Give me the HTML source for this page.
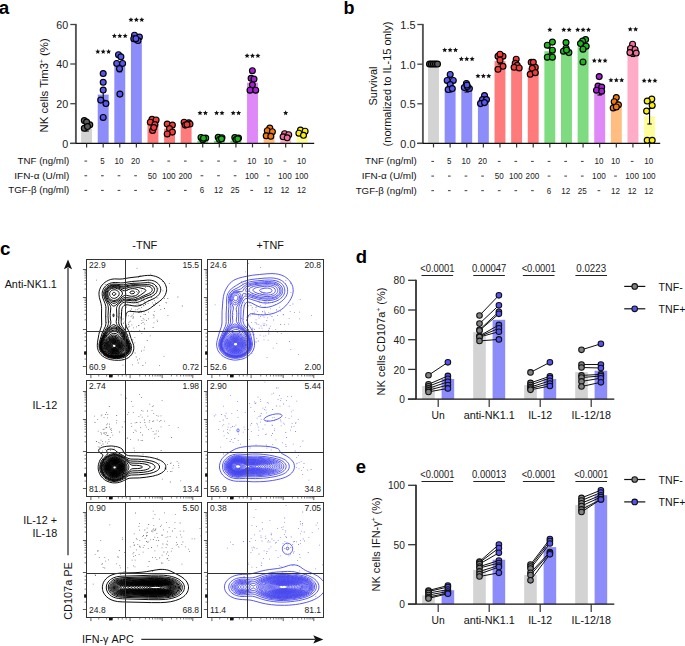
<!DOCTYPE html>
<html><head><meta charset="utf-8"><style>
html,body{margin:0;padding:0;background:#fff;}
svg{display:block;font-family:"Liberation Sans", sans-serif;}
</style></head><body>
<svg width="685" height="646" viewBox="0 0 685 646">
<rect width="685" height="646" fill="#fff"/>
<text x="-1.20" y="13.90" font-size="18.8" text-anchor="start" font-weight="bold">a</text>
<text x="343.40" y="13.90" font-size="19" text-anchor="start" font-weight="bold" textLength="11.0" lengthAdjust="spacingAndGlyphs">b</text>
<text x="0.00" y="255.30" font-size="18.8" text-anchor="start" font-weight="bold">c</text>
<text x="355.80" y="263.10" font-size="18.5" text-anchor="start" font-weight="bold">d</text>
<text x="355.80" y="472.90" font-size="18.5" text-anchor="start" font-weight="bold">e</text>
<rect x="81.15" y="128.30" width="10.90" height="15.10" fill="#d3d3d3"/>
<rect x="97.74" y="94.60" width="10.90" height="48.80" fill="#8c8cfb"/>
<rect x="114.33" y="66.90" width="10.90" height="76.50" fill="#8c8cfb"/>
<rect x="130.92" y="40.60" width="10.90" height="102.80" fill="#8c8cfb"/>
<rect x="147.51" y="123.90" width="10.90" height="19.50" fill="#ff7b7b"/>
<rect x="164.10" y="128.60" width="10.90" height="14.80" fill="#ff7b7b"/>
<rect x="180.69" y="124.50" width="10.90" height="18.90" fill="#ff7b7b"/>
<rect x="197.28" y="140.90" width="10.90" height="2.50" fill="#7fdb7f"/>
<rect x="213.87" y="140.60" width="10.90" height="2.80" fill="#7fdb7f"/>
<rect x="230.46" y="140.60" width="10.90" height="2.80" fill="#7fdb7f"/>
<rect x="247.05" y="82.70" width="10.90" height="60.70" fill="#df88f7"/>
<rect x="263.64" y="133.00" width="10.90" height="10.40" fill="#ffbd80"/>
<rect x="280.23" y="140.40" width="10.90" height="3.00" fill="#ffacc8"/>
<rect x="296.82" y="136.30" width="10.90" height="7.10" fill="#fdfd9a"/>
<line x1="86.60" y1="125.00" x2="86.60" y2="131.00" stroke="#000" stroke-width="1.1"/>
<line x1="84.40" y1="125.00" x2="88.80" y2="125.00" stroke="#000" stroke-width="1.1"/>
<line x1="84.40" y1="131.00" x2="88.80" y2="131.00" stroke="#000" stroke-width="1.1"/>
<line x1="103.19" y1="90.00" x2="103.19" y2="100.20" stroke="#000" stroke-width="1.1"/>
<line x1="100.99" y1="90.00" x2="105.39" y2="90.00" stroke="#000" stroke-width="1.1"/>
<line x1="100.99" y1="100.20" x2="105.39" y2="100.20" stroke="#000" stroke-width="1.1"/>
<line x1="119.78" y1="62.50" x2="119.78" y2="71.80" stroke="#000" stroke-width="1.1"/>
<line x1="117.58" y1="62.50" x2="121.98" y2="62.50" stroke="#000" stroke-width="1.1"/>
<line x1="117.58" y1="71.80" x2="121.98" y2="71.80" stroke="#000" stroke-width="1.1"/>
<line x1="136.37" y1="38.50" x2="136.37" y2="42.00" stroke="#000" stroke-width="1.1"/>
<line x1="134.17" y1="38.50" x2="138.57" y2="38.50" stroke="#000" stroke-width="1.1"/>
<line x1="134.17" y1="42.00" x2="138.57" y2="42.00" stroke="#000" stroke-width="1.1"/>
<line x1="152.96" y1="121.00" x2="152.96" y2="127.00" stroke="#000" stroke-width="1.1"/>
<line x1="150.76" y1="121.00" x2="155.16" y2="121.00" stroke="#000" stroke-width="1.1"/>
<line x1="150.76" y1="127.00" x2="155.16" y2="127.00" stroke="#000" stroke-width="1.1"/>
<line x1="169.55" y1="126.00" x2="169.55" y2="131.00" stroke="#000" stroke-width="1.1"/>
<line x1="167.35" y1="126.00" x2="171.75" y2="126.00" stroke="#000" stroke-width="1.1"/>
<line x1="167.35" y1="131.00" x2="171.75" y2="131.00" stroke="#000" stroke-width="1.1"/>
<line x1="186.14" y1="123.00" x2="186.14" y2="126.00" stroke="#000" stroke-width="1.1"/>
<line x1="183.94" y1="123.00" x2="188.34" y2="123.00" stroke="#000" stroke-width="1.1"/>
<line x1="183.94" y1="126.00" x2="188.34" y2="126.00" stroke="#000" stroke-width="1.1"/>
<line x1="252.50" y1="78.00" x2="252.50" y2="87.00" stroke="#000" stroke-width="1.1"/>
<line x1="250.30" y1="78.00" x2="254.70" y2="78.00" stroke="#000" stroke-width="1.1"/>
<line x1="250.30" y1="87.00" x2="254.70" y2="87.00" stroke="#000" stroke-width="1.1"/>
<line x1="269.09" y1="130.50" x2="269.09" y2="135.50" stroke="#000" stroke-width="1.1"/>
<line x1="266.89" y1="130.50" x2="271.29" y2="130.50" stroke="#000" stroke-width="1.1"/>
<line x1="266.89" y1="135.50" x2="271.29" y2="135.50" stroke="#000" stroke-width="1.1"/>
<line x1="285.68" y1="135.00" x2="285.68" y2="139.00" stroke="#000" stroke-width="1.1"/>
<line x1="283.48" y1="135.00" x2="287.88" y2="135.00" stroke="#000" stroke-width="1.1"/>
<line x1="283.48" y1="139.00" x2="287.88" y2="139.00" stroke="#000" stroke-width="1.1"/>
<line x1="302.27" y1="131.50" x2="302.27" y2="135.00" stroke="#000" stroke-width="1.1"/>
<line x1="300.07" y1="131.50" x2="304.47" y2="131.50" stroke="#000" stroke-width="1.1"/>
<line x1="300.07" y1="135.00" x2="304.47" y2="135.00" stroke="#000" stroke-width="1.1"/>
<circle cx="84.30" cy="120.60" r="2.95" fill="#5a5a5a" stroke="#000" stroke-width="1.15"/>
<circle cx="89.80" cy="124.80" r="2.95" fill="#5a5a5a" stroke="#000" stroke-width="1.15"/>
<circle cx="84.30" cy="128.30" r="2.95" fill="#5a5a5a" stroke="#000" stroke-width="1.15"/>
<circle cx="86.60" cy="122.00" r="2.95" fill="#5a5a5a" stroke="#000" stroke-width="1.15"/>
<circle cx="87.50" cy="126.50" r="2.95" fill="#5a5a5a" stroke="#000" stroke-width="1.15"/>
<circle cx="103.20" cy="73.50" r="2.95" fill="#5757f2" stroke="#000" stroke-width="1.15"/>
<circle cx="103.20" cy="82.30" r="2.95" fill="#5757f2" stroke="#000" stroke-width="1.15"/>
<circle cx="103.20" cy="90.00" r="2.95" fill="#5757f2" stroke="#000" stroke-width="1.15"/>
<circle cx="100.70" cy="100.10" r="2.95" fill="#5757f2" stroke="#000" stroke-width="1.15"/>
<circle cx="105.90" cy="103.50" r="2.95" fill="#5757f2" stroke="#000" stroke-width="1.15"/>
<circle cx="103.20" cy="117.40" r="2.95" fill="#5757f2" stroke="#000" stroke-width="1.15"/>
<circle cx="118.50" cy="54.70" r="2.95" fill="#5757f2" stroke="#000" stroke-width="1.15"/>
<circle cx="120.90" cy="56.80" r="2.95" fill="#5757f2" stroke="#000" stroke-width="1.15"/>
<circle cx="116.70" cy="63.40" r="2.95" fill="#5757f2" stroke="#000" stroke-width="1.15"/>
<circle cx="122.60" cy="63.40" r="2.95" fill="#5757f2" stroke="#000" stroke-width="1.15"/>
<circle cx="119.50" cy="68.70" r="2.95" fill="#5757f2" stroke="#000" stroke-width="1.15"/>
<circle cx="119.90" cy="94.10" r="2.95" fill="#5757f2" stroke="#000" stroke-width="1.15"/>
<circle cx="134.50" cy="35.20" r="2.95" fill="#5757f2" stroke="#000" stroke-width="1.15"/>
<circle cx="139.40" cy="37.00" r="2.95" fill="#5757f2" stroke="#000" stroke-width="1.15"/>
<circle cx="133.80" cy="38.70" r="2.95" fill="#5757f2" stroke="#000" stroke-width="1.15"/>
<circle cx="138.00" cy="40.50" r="2.95" fill="#5757f2" stroke="#000" stroke-width="1.15"/>
<circle cx="135.90" cy="38.70" r="2.95" fill="#5757f2" stroke="#000" stroke-width="1.15"/>
<circle cx="152.00" cy="119.30" r="2.95" fill="#f03c3c" stroke="#000" stroke-width="1.15"/>
<circle cx="156.10" cy="119.90" r="2.95" fill="#f03c3c" stroke="#000" stroke-width="1.15"/>
<circle cx="150.30" cy="122.20" r="2.95" fill="#f03c3c" stroke="#000" stroke-width="1.15"/>
<circle cx="154.90" cy="124.50" r="2.95" fill="#f03c3c" stroke="#000" stroke-width="1.15"/>
<circle cx="152.60" cy="130.40" r="2.95" fill="#f03c3c" stroke="#000" stroke-width="1.15"/>
<circle cx="153.80" cy="127.50" r="2.95" fill="#f03c3c" stroke="#000" stroke-width="1.15"/>
<circle cx="167.20" cy="124.00" r="2.95" fill="#f03c3c" stroke="#000" stroke-width="1.15"/>
<circle cx="172.40" cy="125.10" r="2.95" fill="#f03c3c" stroke="#000" stroke-width="1.15"/>
<circle cx="169.50" cy="128.60" r="2.95" fill="#f03c3c" stroke="#000" stroke-width="1.15"/>
<circle cx="172.40" cy="132.10" r="2.95" fill="#f03c3c" stroke="#000" stroke-width="1.15"/>
<circle cx="167.20" cy="133.90" r="2.95" fill="#f03c3c" stroke="#000" stroke-width="1.15"/>
<circle cx="184.10" cy="122.20" r="2.95" fill="#f03c3c" stroke="#000" stroke-width="1.15"/>
<circle cx="188.80" cy="122.80" r="2.95" fill="#f03c3c" stroke="#000" stroke-width="1.15"/>
<circle cx="185.30" cy="125.10" r="2.95" fill="#f03c3c" stroke="#000" stroke-width="1.15"/>
<circle cx="190.00" cy="124.00" r="2.95" fill="#f03c3c" stroke="#000" stroke-width="1.15"/>
<circle cx="187.00" cy="124.50" r="2.95" fill="#f03c3c" stroke="#000" stroke-width="1.15"/>
<circle cx="201.00" cy="137.40" r="2.95" fill="#1fb51f" stroke="#000" stroke-width="1.15"/>
<circle cx="205.70" cy="138.00" r="2.95" fill="#1fb51f" stroke="#000" stroke-width="1.15"/>
<circle cx="202.80" cy="139.70" r="2.95" fill="#1fb51f" stroke="#000" stroke-width="1.15"/>
<circle cx="203.50" cy="138.20" r="2.95" fill="#1fb51f" stroke="#000" stroke-width="1.15"/>
<circle cx="218.20" cy="137.30" r="2.95" fill="#1fb51f" stroke="#000" stroke-width="1.15"/>
<circle cx="222.00" cy="137.70" r="2.95" fill="#1fb51f" stroke="#000" stroke-width="1.15"/>
<circle cx="219.50" cy="139.50" r="2.95" fill="#1fb51f" stroke="#000" stroke-width="1.15"/>
<circle cx="221.50" cy="138.80" r="2.95" fill="#1fb51f" stroke="#000" stroke-width="1.15"/>
<circle cx="234.80" cy="137.50" r="2.95" fill="#1fb51f" stroke="#000" stroke-width="1.15"/>
<circle cx="238.50" cy="138.00" r="2.95" fill="#1fb51f" stroke="#000" stroke-width="1.15"/>
<circle cx="236.00" cy="139.60" r="2.95" fill="#1fb51f" stroke="#000" stroke-width="1.15"/>
<circle cx="237.80" cy="138.80" r="2.95" fill="#1fb51f" stroke="#000" stroke-width="1.15"/>
<circle cx="252.40" cy="70.70" r="2.95" fill="#a61fd4" stroke="#000" stroke-width="1.15"/>
<circle cx="251.10" cy="78.30" r="2.95" fill="#a61fd4" stroke="#000" stroke-width="1.15"/>
<circle cx="254.00" cy="79.10" r="2.95" fill="#a61fd4" stroke="#000" stroke-width="1.15"/>
<circle cx="252.40" cy="84.80" r="2.95" fill="#a61fd4" stroke="#000" stroke-width="1.15"/>
<circle cx="250.00" cy="90.20" r="2.95" fill="#a61fd4" stroke="#000" stroke-width="1.15"/>
<circle cx="255.70" cy="90.20" r="2.95" fill="#a61fd4" stroke="#000" stroke-width="1.15"/>
<circle cx="269.80" cy="128.10" r="2.95" fill="#f07a10" stroke="#000" stroke-width="1.15"/>
<circle cx="267.30" cy="130.70" r="2.95" fill="#f07a10" stroke="#000" stroke-width="1.15"/>
<circle cx="272.40" cy="131.70" r="2.95" fill="#f07a10" stroke="#000" stroke-width="1.15"/>
<circle cx="266.20" cy="135.80" r="2.95" fill="#f07a10" stroke="#000" stroke-width="1.15"/>
<circle cx="270.80" cy="136.30" r="2.95" fill="#f07a10" stroke="#000" stroke-width="1.15"/>
<circle cx="284.60" cy="133.70" r="2.95" fill="#f06f9c" stroke="#000" stroke-width="1.15"/>
<circle cx="288.70" cy="134.70" r="2.95" fill="#f06f9c" stroke="#000" stroke-width="1.15"/>
<circle cx="283.10" cy="136.80" r="2.95" fill="#f06f9c" stroke="#000" stroke-width="1.15"/>
<circle cx="287.20" cy="137.80" r="2.95" fill="#f06f9c" stroke="#000" stroke-width="1.15"/>
<circle cx="300.50" cy="130.10" r="2.95" fill="#fbee0a" stroke="#000" stroke-width="1.15"/>
<circle cx="305.10" cy="131.20" r="2.95" fill="#fbee0a" stroke="#000" stroke-width="1.15"/>
<circle cx="298.90" cy="133.20" r="2.95" fill="#fbee0a" stroke="#000" stroke-width="1.15"/>
<circle cx="303.50" cy="135.30" r="2.95" fill="#fbee0a" stroke="#000" stroke-width="1.15"/>
<line x1="75.90" y1="23.90" x2="75.90" y2="143.40" stroke="#555" stroke-width="1.9"/>
<line x1="70.30" y1="143.40" x2="314.20" y2="143.40" stroke="#111" stroke-width="1.35"/>
<line x1="70.30" y1="143.40" x2="75.90" y2="143.40" stroke="#444" stroke-width="1.3"/>
<text x="68.20" y="147.80" font-size="10.7" text-anchor="end" fill="#222">0</text>
<line x1="70.30" y1="103.70" x2="75.90" y2="103.70" stroke="#444" stroke-width="1.3"/>
<text x="68.20" y="108.10" font-size="10.7" text-anchor="end" fill="#222">20</text>
<line x1="70.30" y1="64.00" x2="75.90" y2="64.00" stroke="#444" stroke-width="1.3"/>
<text x="68.20" y="68.40" font-size="10.7" text-anchor="end" fill="#222">40</text>
<line x1="70.30" y1="24.50" x2="75.90" y2="24.50" stroke="#444" stroke-width="1.3"/>
<text x="68.20" y="28.90" font-size="10.7" text-anchor="end" fill="#222">60</text>
<line x1="86.60" y1="143.40" x2="86.60" y2="147.40" stroke="#333" stroke-width="1.2"/>
<line x1="103.19" y1="143.40" x2="103.19" y2="147.40" stroke="#333" stroke-width="1.2"/>
<line x1="119.78" y1="143.40" x2="119.78" y2="147.40" stroke="#333" stroke-width="1.2"/>
<line x1="136.37" y1="143.40" x2="136.37" y2="147.40" stroke="#333" stroke-width="1.2"/>
<line x1="152.96" y1="143.40" x2="152.96" y2="147.40" stroke="#333" stroke-width="1.2"/>
<line x1="169.55" y1="143.40" x2="169.55" y2="147.40" stroke="#333" stroke-width="1.2"/>
<line x1="186.14" y1="143.40" x2="186.14" y2="147.40" stroke="#333" stroke-width="1.2"/>
<line x1="202.73" y1="143.40" x2="202.73" y2="147.40" stroke="#333" stroke-width="1.2"/>
<line x1="219.32" y1="143.40" x2="219.32" y2="147.40" stroke="#333" stroke-width="1.2"/>
<line x1="235.91" y1="143.40" x2="235.91" y2="147.40" stroke="#333" stroke-width="1.2"/>
<line x1="252.50" y1="143.40" x2="252.50" y2="147.40" stroke="#333" stroke-width="1.2"/>
<line x1="269.09" y1="143.40" x2="269.09" y2="147.40" stroke="#333" stroke-width="1.2"/>
<line x1="285.68" y1="143.40" x2="285.68" y2="147.40" stroke="#333" stroke-width="1.2"/>
<line x1="302.27" y1="143.40" x2="302.27" y2="147.40" stroke="#333" stroke-width="1.2"/>
<path d="M97.79,49.00 L98.52,50.64 L100.31,50.83 L98.97,52.03 L99.35,53.79 L97.79,52.90 L96.23,53.79 L96.61,52.03 L95.27,50.83 L97.06,50.64ZM103.19,49.00 L103.92,50.64 L105.71,50.83 L104.37,52.03 L104.75,53.79 L103.19,52.90 L101.63,53.79 L102.01,52.03 L100.67,50.83 L102.46,50.64ZM108.59,49.00 L109.32,50.64 L111.11,50.83 L109.77,52.03 L110.15,53.79 L108.59,52.90 L107.03,53.79 L107.41,52.03 L106.07,50.83 L107.86,50.64Z" fill="#111"/>
<path d="M114.38,33.25 L115.11,34.89 L116.90,35.08 L115.56,36.28 L115.94,38.04 L114.38,37.15 L112.82,38.04 L113.20,36.28 L111.86,35.08 L113.65,34.89ZM119.78,33.25 L120.51,34.89 L122.30,35.08 L120.96,36.28 L121.34,38.04 L119.78,37.15 L118.22,38.04 L118.60,36.28 L117.26,35.08 L119.05,34.89ZM125.18,33.25 L125.91,34.89 L127.70,35.08 L126.36,36.28 L126.74,38.04 L125.18,37.15 L123.62,38.04 L124.00,36.28 L122.66,35.08 L124.45,34.89Z" fill="#111"/>
<path d="M130.97,17.20 L131.70,18.84 L133.49,19.03 L132.15,20.23 L132.53,21.99 L130.97,21.10 L129.41,21.99 L129.79,20.23 L128.45,19.03 L130.24,18.84ZM136.37,17.20 L137.10,18.84 L138.89,19.03 L137.55,20.23 L137.93,21.99 L136.37,21.10 L134.81,21.99 L135.19,20.23 L133.85,19.03 L135.64,18.84ZM141.77,17.20 L142.50,18.84 L144.29,19.03 L142.95,20.23 L143.33,21.99 L141.77,21.10 L140.21,21.99 L140.59,20.23 L139.25,19.03 L141.04,18.84Z" fill="#111"/>
<path d="M200.03,110.40 L200.76,112.04 L202.55,112.23 L201.21,113.43 L201.59,115.19 L200.03,114.30 L198.47,115.19 L198.85,113.43 L197.51,112.23 L199.30,112.04ZM205.43,110.40 L206.16,112.04 L207.95,112.23 L206.61,113.43 L206.99,115.19 L205.43,114.30 L203.87,115.19 L204.25,113.43 L202.91,112.23 L204.70,112.04Z" fill="#111"/>
<path d="M216.62,110.40 L217.35,112.04 L219.14,112.23 L217.80,113.43 L218.18,115.19 L216.62,114.30 L215.06,115.19 L215.44,113.43 L214.10,112.23 L215.89,112.04ZM222.02,110.40 L222.75,112.04 L224.54,112.23 L223.20,113.43 L223.58,115.19 L222.02,114.30 L220.46,115.19 L220.84,113.43 L219.50,112.23 L221.29,112.04Z" fill="#111"/>
<path d="M233.21,110.40 L233.94,112.04 L235.73,112.23 L234.39,113.43 L234.77,115.19 L233.21,114.30 L231.65,115.19 L232.03,113.43 L230.69,112.23 L232.48,112.04ZM238.61,110.40 L239.34,112.04 L241.13,112.23 L239.79,113.43 L240.17,115.19 L238.61,114.30 L237.05,115.19 L237.43,113.43 L236.09,112.23 L237.88,112.04Z" fill="#111"/>
<path d="M247.10,53.20 L247.83,54.84 L249.62,55.03 L248.28,56.23 L248.66,57.99 L247.10,57.10 L245.54,57.99 L245.92,56.23 L244.58,55.03 L246.37,54.84ZM252.50,53.20 L253.23,54.84 L255.02,55.03 L253.68,56.23 L254.06,57.99 L252.50,57.10 L250.94,57.99 L251.32,56.23 L249.98,55.03 L251.77,54.84ZM257.90,53.20 L258.63,54.84 L260.42,55.03 L259.08,56.23 L259.46,57.99 L257.90,57.10 L256.34,57.99 L256.72,56.23 L255.38,55.03 L257.17,54.84Z" fill="#111"/>
<path d="M285.68,110.35 L286.41,111.99 L288.20,112.18 L286.86,113.38 L287.24,115.14 L285.68,114.25 L284.12,115.14 L284.50,113.38 L283.16,112.18 L284.95,111.99Z" fill="#111"/>
<text x="17.60" y="163.90" font-size="9.6" text-anchor="start" fill="#111" textLength="51.7" lengthAdjust="spacingAndGlyphs">TNF (ng/ml)</text>
<rect x="84.45" y="160.60" width="2.70" height="0.95" fill="#333"/>
<text x="100.19" y="163.90" font-size="8.9" text-anchor="start" fill="#222" textLength="4.4" lengthAdjust="spacingAndGlyphs">5</text>
<text x="114.48" y="163.90" font-size="8.9" text-anchor="start" fill="#222" textLength="9.0" lengthAdjust="spacingAndGlyphs">10</text>
<text x="131.07" y="163.90" font-size="8.9" text-anchor="start" fill="#222" textLength="9.0" lengthAdjust="spacingAndGlyphs">20</text>
<rect x="150.81" y="160.60" width="2.70" height="0.95" fill="#333"/>
<rect x="167.40" y="160.60" width="2.70" height="0.95" fill="#333"/>
<rect x="183.99" y="160.60" width="2.70" height="0.95" fill="#333"/>
<rect x="200.58" y="160.60" width="2.70" height="0.95" fill="#333"/>
<rect x="217.17" y="160.60" width="2.70" height="0.95" fill="#333"/>
<rect x="233.76" y="160.60" width="2.70" height="0.95" fill="#333"/>
<text x="247.20" y="163.90" font-size="8.9" text-anchor="start" fill="#222" textLength="9.0" lengthAdjust="spacingAndGlyphs">10</text>
<text x="263.79" y="163.90" font-size="8.9" text-anchor="start" fill="#222" textLength="9.0" lengthAdjust="spacingAndGlyphs">10</text>
<rect x="283.53" y="160.60" width="2.70" height="0.95" fill="#333"/>
<text x="296.97" y="163.90" font-size="8.9" text-anchor="start" fill="#222" textLength="9.0" lengthAdjust="spacingAndGlyphs">10</text>
<text x="14.30" y="178.60" font-size="9.6" text-anchor="start" fill="#111" textLength="55.0" lengthAdjust="spacingAndGlyphs">IFN-α (U/ml)</text>
<rect x="84.45" y="175.30" width="2.70" height="0.95" fill="#333"/>
<rect x="101.04" y="175.30" width="2.70" height="0.95" fill="#333"/>
<rect x="117.63" y="175.30" width="2.70" height="0.95" fill="#333"/>
<rect x="134.22" y="175.30" width="2.70" height="0.95" fill="#333"/>
<text x="147.66" y="178.60" font-size="8.9" text-anchor="start" fill="#222" textLength="9.0" lengthAdjust="spacingAndGlyphs">50</text>
<text x="161.95" y="178.60" font-size="8.9" text-anchor="start" fill="#222" textLength="13.6" lengthAdjust="spacingAndGlyphs">100</text>
<text x="178.54" y="178.60" font-size="8.9" text-anchor="start" fill="#222" textLength="13.6" lengthAdjust="spacingAndGlyphs">200</text>
<rect x="200.58" y="175.30" width="2.70" height="0.95" fill="#333"/>
<rect x="217.17" y="175.30" width="2.70" height="0.95" fill="#333"/>
<rect x="233.76" y="175.30" width="2.70" height="0.95" fill="#333"/>
<text x="244.90" y="178.60" font-size="8.9" text-anchor="start" fill="#222" textLength="13.6" lengthAdjust="spacingAndGlyphs">100</text>
<rect x="266.94" y="175.30" width="2.70" height="0.95" fill="#333"/>
<text x="278.08" y="178.60" font-size="8.9" text-anchor="start" fill="#222" textLength="13.6" lengthAdjust="spacingAndGlyphs">100</text>
<text x="294.67" y="178.60" font-size="8.9" text-anchor="start" fill="#222" textLength="13.6" lengthAdjust="spacingAndGlyphs">100</text>
<text x="8.30" y="193.20" font-size="9.6" text-anchor="start" fill="#111" textLength="61.0" lengthAdjust="spacingAndGlyphs">TGF-β (ng/ml)</text>
<rect x="84.45" y="189.90" width="2.70" height="0.95" fill="#333"/>
<rect x="101.04" y="189.90" width="2.70" height="0.95" fill="#333"/>
<rect x="117.63" y="189.90" width="2.70" height="0.95" fill="#333"/>
<rect x="134.22" y="189.90" width="2.70" height="0.95" fill="#333"/>
<rect x="150.81" y="189.90" width="2.70" height="0.95" fill="#333"/>
<rect x="167.40" y="189.90" width="2.70" height="0.95" fill="#333"/>
<rect x="183.99" y="189.90" width="2.70" height="0.95" fill="#333"/>
<text x="199.73" y="193.20" font-size="8.9" text-anchor="start" fill="#222" textLength="4.4" lengthAdjust="spacingAndGlyphs">6</text>
<text x="214.02" y="193.20" font-size="8.9" text-anchor="start" fill="#222" textLength="9.0" lengthAdjust="spacingAndGlyphs">12</text>
<text x="230.61" y="193.20" font-size="8.9" text-anchor="start" fill="#222" textLength="9.0" lengthAdjust="spacingAndGlyphs">25</text>
<rect x="250.35" y="189.90" width="2.70" height="0.95" fill="#333"/>
<text x="263.79" y="193.20" font-size="8.9" text-anchor="start" fill="#222" textLength="9.0" lengthAdjust="spacingAndGlyphs">12</text>
<text x="280.38" y="193.20" font-size="8.9" text-anchor="start" fill="#222" textLength="9.0" lengthAdjust="spacingAndGlyphs">12</text>
<text x="296.97" y="193.20" font-size="8.9" text-anchor="start" fill="#222" textLength="9.0" lengthAdjust="spacingAndGlyphs">12</text>
<text x="48.20" y="85.40" font-size="11.4" text-anchor="middle" fill="#111" transform="rotate(-90 48.20 85.40)">NK cells Tim3<tspan font-size="6.5" dy="-4">+</tspan><tspan dy="4"> (%)</tspan></text>
<rect x="428.05" y="64.00" width="10.90" height="79.40" fill="#d3d3d3"/>
<rect x="444.67" y="89.50" width="10.90" height="53.90" fill="#8c8cfb"/>
<rect x="461.29" y="90.50" width="10.90" height="52.90" fill="#8c8cfb"/>
<rect x="477.91" y="99.60" width="10.90" height="43.80" fill="#8c8cfb"/>
<rect x="494.53" y="61.20" width="10.90" height="82.20" fill="#ff7b7b"/>
<rect x="511.15" y="66.30" width="10.90" height="77.10" fill="#ff7b7b"/>
<rect x="527.77" y="68.30" width="10.90" height="75.10" fill="#ff7b7b"/>
<rect x="544.39" y="51.20" width="10.90" height="92.20" fill="#7fdb7f"/>
<rect x="561.01" y="49.50" width="10.90" height="93.90" fill="#7fdb7f"/>
<rect x="577.63" y="47.20" width="10.90" height="96.20" fill="#7fdb7f"/>
<rect x="594.25" y="93.30" width="10.90" height="50.10" fill="#df88f7"/>
<rect x="610.87" y="103.70" width="10.90" height="39.70" fill="#ffbd80"/>
<rect x="627.49" y="54.70" width="10.90" height="88.70" fill="#ffacc8"/>
<rect x="644.11" y="116.30" width="10.90" height="27.10" fill="#fdfd9a"/>
<line x1="450.12" y1="86.00" x2="450.12" y2="92.00" stroke="#000" stroke-width="1.1"/>
<line x1="447.92" y1="86.00" x2="452.32" y2="86.00" stroke="#000" stroke-width="1.1"/>
<line x1="447.92" y1="92.00" x2="452.32" y2="92.00" stroke="#000" stroke-width="1.1"/>
<line x1="466.74" y1="88.00" x2="466.74" y2="92.00" stroke="#000" stroke-width="1.1"/>
<line x1="464.54" y1="88.00" x2="468.94" y2="88.00" stroke="#000" stroke-width="1.1"/>
<line x1="464.54" y1="92.00" x2="468.94" y2="92.00" stroke="#000" stroke-width="1.1"/>
<line x1="483.36" y1="98.00" x2="483.36" y2="101.50" stroke="#000" stroke-width="1.1"/>
<line x1="481.16" y1="98.00" x2="485.56" y2="98.00" stroke="#000" stroke-width="1.1"/>
<line x1="481.16" y1="101.50" x2="485.56" y2="101.50" stroke="#000" stroke-width="1.1"/>
<line x1="499.98" y1="58.00" x2="499.98" y2="64.00" stroke="#000" stroke-width="1.1"/>
<line x1="497.78" y1="58.00" x2="502.18" y2="58.00" stroke="#000" stroke-width="1.1"/>
<line x1="497.78" y1="64.00" x2="502.18" y2="64.00" stroke="#000" stroke-width="1.1"/>
<line x1="516.60" y1="64.00" x2="516.60" y2="68.00" stroke="#000" stroke-width="1.1"/>
<line x1="514.40" y1="64.00" x2="518.80" y2="64.00" stroke="#000" stroke-width="1.1"/>
<line x1="514.40" y1="68.00" x2="518.80" y2="68.00" stroke="#000" stroke-width="1.1"/>
<line x1="533.22" y1="65.00" x2="533.22" y2="71.00" stroke="#000" stroke-width="1.1"/>
<line x1="531.02" y1="65.00" x2="535.42" y2="65.00" stroke="#000" stroke-width="1.1"/>
<line x1="531.02" y1="71.00" x2="535.42" y2="71.00" stroke="#000" stroke-width="1.1"/>
<line x1="549.84" y1="48.00" x2="549.84" y2="54.00" stroke="#000" stroke-width="1.1"/>
<line x1="547.64" y1="48.00" x2="552.04" y2="48.00" stroke="#000" stroke-width="1.1"/>
<line x1="547.64" y1="54.00" x2="552.04" y2="54.00" stroke="#000" stroke-width="1.1"/>
<line x1="566.46" y1="47.50" x2="566.46" y2="51.50" stroke="#000" stroke-width="1.1"/>
<line x1="564.26" y1="47.50" x2="568.66" y2="47.50" stroke="#000" stroke-width="1.1"/>
<line x1="564.26" y1="51.50" x2="568.66" y2="51.50" stroke="#000" stroke-width="1.1"/>
<line x1="583.08" y1="44.00" x2="583.08" y2="50.00" stroke="#000" stroke-width="1.1"/>
<line x1="580.88" y1="44.00" x2="585.28" y2="44.00" stroke="#000" stroke-width="1.1"/>
<line x1="580.88" y1="50.00" x2="585.28" y2="50.00" stroke="#000" stroke-width="1.1"/>
<line x1="599.70" y1="89.00" x2="599.70" y2="95.00" stroke="#000" stroke-width="1.1"/>
<line x1="597.50" y1="89.00" x2="601.90" y2="89.00" stroke="#000" stroke-width="1.1"/>
<line x1="597.50" y1="95.00" x2="601.90" y2="95.00" stroke="#000" stroke-width="1.1"/>
<line x1="616.32" y1="102.00" x2="616.32" y2="105.50" stroke="#000" stroke-width="1.1"/>
<line x1="614.12" y1="102.00" x2="618.52" y2="102.00" stroke="#000" stroke-width="1.1"/>
<line x1="614.12" y1="105.50" x2="618.52" y2="105.50" stroke="#000" stroke-width="1.1"/>
<line x1="632.94" y1="51.50" x2="632.94" y2="56.50" stroke="#000" stroke-width="1.1"/>
<line x1="630.74" y1="51.50" x2="635.14" y2="51.50" stroke="#000" stroke-width="1.1"/>
<line x1="630.74" y1="56.50" x2="635.14" y2="56.50" stroke="#000" stroke-width="1.1"/>
<line x1="649.56" y1="108.50" x2="649.56" y2="124.00" stroke="#000" stroke-width="1.1"/>
<line x1="647.36" y1="108.50" x2="651.76" y2="108.50" stroke="#000" stroke-width="1.1"/>
<line x1="647.36" y1="124.00" x2="651.76" y2="124.00" stroke="#000" stroke-width="1.1"/>
<circle cx="429.50" cy="64.10" r="2.95" fill="#5a5a5a" stroke="#000" stroke-width="1.15"/>
<circle cx="431.50" cy="64.10" r="2.95" fill="#5a5a5a" stroke="#000" stroke-width="1.15"/>
<circle cx="433.50" cy="64.10" r="2.95" fill="#5a5a5a" stroke="#000" stroke-width="1.15"/>
<circle cx="435.50" cy="64.10" r="2.95" fill="#5a5a5a" stroke="#000" stroke-width="1.15"/>
<circle cx="437.50" cy="64.10" r="2.95" fill="#5a5a5a" stroke="#000" stroke-width="1.15"/>
<circle cx="450.20" cy="74.40" r="2.95" fill="#5757f2" stroke="#000" stroke-width="1.15"/>
<circle cx="447.20" cy="80.40" r="2.95" fill="#5757f2" stroke="#000" stroke-width="1.15"/>
<circle cx="453.30" cy="80.40" r="2.95" fill="#5757f2" stroke="#000" stroke-width="1.15"/>
<circle cx="450.20" cy="84.50" r="2.95" fill="#5757f2" stroke="#000" stroke-width="1.15"/>
<circle cx="448.20" cy="89.50" r="2.95" fill="#5757f2" stroke="#000" stroke-width="1.15"/>
<circle cx="452.30" cy="88.50" r="2.95" fill="#5757f2" stroke="#000" stroke-width="1.15"/>
<circle cx="466.40" cy="83.40" r="2.95" fill="#5757f2" stroke="#000" stroke-width="1.15"/>
<circle cx="464.30" cy="87.50" r="2.95" fill="#5757f2" stroke="#000" stroke-width="1.15"/>
<circle cx="469.40" cy="88.50" r="2.95" fill="#5757f2" stroke="#000" stroke-width="1.15"/>
<circle cx="467.40" cy="86.50" r="2.95" fill="#5757f2" stroke="#000" stroke-width="1.15"/>
<circle cx="467.00" cy="85.00" r="2.95" fill="#5757f2" stroke="#000" stroke-width="1.15"/>
<circle cx="484.50" cy="95.50" r="2.95" fill="#5757f2" stroke="#000" stroke-width="1.15"/>
<circle cx="482.50" cy="99.60" r="2.95" fill="#5757f2" stroke="#000" stroke-width="1.15"/>
<circle cx="486.50" cy="99.60" r="2.95" fill="#5757f2" stroke="#000" stroke-width="1.15"/>
<circle cx="480.50" cy="103.60" r="2.95" fill="#5757f2" stroke="#000" stroke-width="1.15"/>
<circle cx="484.50" cy="102.60" r="2.95" fill="#5757f2" stroke="#000" stroke-width="1.15"/>
<circle cx="498.00" cy="56.20" r="2.95" fill="#f03c3c" stroke="#000" stroke-width="1.15"/>
<circle cx="503.00" cy="56.20" r="2.95" fill="#f03c3c" stroke="#000" stroke-width="1.15"/>
<circle cx="500.00" cy="54.20" r="2.95" fill="#f03c3c" stroke="#000" stroke-width="1.15"/>
<circle cx="500.00" cy="60.20" r="2.95" fill="#f03c3c" stroke="#000" stroke-width="1.15"/>
<circle cx="503.00" cy="66.30" r="2.95" fill="#f03c3c" stroke="#000" stroke-width="1.15"/>
<circle cx="498.00" cy="69.30" r="2.95" fill="#f03c3c" stroke="#000" stroke-width="1.15"/>
<circle cx="516.20" cy="59.20" r="2.95" fill="#f03c3c" stroke="#000" stroke-width="1.15"/>
<circle cx="515.20" cy="63.30" r="2.95" fill="#f03c3c" stroke="#000" stroke-width="1.15"/>
<circle cx="517.20" cy="65.30" r="2.95" fill="#f03c3c" stroke="#000" stroke-width="1.15"/>
<circle cx="514.10" cy="67.30" r="2.95" fill="#f03c3c" stroke="#000" stroke-width="1.15"/>
<circle cx="519.20" cy="67.90" r="2.95" fill="#f03c3c" stroke="#000" stroke-width="1.15"/>
<circle cx="531.20" cy="62.30" r="2.95" fill="#f03c3c" stroke="#000" stroke-width="1.15"/>
<circle cx="533.30" cy="62.30" r="2.95" fill="#f03c3c" stroke="#000" stroke-width="1.15"/>
<circle cx="535.30" cy="67.30" r="2.95" fill="#f03c3c" stroke="#000" stroke-width="1.15"/>
<circle cx="532.30" cy="68.30" r="2.95" fill="#f03c3c" stroke="#000" stroke-width="1.15"/>
<circle cx="530.20" cy="74.30" r="2.95" fill="#f03c3c" stroke="#000" stroke-width="1.15"/>
<circle cx="535.30" cy="72.70" r="2.95" fill="#f03c3c" stroke="#000" stroke-width="1.15"/>
<circle cx="547.30" cy="45.20" r="2.95" fill="#1fb51f" stroke="#000" stroke-width="1.15"/>
<circle cx="552.40" cy="42.10" r="2.95" fill="#1fb51f" stroke="#000" stroke-width="1.15"/>
<circle cx="552.40" cy="50.20" r="2.95" fill="#1fb51f" stroke="#000" stroke-width="1.15"/>
<circle cx="547.30" cy="57.20" r="2.95" fill="#1fb51f" stroke="#000" stroke-width="1.15"/>
<circle cx="552.40" cy="57.20" r="2.95" fill="#1fb51f" stroke="#000" stroke-width="1.15"/>
<circle cx="566.00" cy="42.50" r="2.95" fill="#1fb51f" stroke="#000" stroke-width="1.15"/>
<circle cx="566.00" cy="48.20" r="2.95" fill="#1fb51f" stroke="#000" stroke-width="1.15"/>
<circle cx="563.40" cy="51.20" r="2.95" fill="#1fb51f" stroke="#000" stroke-width="1.15"/>
<circle cx="568.90" cy="52.60" r="2.95" fill="#1fb51f" stroke="#000" stroke-width="1.15"/>
<circle cx="566.50" cy="50.00" r="2.95" fill="#1fb51f" stroke="#000" stroke-width="1.15"/>
<circle cx="585.60" cy="39.50" r="2.95" fill="#1fb51f" stroke="#000" stroke-width="1.15"/>
<circle cx="582.60" cy="41.10" r="2.95" fill="#1fb51f" stroke="#000" stroke-width="1.15"/>
<circle cx="580.50" cy="43.50" r="2.95" fill="#1fb51f" stroke="#000" stroke-width="1.15"/>
<circle cx="586.20" cy="46.20" r="2.95" fill="#1fb51f" stroke="#000" stroke-width="1.15"/>
<circle cx="583.00" cy="49.20" r="2.95" fill="#1fb51f" stroke="#000" stroke-width="1.15"/>
<circle cx="583.00" cy="61.90" r="2.95" fill="#1fb51f" stroke="#000" stroke-width="1.15"/>
<circle cx="599.20" cy="76.60" r="2.95" fill="#a61fd4" stroke="#000" stroke-width="1.15"/>
<circle cx="598.00" cy="86.00" r="2.95" fill="#a61fd4" stroke="#000" stroke-width="1.15"/>
<circle cx="601.70" cy="87.00" r="2.95" fill="#a61fd4" stroke="#000" stroke-width="1.15"/>
<circle cx="596.50" cy="90.20" r="2.95" fill="#a61fd4" stroke="#000" stroke-width="1.15"/>
<circle cx="601.70" cy="91.20" r="2.95" fill="#a61fd4" stroke="#000" stroke-width="1.15"/>
<circle cx="616.30" cy="97.50" r="2.95" fill="#f07a10" stroke="#000" stroke-width="1.15"/>
<circle cx="614.20" cy="101.70" r="2.95" fill="#f07a10" stroke="#000" stroke-width="1.15"/>
<circle cx="618.40" cy="104.80" r="2.95" fill="#f07a10" stroke="#000" stroke-width="1.15"/>
<circle cx="613.20" cy="107.90" r="2.95" fill="#f07a10" stroke="#000" stroke-width="1.15"/>
<circle cx="616.30" cy="106.90" r="2.95" fill="#f07a10" stroke="#000" stroke-width="1.15"/>
<circle cx="632.60" cy="44.20" r="2.95" fill="#f06f9c" stroke="#000" stroke-width="1.15"/>
<circle cx="630.50" cy="48.40" r="2.95" fill="#f06f9c" stroke="#000" stroke-width="1.15"/>
<circle cx="635.10" cy="49.40" r="2.95" fill="#f06f9c" stroke="#000" stroke-width="1.15"/>
<circle cx="629.90" cy="52.60" r="2.95" fill="#f06f9c" stroke="#000" stroke-width="1.15"/>
<circle cx="636.20" cy="53.00" r="2.95" fill="#f06f9c" stroke="#000" stroke-width="1.15"/>
<circle cx="651.80" cy="99.00" r="2.95" fill="#fbee0a" stroke="#000" stroke-width="1.15"/>
<circle cx="647.20" cy="101.00" r="2.95" fill="#fbee0a" stroke="#000" stroke-width="1.15"/>
<circle cx="652.20" cy="105.40" r="2.95" fill="#fbee0a" stroke="#000" stroke-width="1.15"/>
<circle cx="646.60" cy="111.10" r="2.95" fill="#fbee0a" stroke="#000" stroke-width="1.15"/>
<circle cx="647.20" cy="140.30" r="2.95" fill="#fbee0a" stroke="#000" stroke-width="1.15"/>
<circle cx="652.20" cy="140.30" r="2.95" fill="#fbee0a" stroke="#000" stroke-width="1.15"/>
<line x1="422.90" y1="23.90" x2="422.90" y2="143.40" stroke="#555" stroke-width="1.9"/>
<line x1="417.30" y1="143.40" x2="660.20" y2="143.40" stroke="#111" stroke-width="1.35"/>
<line x1="417.30" y1="143.40" x2="422.90" y2="143.40" stroke="#444" stroke-width="1.3"/>
<text x="415.50" y="147.80" font-size="10.9" text-anchor="end" fill="#222">0.0</text>
<line x1="417.30" y1="103.80" x2="422.90" y2="103.80" stroke="#444" stroke-width="1.3"/>
<text x="415.50" y="108.20" font-size="10.9" text-anchor="end" fill="#222">0.5</text>
<line x1="417.30" y1="64.20" x2="422.90" y2="64.20" stroke="#444" stroke-width="1.3"/>
<text x="415.50" y="68.60" font-size="10.9" text-anchor="end" fill="#222">1.0</text>
<line x1="417.30" y1="24.50" x2="422.90" y2="24.50" stroke="#444" stroke-width="1.3"/>
<text x="415.50" y="28.90" font-size="10.9" text-anchor="end" fill="#222">1.5</text>
<line x1="433.50" y1="143.40" x2="433.50" y2="147.40" stroke="#333" stroke-width="1.2"/>
<line x1="450.12" y1="143.40" x2="450.12" y2="147.40" stroke="#333" stroke-width="1.2"/>
<line x1="466.74" y1="143.40" x2="466.74" y2="147.40" stroke="#333" stroke-width="1.2"/>
<line x1="483.36" y1="143.40" x2="483.36" y2="147.40" stroke="#333" stroke-width="1.2"/>
<line x1="499.98" y1="143.40" x2="499.98" y2="147.40" stroke="#333" stroke-width="1.2"/>
<line x1="516.60" y1="143.40" x2="516.60" y2="147.40" stroke="#333" stroke-width="1.2"/>
<line x1="533.22" y1="143.40" x2="533.22" y2="147.40" stroke="#333" stroke-width="1.2"/>
<line x1="549.84" y1="143.40" x2="549.84" y2="147.40" stroke="#333" stroke-width="1.2"/>
<line x1="566.46" y1="143.40" x2="566.46" y2="147.40" stroke="#333" stroke-width="1.2"/>
<line x1="583.08" y1="143.40" x2="583.08" y2="147.40" stroke="#333" stroke-width="1.2"/>
<line x1="599.70" y1="143.40" x2="599.70" y2="147.40" stroke="#333" stroke-width="1.2"/>
<line x1="616.32" y1="143.40" x2="616.32" y2="147.40" stroke="#333" stroke-width="1.2"/>
<line x1="632.94" y1="143.40" x2="632.94" y2="147.40" stroke="#333" stroke-width="1.2"/>
<line x1="649.56" y1="143.40" x2="649.56" y2="147.40" stroke="#333" stroke-width="1.2"/>
<path d="M444.72,47.45 L445.45,49.09 L447.24,49.28 L445.90,50.48 L446.28,52.24 L444.72,51.35 L443.16,52.24 L443.54,50.48 L442.20,49.28 L443.99,49.09ZM450.12,47.45 L450.85,49.09 L452.64,49.28 L451.30,50.48 L451.68,52.24 L450.12,51.35 L448.56,52.24 L448.94,50.48 L447.60,49.28 L449.39,49.09ZM455.52,47.45 L456.25,49.09 L458.04,49.28 L456.70,50.48 L457.08,52.24 L455.52,51.35 L453.96,52.24 L454.34,50.48 L453.00,49.28 L454.79,49.09Z" fill="#111"/>
<path d="M461.34,56.35 L462.07,57.99 L463.86,58.18 L462.52,59.38 L462.90,61.14 L461.34,60.25 L459.78,61.14 L460.16,59.38 L458.82,58.18 L460.61,57.99ZM466.74,56.35 L467.47,57.99 L469.26,58.18 L467.92,59.38 L468.30,61.14 L466.74,60.25 L465.18,61.14 L465.56,59.38 L464.22,58.18 L466.01,57.99ZM472.14,56.35 L472.87,57.99 L474.66,58.18 L473.32,59.38 L473.70,61.14 L472.14,60.25 L470.58,61.14 L470.96,59.38 L469.62,58.18 L471.41,57.99Z" fill="#111"/>
<path d="M477.96,73.45 L478.69,75.09 L480.48,75.28 L479.14,76.48 L479.52,78.24 L477.96,77.35 L476.40,78.24 L476.78,76.48 L475.44,75.28 L477.23,75.09ZM483.36,73.45 L484.09,75.09 L485.88,75.28 L484.54,76.48 L484.92,78.24 L483.36,77.35 L481.80,78.24 L482.18,76.48 L480.84,75.28 L482.63,75.09ZM488.76,73.45 L489.49,75.09 L491.28,75.28 L489.94,76.48 L490.32,78.24 L488.76,77.35 L487.20,78.24 L487.58,76.48 L486.24,75.28 L488.03,75.09Z" fill="#111"/>
<path d="M549.84,27.15 L550.57,28.79 L552.36,28.98 L551.02,30.18 L551.40,31.94 L549.84,31.05 L548.28,31.94 L548.66,30.18 L547.32,28.98 L549.11,28.79Z" fill="#111"/>
<path d="M563.76,27.15 L564.49,28.79 L566.28,28.98 L564.94,30.18 L565.32,31.94 L563.76,31.05 L562.20,31.94 L562.58,30.18 L561.24,28.98 L563.03,28.79ZM569.16,27.15 L569.89,28.79 L571.68,28.98 L570.34,30.18 L570.72,31.94 L569.16,31.05 L567.60,31.94 L567.98,30.18 L566.64,28.98 L568.43,28.79Z" fill="#111"/>
<path d="M577.68,27.15 L578.41,28.79 L580.20,28.98 L578.86,30.18 L579.24,31.94 L577.68,31.05 L576.12,31.94 L576.50,30.18 L575.16,28.98 L576.95,28.79ZM583.08,27.15 L583.81,28.79 L585.60,28.98 L584.26,30.18 L584.64,31.94 L583.08,31.05 L581.52,31.94 L581.90,30.18 L580.56,28.98 L582.35,28.79ZM588.48,27.15 L589.21,28.79 L591.00,28.98 L589.66,30.18 L590.04,31.94 L588.48,31.05 L586.92,31.94 L587.30,30.18 L585.96,28.98 L587.75,28.79Z" fill="#111"/>
<path d="M594.30,58.00 L595.03,59.64 L596.82,59.83 L595.48,61.03 L595.86,62.79 L594.30,61.90 L592.74,62.79 L593.12,61.03 L591.78,59.83 L593.57,59.64ZM599.70,58.00 L600.43,59.64 L602.22,59.83 L600.88,61.03 L601.26,62.79 L599.70,61.90 L598.14,62.79 L598.52,61.03 L597.18,59.83 L598.97,59.64ZM605.10,58.00 L605.83,59.64 L607.62,59.83 L606.28,61.03 L606.66,62.79 L605.10,61.90 L603.54,62.79 L603.92,61.03 L602.58,59.83 L604.37,59.64Z" fill="#111"/>
<path d="M610.92,77.50 L611.65,79.14 L613.44,79.33 L612.10,80.53 L612.48,82.29 L610.92,81.40 L609.36,82.29 L609.74,80.53 L608.40,79.33 L610.19,79.14ZM616.32,77.50 L617.05,79.14 L618.84,79.33 L617.50,80.53 L617.88,82.29 L616.32,81.40 L614.76,82.29 L615.14,80.53 L613.80,79.33 L615.59,79.14ZM621.72,77.50 L622.45,79.14 L624.24,79.33 L622.90,80.53 L623.28,82.29 L621.72,81.40 L620.16,82.29 L620.54,80.53 L619.20,79.33 L620.99,79.14Z" fill="#111"/>
<path d="M630.24,26.65 L630.97,28.29 L632.76,28.48 L631.42,29.68 L631.80,31.44 L630.24,30.55 L628.68,31.44 L629.06,29.68 L627.72,28.48 L629.51,28.29ZM635.64,26.65 L636.37,28.29 L638.16,28.48 L636.82,29.68 L637.20,31.44 L635.64,30.55 L634.08,31.44 L634.46,29.68 L633.12,28.48 L634.91,28.29Z" fill="#111"/>
<path d="M644.16,78.05 L644.89,79.69 L646.68,79.88 L645.34,81.08 L645.72,82.84 L644.16,81.95 L642.60,82.84 L642.98,81.08 L641.64,79.88 L643.43,79.69ZM649.56,78.05 L650.29,79.69 L652.08,79.88 L650.74,81.08 L651.12,82.84 L649.56,81.95 L648.00,82.84 L648.38,81.08 L647.04,79.88 L648.83,79.69ZM654.96,78.05 L655.69,79.69 L657.48,79.88 L656.14,81.08 L656.52,82.84 L654.96,81.95 L653.40,82.84 L653.78,81.08 L652.44,79.88 L654.23,79.69Z" fill="#111"/>
<text x="365.00" y="164.20" font-size="9.6" text-anchor="start" fill="#111" textLength="51.7" lengthAdjust="spacingAndGlyphs">TNF (ng/ml)</text>
<rect x="431.35" y="160.90" width="2.70" height="0.95" fill="#333"/>
<text x="447.12" y="164.20" font-size="8.9" text-anchor="start" fill="#222" textLength="4.4" lengthAdjust="spacingAndGlyphs">5</text>
<text x="461.44" y="164.20" font-size="8.9" text-anchor="start" fill="#222" textLength="9.0" lengthAdjust="spacingAndGlyphs">10</text>
<text x="478.06" y="164.20" font-size="8.9" text-anchor="start" fill="#222" textLength="9.0" lengthAdjust="spacingAndGlyphs">20</text>
<rect x="497.83" y="160.90" width="2.70" height="0.95" fill="#333"/>
<rect x="514.45" y="160.90" width="2.70" height="0.95" fill="#333"/>
<rect x="531.07" y="160.90" width="2.70" height="0.95" fill="#333"/>
<rect x="547.69" y="160.90" width="2.70" height="0.95" fill="#333"/>
<rect x="564.31" y="160.90" width="2.70" height="0.95" fill="#333"/>
<rect x="580.93" y="160.90" width="2.70" height="0.95" fill="#333"/>
<text x="594.40" y="164.20" font-size="8.9" text-anchor="start" fill="#222" textLength="9.0" lengthAdjust="spacingAndGlyphs">10</text>
<text x="611.02" y="164.20" font-size="8.9" text-anchor="start" fill="#222" textLength="9.0" lengthAdjust="spacingAndGlyphs">10</text>
<rect x="630.79" y="160.90" width="2.70" height="0.95" fill="#333"/>
<text x="644.26" y="164.20" font-size="8.9" text-anchor="start" fill="#222" textLength="9.0" lengthAdjust="spacingAndGlyphs">10</text>
<text x="361.70" y="178.90" font-size="9.6" text-anchor="start" fill="#111" textLength="55.0" lengthAdjust="spacingAndGlyphs">IFN-α (U/ml)</text>
<rect x="431.35" y="175.60" width="2.70" height="0.95" fill="#333"/>
<rect x="447.97" y="175.60" width="2.70" height="0.95" fill="#333"/>
<rect x="464.59" y="175.60" width="2.70" height="0.95" fill="#333"/>
<rect x="481.21" y="175.60" width="2.70" height="0.95" fill="#333"/>
<text x="494.68" y="178.90" font-size="8.9" text-anchor="start" fill="#222" textLength="9.0" lengthAdjust="spacingAndGlyphs">50</text>
<text x="509.00" y="178.90" font-size="8.9" text-anchor="start" fill="#222" textLength="13.6" lengthAdjust="spacingAndGlyphs">100</text>
<text x="525.62" y="178.90" font-size="8.9" text-anchor="start" fill="#222" textLength="13.6" lengthAdjust="spacingAndGlyphs">200</text>
<rect x="547.69" y="175.60" width="2.70" height="0.95" fill="#333"/>
<rect x="564.31" y="175.60" width="2.70" height="0.95" fill="#333"/>
<rect x="580.93" y="175.60" width="2.70" height="0.95" fill="#333"/>
<text x="592.10" y="178.90" font-size="8.9" text-anchor="start" fill="#222" textLength="13.6" lengthAdjust="spacingAndGlyphs">100</text>
<rect x="614.17" y="175.60" width="2.70" height="0.95" fill="#333"/>
<text x="625.34" y="178.90" font-size="8.9" text-anchor="start" fill="#222" textLength="13.6" lengthAdjust="spacingAndGlyphs">100</text>
<text x="641.96" y="178.90" font-size="8.9" text-anchor="start" fill="#222" textLength="13.6" lengthAdjust="spacingAndGlyphs">100</text>
<text x="355.70" y="193.50" font-size="9.6" text-anchor="start" fill="#111" textLength="61.0" lengthAdjust="spacingAndGlyphs">TGF-β (ng/ml)</text>
<rect x="431.35" y="190.20" width="2.70" height="0.95" fill="#333"/>
<rect x="447.97" y="190.20" width="2.70" height="0.95" fill="#333"/>
<rect x="464.59" y="190.20" width="2.70" height="0.95" fill="#333"/>
<rect x="481.21" y="190.20" width="2.70" height="0.95" fill="#333"/>
<rect x="497.83" y="190.20" width="2.70" height="0.95" fill="#333"/>
<rect x="514.45" y="190.20" width="2.70" height="0.95" fill="#333"/>
<rect x="531.07" y="190.20" width="2.70" height="0.95" fill="#333"/>
<text x="546.84" y="193.50" font-size="8.9" text-anchor="start" fill="#222" textLength="4.4" lengthAdjust="spacingAndGlyphs">6</text>
<text x="561.16" y="193.50" font-size="8.9" text-anchor="start" fill="#222" textLength="9.0" lengthAdjust="spacingAndGlyphs">12</text>
<text x="577.78" y="193.50" font-size="8.9" text-anchor="start" fill="#222" textLength="9.0" lengthAdjust="spacingAndGlyphs">25</text>
<rect x="597.55" y="190.20" width="2.70" height="0.95" fill="#333"/>
<text x="611.02" y="193.50" font-size="8.9" text-anchor="start" fill="#222" textLength="9.0" lengthAdjust="spacingAndGlyphs">12</text>
<text x="627.64" y="193.50" font-size="8.9" text-anchor="start" fill="#222" textLength="9.0" lengthAdjust="spacingAndGlyphs">12</text>
<text x="644.26" y="193.50" font-size="8.9" text-anchor="start" fill="#222" textLength="9.0" lengthAdjust="spacingAndGlyphs">12</text>
<text x="376.60" y="86.00" font-size="11" text-anchor="middle" fill="#111" transform="rotate(-90 376.60 86.00)">Survival</text>
<text x="391.00" y="84.00" font-size="11" text-anchor="middle" fill="#111" transform="rotate(-90 391.00 84.00)">(normalized to IL-15 only)</text>
<path d="M141.5,319.9h0.8v0.8h-0.8zM146.9,296.9h0.8v0.8h-0.8zM136.6,303.8h0.8v0.8h-0.8zM125.5,293.4h0.8v0.8h-0.8zM133.3,295.7h0.8v0.8h-0.8zM123.7,286.6h0.8v0.8h-0.8zM142.6,322.1h0.8v0.8h-0.8zM165.6,302.3h0.8v0.8h-0.8zM132.6,318.0h0.8v0.8h-0.8zM130.3,304.7h0.8v0.8h-0.8zM150.3,294.8h0.8v0.8h-0.8zM147.9,299.9h0.8v0.8h-0.8zM143.4,296.7h0.8v0.8h-0.8zM124.8,304.6h0.8v0.8h-0.8zM141.0,299.2h0.8v0.8h-0.8zM154.0,300.3h0.8v0.8h-0.8zM117.3,285.2h0.8v0.8h-0.8zM133.3,293.2h0.8v0.8h-0.8zM107.3,327.7h0.8v0.8h-0.8zM118.3,295.1h0.8v0.8h-0.8zM108.3,289.7h0.8v0.8h-0.8zM137.3,309.2h0.8v0.8h-0.8zM118.7,324.2h0.8v0.8h-0.8zM146.4,284.1h0.8v0.8h-0.8zM144.3,301.6h0.8v0.8h-0.8zM138.1,295.7h0.8v0.8h-0.8zM96.2,279.8h0.8v0.8h-0.8zM131.8,314.8h0.8v0.8h-0.8zM140.6,304.2h0.8v0.8h-0.8zM143.5,305.5h0.8v0.8h-0.8zM114.0,294.0h0.8v0.8h-0.8zM132.9,310.9h0.8v0.8h-0.8zM123.9,296.9h0.8v0.8h-0.8zM126.9,302.5h0.8v0.8h-0.8zM160.6,289.0h0.8v0.8h-0.8zM127.0,287.5h0.8v0.8h-0.8zM140.9,323.2h0.8v0.8h-0.8zM157.4,297.4h0.8v0.8h-0.8zM131.0,308.6h0.8v0.8h-0.8zM139.5,304.0h0.8v0.8h-0.8zM143.5,298.3h0.8v0.8h-0.8zM142.6,297.4h0.8v0.8h-0.8zM119.4,313.3h0.8v0.8h-0.8zM142.9,300.3h0.8v0.8h-0.8zM166.0,302.4h0.8v0.8h-0.8zM113.7,304.8h0.8v0.8h-0.8zM157.0,321.0h0.8v0.8h-0.8zM143.6,314.0h0.8v0.8h-0.8zM130.0,309.9h0.8v0.8h-0.8zM177.5,296.6h0.8v0.8h-0.8zM155.2,285.2h0.8v0.8h-0.8zM119.9,317.8h0.8v0.8h-0.8zM142.8,318.0h0.8v0.8h-0.8zM151.9,302.5h0.8v0.8h-0.8zM138.1,312.1h0.8v0.8h-0.8zM153.8,315.4h0.8v0.8h-0.8zM140.3,316.1h0.8v0.8h-0.8zM153.5,317.4h0.8v0.8h-0.8zM167.4,298.1h0.8v0.8h-0.8zM129.3,325.7h0.8v0.8h-0.8zM145.2,287.0h0.8v0.8h-0.8zM133.2,316.6h0.8v0.8h-0.8zM143.8,311.4h0.8v0.8h-0.8zM120.1,316.7h0.8v0.8h-0.8zM131.1,330.8h0.8v0.8h-0.8zM138.0,325.3h0.8v0.8h-0.8zM157.7,288.5h0.8v0.8h-0.8zM162.1,280.9h0.8v0.8h-0.8zM117.7,315.9h0.8v0.8h-0.8zM127.2,290.3h0.8v0.8h-0.8zM153.1,304.3h0.8v0.8h-0.8zM105.6,316.3h0.8v0.8h-0.8zM133.2,281.5h0.8v0.8h-0.8zM139.7,275.0h0.8v0.8h-0.8zM164.1,308.1h0.8v0.8h-0.8zM153.9,305.1h0.8v0.8h-0.8zM135.6,301.1h0.8v0.8h-0.8zM134.9,305.0h0.8v0.8h-0.8zM137.0,292.5h0.8v0.8h-0.8zM168.9,283.3h0.8v0.8h-0.8zM133.8,302.2h0.8v0.8h-0.8zM136.0,290.9h0.8v0.8h-0.8zM147.8,281.5h0.8v0.8h-0.8zM139.3,311.6h0.8v0.8h-0.8zM137.9,303.6h0.8v0.8h-0.8zM121.4,310.2h0.8v0.8h-0.8zM141.3,290.6h0.8v0.8h-0.8zM133.5,295.3h0.8v0.8h-0.8zM162.5,290.5h0.8v0.8h-0.8zM153.3,292.1h0.8v0.8h-0.8zM141.1,307.2h0.8v0.8h-0.8zM153.5,293.5h0.8v0.8h-0.8zM135.4,309.5h0.8v0.8h-0.8zM160.4,309.3h0.8v0.8h-0.8zM141.4,332.9h0.8v0.8h-0.8zM152.0,285.0h0.8v0.8h-0.8zM118.3,316.9h0.8v0.8h-0.8zM147.7,303.2h0.8v0.8h-0.8zM111.1,304.3h0.8v0.8h-0.8zM104.9,284.2h0.8v0.8h-0.8zM136.0,298.1h0.8v0.8h-0.8zM125.3,314.9h0.8v0.8h-0.8zM144.5,303.3h0.8v0.8h-0.8zM181.9,305.6h0.8v0.8h-0.8zM126.5,300.4h0.8v0.8h-0.8zM130.3,320.7h0.8v0.8h-0.8zM145.2,304.2h0.8v0.8h-0.8zM150.4,273.7h0.8v0.8h-0.8zM138.3,294.8h0.8v0.8h-0.8zM137.8,276.9h0.8v0.8h-0.8zM150.9,297.1h0.8v0.8h-0.8zM122.9,323.2h0.8v0.8h-0.8zM140.1,305.2h0.8v0.8h-0.8zM142.1,288.1h0.8v0.8h-0.8zM122.5,291.3h0.8v0.8h-0.8zM146.2,320.3h0.8v0.8h-0.8zM126.1,306.7h0.8v0.8h-0.8zM159.0,305.2h0.8v0.8h-0.8zM145.0,303.8h0.8v0.8h-0.8zM143.1,305.0h0.8v0.8h-0.8zM130.9,315.8h0.8v0.8h-0.8zM139.4,312.2h0.8v0.8h-0.8zM105.5,307.5h0.8v0.8h-0.8zM121.1,289.9h0.8v0.8h-0.8zM148.0,311.7h0.8v0.8h-0.8zM103.2,294.9h0.8v0.8h-0.8zM156.7,319.8h0.8v0.8h-0.8zM110.1,286.7h0.8v0.8h-0.8zM155.1,302.6h0.8v0.8h-0.8zM126.3,304.4h0.8v0.8h-0.8zM155.5,286.0h0.8v0.8h-0.8zM143.9,328.6h0.8v0.8h-0.8zM113.8,324.9h0.8v0.8h-0.8zM164.0,298.0h0.8v0.8h-0.8zM167.5,315.3h0.8v0.8h-0.8zM140.3,309.8h0.8v0.8h-0.8zM136.6,267.9h0.8v0.8h-0.8zM138.6,308.0h0.8v0.8h-0.8zM123.9,303.6h0.8v0.8h-0.8zM132.7,316.8h0.8v0.8h-0.8zM116.4,330.3h0.8v0.8h-0.8zM127.7,339.7h0.8v0.8h-0.8zM129.0,321.4h0.8v0.8h-0.8zM148.1,318.5h0.8v0.8h-0.8zM136.2,326.4h0.8v0.8h-0.8zM131.4,324.5h0.8v0.8h-0.8zM152.9,314.6h0.8v0.8h-0.8zM123.7,329.1h0.8v0.8h-0.8zM126.0,344.7h0.8v0.8h-0.8zM106.1,321.9h0.8v0.8h-0.8zM153.5,322.5h0.8v0.8h-0.8zM145.0,314.1h0.8v0.8h-0.8zM144.3,327.7h0.8v0.8h-0.8zM140.9,312.0h0.8v0.8h-0.8zM133.0,313.4h0.8v0.8h-0.8zM134.5,337.3h0.8v0.8h-0.8zM128.0,315.4h0.8v0.8h-0.8zM128.6,335.3h0.8v0.8h-0.8zM132.3,339.7h0.8v0.8h-0.8zM152.7,327.1h0.8v0.8h-0.8zM139.3,330.0h0.8v0.8h-0.8zM130.7,344.0h0.8v0.8h-0.8zM123.4,322.5h0.8v0.8h-0.8zM122.6,318.6h0.8v0.8h-0.8zM153.9,311.0h0.8v0.8h-0.8zM138.6,324.9h0.8v0.8h-0.8zM132.4,339.3h0.8v0.8h-0.8zM126.7,334.1h0.8v0.8h-0.8zM116.0,315.1h0.8v0.8h-0.8zM130.6,315.9h0.8v0.8h-0.8zM143.7,319.5h0.8v0.8h-0.8zM126.0,327.4h0.8v0.8h-0.8zM128.3,322.4h0.8v0.8h-0.8zM128.4,326.6h0.8v0.8h-0.8zM133.0,327.5h0.8v0.8h-0.8zM109.2,321.5h0.8v0.8h-0.8zM128.2,324.1h0.8v0.8h-0.8zM119.5,326.6h0.8v0.8h-0.8zM143.9,323.7h0.8v0.8h-0.8zM142.5,365.1h0.8v0.8h-0.8zM159.0,365.3h0.8v0.8h-0.8zM143.6,349.8h0.8v0.8h-0.8zM137.2,359.6h0.8v0.8h-0.8zM116.3,353.2h0.8v0.8h-0.8zM141.2,350.6h0.8v0.8h-0.8zM113.1,351.1h0.8v0.8h-0.8zM119.6,341.5h0.8v0.8h-0.8zM146.8,340.1h0.8v0.8h-0.8zM145.0,362.4h0.8v0.8h-0.8zM134.7,352.6h0.8v0.8h-0.8zM116.0,356.7h0.8v0.8h-0.8zM132.0,364.5h0.8v0.8h-0.8zM128.4,337.2h0.8v0.8h-0.8zM144.1,346.7h0.8v0.8h-0.8zM163.6,356.3h0.8v0.8h-0.8zM139.1,358.4h0.8v0.8h-0.8zM127.1,350.7h0.8v0.8h-0.8zM122.5,364.8h0.8v0.8h-0.8zM135.8,356.6h0.8v0.8h-0.8zM134.4,342.4h0.8v0.8h-0.8zM122.7,345.2h0.8v0.8h-0.8zM137.9,362.6h0.8v0.8h-0.8zM122.7,359.1h0.8v0.8h-0.8zM149.8,335.5h0.8v0.8h-0.8z" fill="#606060"/>
<path d="M114.7 347.4l-0.7 0l-0.7 -0.2l-0.3 -0.3l-0.5 -0.6l-0.1 -1l0.3 -0.6l0.5 -0.4l0.8 -0.1l0.7 0.1l0.6 0.4l0.6 0.6l0.1 0.7l-0.1 0.7l-0.6 0.5l-0.6 0.2zM115.0 347.7l-0.7 0.1l-1 -0.1l-0.6 -0.4l-0.6 -0.6l-0.3 -0.7l0 -0.7l0.2 -0.6l0.7 -0.7l1 -0.3l1 0.2l0.8 0.4l0.6 0.7l0.3 0.7l0 1l-0.6 0.6l-0.8 0.4zM115.3 348.1l-1 0.2l-1 -0.1l-1 -0.5l-0.6 -0.6l-0.5 -0.8l-0.1 -1l0.2 -0.6l0.7 -0.8l1 -0.5l1.3 -0.1l1 0.4l1 0.8l0.4 0.5l0.2 0.7l0 1l-0.6 0.8l-1 0.6zM114.3 348.7l-1.3 -0.2l-1 -0.4l-0.8 -0.8l-0.5 -1l-0.1 -1l0.4 -1l0.7 -0.8l1 -0.5l1.3 -0.1l1.3 0.3l1.1 0.8l0.5 0.7l0.4 0.6l0.1 0.7l-0.1 0.7l-0.5 1l-0.5 0.4l-0.6 0.3l-1.4 0.3zM115.0 349.0l-1.7 0l-1.2 -0.3l-1 -0.7l-0.8 -1l-0.3 -1l0 -0.7l0.2 -0.6l0.6 -1l0.5 -0.6l0.7 -0.4l0.7 -0.2l1 -0.1l1.5 0.3l0.8 0.4l0.7 0.5l0.6 0.7l0.4 0.7l0.2 0.7l0 0.6l-0.1 0.7l-0.4 0.7l-0.4 0.4l-0.7 0.5l-1.3 0.4zM115.3 349.4l-1.6 0.1l-1.7 -0.4l-1.2 -0.8l-0.8 -1l-0.3 -0.6l-0.2 -0.7l0.2 -1.3l0.3 -0.7l0.5 -0.7l1.2 -0.9l0.6 -0.2l1 -0.2l0.9 0l0.8 0.2l1 0.4l0.7 0.5l0.6 0.7l0.7 0.9l0.3 1l0 0.6l-0.1 0.7l-0.2 0.7l-1 1l-0.7 0.3l-1 0.4zM115.7 349.7l-1.7 0.2l-1.7 -0.3l-0.7 -0.3l-0.9 -0.5l-1.1 -1.1l-0.5 -1.4l-0.1 -0.6l0.2 -1l0.7 -1.4l1.1 -1l0.7 -0.4l1 -0.3l1 -0.1l1 0.2l1 0.3l1 0.6l0.8 0.7l0.5 0.7l0.4 0.7l0.3 1l0.1 1l-0.2 0.6l-0.3 0.7l-0.6 0.7l-1 0.6l-1 0.4zM116.0 350.0l-2 0.3l-1.8 -0.3l-1.5 -0.7l-0.9 -0.6l-0.5 -0.7l-0.4 -0.7l-0.3 -1l0 -0.6l0.1 -0.9l0.2 -0.8l0.4 -0.7l0.7 -0.8l0.7 -0.5l1 -0.5l1 -0.3l1 -0.1l1.3 0.2l1 0.4l1 0.6l0.8 0.7l0.8 1l0.4 1l0.3 1l-0.1 1l-0.2 0.7l-0.4 0.6l-0.6 0.7l-1 0.6l-1 0.4zM116.0 350.4l-1 0.2l-1.3 0l-2 -0.3l-1 -0.5l-0.8 -0.5l-0.7 -0.6l-0.5 -0.7l-0.4 -0.8l-0.2 -0.9l0 -1l0.2 -1l0.4 -0.8l0.5 -0.8l0.7 -0.7l0.8 -0.6l1 -0.4l1.3 -0.4l1.3 0.1l1 0.2l1 0.4l1 0.7l1 1l0.8 1l0.4 1l0.3 1l-0.1 1l-0.3 1l-0.7 1l-0.7 0.5l-1 0.6l-1 0.3zM114.7 351.0l-1.4 0l-1 -0.2l-1 -0.2l-1.1 -0.6l-0.9 -0.6l-0.7 -0.7l-0.6 -1l-0.3 -1l-0.1 -1l0.1 -1l0.4 -1l0.6 -1l0.6 -0.8l1 -0.8l1 -0.5l1 -0.3l1 -0.1l1.4 0.1l1.3 0.4l1.1 0.6l1.2 1l0.9 1l0.5 1l0.5 1.4l0 1l-0.1 1l-0.4 0.8l-0.7 0.8l-0.9 0.7l-1.1 0.5l-1 0.3l-1.3 0.2zM115.3 351.3l-1.3 0.1l-1.3 -0.1l-1.3 -0.3l-1.1 -0.4l-0.9 -0.6l-0.8 -0.7l-0.7 -1l-0.5 -1l-0.2 -1l0 -1.3l0.2 -1l0.5 -1l0.7 -1l0.7 -0.7l1 -0.7l1.4 -0.6l1.3 -0.3l1.3 0l1.4 0.4l1 0.4l1.2 0.8l1.1 1.1l0.9 1.3l0.6 1.3l0.2 1l0 1l-0.2 1l-0.6 1l-0.9 0.9l-1 0.6l-1.3 0.6l-1.4 0.2zM115.7 351.7l-1.4 0.1l-1.3 0l-1.3 -0.3l-1.4 -0.4l-1 -0.6l-1 -0.8l-0.8 -1l-0.5 -1l-0.3 -1l-0.1 -1.4l0.3 -1.3l0.4 -1l0.7 -1l1 -1.1l1 -0.7l1.3 -0.6l1.4 -0.4l1.3 0l1.3 0.2l1.4 0.5l1.3 0.9l1.3 1.2l1 1.3l0.6 1.4l0.4 1.3l0 1l-0.4 1.3l-0.6 1l-1 1l-1 0.6l-1.3 0.5l-1.3 0.3zM116.3 352.0l-1.3 0.2l-1.7 0l-1.6 -0.2l-1.4 -0.5l-1.3 -0.7l-1 -0.8l-0.9 -1l-0.5 -1l-0.3 -1l-0.2 -1.3l0.2 -1.4l0.5 -1.3l0.8 -1.3l1 -1l1.1 -0.9l1.3 -0.7l1.3 -0.4l1.7 -0.1l1.3 0.2l1.4 0.5l1.3 0.9l1.3 1.1l1.1 1.4l1 1.6l0.4 1.4l0.1 1l-0.2 1.3l-0.5 1l-0.8 1l-1.1 0.9l-1.3 0.6l-1.7 0.5zM114.7 352.7l-1.7 -0.1l-1.7 -0.3l-1.6 -0.6l-1.3 -0.7l-1.1 -1l-0.8 -1l-0.6 -1.3l-0.3 -1.4l0.1 -1.3l0.3 -1.3l0.6 -1.4l0.9 -1.3l1.2 -1.1l1.3 -0.9l1.7 -0.7l1.3 -0.3l1.7 0l1.3 0.4l1.3 0.6l1.4 1l1.3 1.3l1.3 1.7l0.8 1.7l0.3 1.3l0 1.3l-0.2 1l-0.5 1.1l-1 1.1l-1.2 0.8l-1.5 0.7l-1.7 0.5l-1.6 0.2zM116.3 353.0l-2 0.2l-1.6 -0.1l-1.7 -0.3l-1.7 -0.7l-1.3 -0.8l-1.1 -1l-1 -1.3l-0.6 -1.3l-0.2 -1.4l0 -1.6l0.5 -1.7l0.7 -1.3l1 -1.4l1.4 -1.2l1.3 -0.9l1.7 -0.7l1.6 -0.3l1.4 0l1.3 0.4l1.7 0.8l1.6 1.3l1.5 1.6l1.4 2l0.7 1.7l0.2 1.3l0 1.4l-0.4 1.3l-0.7 1.1l-1 1l-1.3 0.8l-1.7 0.7l-1.7 0.4zM115.0 353.7l-2 -0.1l-2 -0.3l-1.7 -0.6l-1.6 -0.9l-1.3 -1.1l-1 -1.4l-0.6 -1.3l-0.3 -1.7l0 -1.6l0.5 -1.7l0.8 -1.7l1 -1.3l1.5 -1.5l1.7 -1.1l1.7 -0.8l1.6 -0.3l1.7 0.1l1.7 0.5l1.6 1l1.4 1.2l1.4 1.6l1.4 2l1 2l0.4 1.6l-0.1 1.4l-0.3 1.3l-0.8 1.3l-1 1l-1.4 1l-1.6 0.7l-1.7 0.4l-2 0.3zM117.0 354.0l-2.3 0.3l-2.4 -0.2l-2 -0.4l-2 -0.8l-1.6 -1.2l-1.1 -1l-1.1 -1.7l-0.5 -1.7l-0.2 -1.6l0.3 -2l0.6 -1.7l1 -1.7l1.6 -1.9l1.7 -1.4l2 -1.2l1.7 -0.6l1.6 -0.2l1.7 0.4l1.7 0.8l1.3 1l2 2.1l1.7 2.4l1.2 2l0.7 2l0.1 1.6l-0.2 1.4l-0.6 1.3l-0.7 1l-1.1 1l-1.4 0.9l-1.7 0.6l-2 0.5zM117.0 354.7l-2.7 0.2l-2.3 -0.2l-2.3 -0.6l-2 -0.9l-1.7 -1.2l-1.3 -1.4l-1 -1.6l-0.5 -2l-0.1 -2l0.4 -2l0.7 -1.7l1.3 -2l1.8 -2.1l2.4 -2.1l2 -1.2l1.6 -0.5l1.7 0l1.3 0.4l1.4 0.7l1.6 1.4l2 2.3l2.4 3.5l1.3 2.3l0.6 2l0.1 1.7l-0.3 1.3l-0.5 1.3l-1.1 1.4l-1.2 1l-1.6 0.9l-2 0.7l-2 0.4zM114.7 295.4l-0.7 0.1l-0.7 -0.2l-0.4 -0.3l-0.3 -0.3l-0.2 -0.7l0.1 -0.7l0.2 -0.3l0.6 -0.5l0.7 -0.1l0.7 0.1l0.6 0.4l0.4 0.4l0.1 0.7l-0.1 0.4l-0.5 0.6l-0.5 0.4zM117.3 355.4l-2.6 0.2l-2.7 -0.2l-2.3 -0.5l-2.4 -1.1l-1.7 -1.1l-1.5 -1.7l-1 -1.7l-0.7 -2l-0.1 -2l0.4 -2.3l0.8 -2l1.4 -2.3l2.4 -3.1l2 -2.1l1 -0.8l1 -0.5l1 -0.5l1 -0.2l1.7 0l1.7 0.4l1.6 1l1.4 1.1l1.6 2.2l3.5 5.5l1.2 2.3l0.6 2l0.1 1.7l-0.2 1.6l-0.6 1.4l-1.2 1.5l-1.4 1.1l-1.6 0.9l-2 0.7l-2.4 0.5zM114.3 298.4l-1 -0.1l-0.6 -0.1l-1 -0.5l-0.7 -0.5l-0.7 -0.8l-0.4 -0.7l-0.2 -0.9l-0.1 -0.8l0.1 -0.8l0.2 -0.9l0.4 -0.6l0.6 -0.7l0.8 -0.6l0.6 -0.3l1.7 -0.3l1 0l1 0.2l1 0.5l0.7 0.4l0.7 0.8l0.5 0.6l0.2 0.7l0.1 0.7l-0.1 0.6l-0.3 1l-1.1 1.5l-0.7 0.5l-1 0.6l-1.7 0.5zM118.0 355.7l-3 0.3l-2.7 -0.2l-2.3 -0.4l-2.3 -0.9l-2 -1.3l-1.7 -1.5l-0.7 -1l-0.6 -1l-0.7 -2l-0.2 -2l0.3 -2.4l0.9 -2.3l1.2 -2.3l2.8 -3.9l2 -2.3l1 -0.8l1 -0.6l1 -0.5l1 -0.3l1.7 -0.1l1 0.2l1 0.3l1.6 0.9l1.7 1.4l1.7 2.2l4.1 7.1l1 2l0.4 1.7l0.2 1.7l-0.3 1.6l-0.7 1.7l-1 1.3l-1.4 1.2l-1.7 1l-2 0.7l-2.3 0.5zM115.0 300.4l-1.3 0.1l-1 -0.2l-1 -0.4l-1 -0.6l-1 -0.9l-0.9 -1.1l-0.5 -1l-0.4 -1.3l0 -1.3l0.1 -1l0.3 -1l0.6 -1l0.8 -0.9l1 -0.7l1 -0.5l1.3 -0.4l1.3 -0.1l1.4 0.1l1.6 0.5l1.4 0.5l1.2 0.8l1.3 1l0.8 1l0.4 1l0 1l-0.5 1l-0.7 1l-1.2 1.3l-1.3 1.2l-1.4 0.9l-1.3 0.7l-1 0.3zM133.0 293.7l-1.3 0.1l-0.7 -0.1l-0.6 -0.4l-0.3 -0.3l-0.2 -0.3l0.2 -0.7l0.9 -0.7l1 -0.3l1 0l0.9 0.3l0.5 0.4l0.2 0.3l-0.1 0.7l-0.5 0.6l-1 0.4zM116.3 356.4l-2.6 0l-2.7 -0.3l-2.7 -0.8l-2 -1.1l-2 -1.5l-1.3 -1.7l-1.1 -2l-0.4 -1.3l-0.1 -1l0 -1.4l0.1 -1.3l0.3 -1.3l0.5 -1.4l1.3 -2.6l2.7 -4.5l1.7 -2.1l1.7 -1.6l1.6 -1l1 -0.4l1 -0.2l1 0l1 0.1l2 0.7l2 1.2l1.8 1.8l1.3 2l1.9 3.7l2.6 4.6l0.7 1.7l0.4 2l0 2l-0.5 1.6l-0.9 1.7l-1.3 1.3l-1.6 1.1l-2.4 1l-2.6 0.7l-2.4 0.3zM114.0 301.7l-1.3 -0.2l-1 -0.4l-1 -0.5l-1 -0.9l-1 -1l-0.6 -1l-0.5 -1l-0.4 -1.4l-0.2 -1.3l0.1 -1l0.2 -1l0.4 -1l0.6 -0.9l0.7 -0.8l1 -0.8l1 -0.5l1.3 -0.5l1.4 -0.2l1.3 0l1.3 0.2l2.6 0.8l4.1 1.9l1 0.4l0.7 0.1l1.3 -0.2l3 -1.2l1.7 -0.5l1.6 -0.2l2 0.1l1.7 0.3l1.3 0.5l1.2 0.8l0.5 0.7l0.2 1l-0.2 0.7l-0.4 0.6l-1.4 1.4l-1.7 1l-1.8 0.5l-2 0.1l-1.7 -0.2l-3.7 -0.8l-1 0l-0.6 0.1l-1.7 0.9l-3.7 3l-1.6 1.1l-2 1l-1.7 0.3zM118.7 356.4l-3.4 0.3l-3 -0.2l-2.6 -0.5l-2.4 -0.9l-2.2 -1.4l-1.7 -1.7l-1.3 -2l-0.6 -1.3l-0.2 -1l-0.2 -1.4l0 -1.3l0.2 -1.3l0.3 -1.4l1.3 -3l2.6 -4.6l1.8 -2.7l1.7 -1.8l2 -1.4l1 -0.4l1 -0.3l1 -0.1l1 0.1l2 0.6l1.3 0.8l1 0.7l2 1.8l0.7 1l0.9 1.3l2 4.4l2.2 4l0.7 1.6l0.5 1.7l0.2 2l-0.3 1.7l-0.7 1.6l-1.2 1.6l-1.6 1.3l-1.7 0.9l-2 0.8l-2.3 0.5zM115.3 303.1l-1.3 0.2l-1 -0.1l-1 -0.3l-1.3 -0.8l-1.4 -1.2l-1.3 -1.6l-0.8 -1.3l-0.7 -1.7l-0.3 -1.3l-0.1 -1.3l0.2 -1.4l0.5 -1.3l0.7 -1.3l0.8 -0.9l1 -0.9l1.4 -0.7l1 -0.4l1.3 -0.3l1.3 -0.1l1.4 0.1l2.3 0.5l4.3 1.3l2 0.3l1.7 -0.3l3.3 -0.9l1.7 -0.3l2 -0.2l2 0.1l3.3 0.5l5 1.2l1.8 0.6l0.4 0.4l0.3 0.3l0.1 0.3l-0.2 0.7l-0.6 0.7l-0.8 0.6l-4.1 3l-1.6 1l-1.6 0.8l-2 0.7l-2.3 0.4l-2 -0.1l-4.4 -0.6l-1 0l-1 0.2l-1 0.4l-1 0.5l-4.6 3.2l-1.4 0.8l-1 0.5zM118.7 356.7l-3.4 0.3l-3 -0.2l-3 -0.6l-2.3 -1l-1.3 -0.7l-1 -0.8l-1.7 -1.7l-1.3 -2l-0.5 -1.3l-0.3 -1l-0.1 -1.4l0 -1.3l0.1 -1.3l0.4 -1.7l1.1 -2.7l3 -5.6l1.6 -2.4l2 -2.1l1.3 -1.1l1 -0.6l1.7 -0.6l1 -0.1l1 0.1l2 0.8l1.3 0.8l1.4 1l1.2 1.2l0.9 1l1.6 2.3l1.9 4.4l2.5 4.6l0.6 1.7l0.4 1.3l0.1 2l-0.2 1.7l-0.7 1.6l-1.2 1.7l-1.5 1.3l-2 1.1l-2 0.7l-2.6 0.6zM114.3 306.0l-0.6 0.2l-0.4 -0.1l-1 -0.6l-1.3 -1.2l-2 -2.2l-1.3 -1.7l-1 -1.5l-0.8 -1.6l-0.4 -1.6l-0.2 -1.4l0 -1.3l0.3 -1.3l0.5 -1.4l0.9 -1.3l0.9 -1l1.1 -0.8l1.3 -0.8l1 -0.3l1.4 -0.3l2.3 -0.2l2.3 0.3l4.7 1.1l1.7 0.2l2 -0.3l4.6 -1l2.7 -0.3l2.7 0l6 0.4l5 0.1l1.9 0.2l1.4 0.5l1.3 0.9l0.7 1l0.2 1l-0.1 1l-0.6 1l-1.1 1l-1.9 1l-5.2 2.2l-4.6 2.4l-2.7 1l-2.3 0.4l-2.4 0l-5 -0.6l-1.3 0l-1 0.3l-1.3 0.5l-1.7 1l-5.3 4.3l-1.4 0.8zM113.7 316.7l-0.4 0l-0.2 -0.7l-0.1 -0.7l0.1 -0.6l0.2 -0.7l0.4 -0.1l0.3 0.8l0 0.6l0 0.7l-0.3 0.7zM118.7 357.0l-3.4 0.3l-3 -0.2l-3 -0.6l-2.6 -1.1l-1.4 -0.8l-1 -0.8l-1.7 -1.8l-0.7 -1l-0.7 -1.3l-0.7 -2.4l-0.1 -1.3l0 -1.3l0.3 -1.7l0.4 -1.3l1.1 -2.7l2.9 -6l1.6 -2.4l2 -2.3l3 -2.8l1 -0.6l0.6 -0.3l0.7 0l0.7 0.3l2.3 1.5l3.3 2.7l1.4 1.3l1 1.3l1.4 2.3l1.9 4.6l2.4 4.7l0.5 1.4l0.4 1.6l0.1 2l-0.3 1.7l-0.4 1l-0.5 1l-1.2 1.5l-1.7 1.3l-2 1.1l-2 0.6l-2.6 0.5zM118.3 357.3l-3.3 0.2l-3.3 -0.2l-3 -0.8l-2.4 -1l-2.3 -1.6l-1.8 -1.9l-1.1 -2l-0.8 -2.3l-0.2 -2l0.2 -2l0.5 -2l1 -2.7l3.1 -6.7l1.4 -2.2l3.5 -4.4l0.7 -1.4l0.3 -1.3l0 -1.3l-0.5 -3.7l-0.1 -2.3l0.1 -2.4l0.4 -4.3l0 -1.7l-0.3 -1l-0.6 -1.3l-3.3 -5l-0.7 -1.3l-0.7 -1.7l-0.3 -1.7l-0.1 -1.6l0.2 -1.7l0.6 -1.7l0.5 -1l0.8 -1l0.9 -0.9l1 -0.7l1 -0.6l1.3 -0.6l2.3 -0.4l1.4 -0.1l1.6 0.1l5 1l2 0.1l2 -0.2l5.4 -1.1l3 -0.3l7.3 0.2l6.3 -0.2l2.4 0.2l1.6 0.6l1.4 0.7l0.9 0.9l0.6 1l0.4 1.3l-0.2 1.4l-0.6 1.3l-0.9 1l-1.3 1l-2 1l-5.6 2.1l-5.3 2.5l-2.7 0.9l-1.7 0.3l-2 0l-6.3 -0.6l-1.3 0.1l-1 0.3l-2 1l-1.9 1.4l-1.6 1.7l-1.1 1.6l-0.4 1l-0.2 1.4l0.3 6.6l-0.1 2.4l-0.5 4l0.2 1.6l0.4 1l0.7 1l4.5 4.7l1.1 1.3l1 1.7l0.8 1.7l1.4 3.7l2.8 5.6l0.5 1.7l0.2 2l-0.2 2l-0.6 1.6l-1.1 1.7l-1.2 1.3l-1.7 1.1l-1.7 0.8l-2.3 0.7l-2.7 0.4zM119.3 357.7l-3.6 0.2l-3.4 -0.2l-3 -0.6l-2.6 -1l-1.4 -0.7l-1.3 -1l-1.8 -1.7l-0.7 -1l-0.8 -1.4l-0.8 -2.3l-0.2 -1.7l0 -1.6l0.3 -1.7l0.5 -2l3.3 -8.3l1 -2l2.2 -3.4l0.7 -1.3l0.5 -1.3l0.2 -1.4l0 -1.3l-0.4 -6.3l0.4 -6.7l-0.1 -2l-0.3 -1.3l-0.4 -1.4l-2.8 -5.3l-0.9 -2.7l-0.2 -1.6l0 -1.7l0.3 -1.7l0.5 -1.3l0.8 -1.3l0.7 -1l1 -1l1 -0.8l1.3 -0.7l1 -0.5l1.4 -0.4l1.3 -0.2l3 0l5 0.7l2.3 0l1.7 -0.2l4.3 -0.9l2.7 -0.3l8.3 -0.3l7 -0.5l3 0.2l1.4 0.3l1.3 0.5l1.8 1.1l1.3 1.3l0.9 1.7l0.3 1.6l-0.2 1.7l-0.7 1.7l-1.1 1.3l-1.6 1.3l-2.5 1.4l-5.9 2.2l-5.6 2.7l-2.7 0.9l-1.7 0.2l-1.6 0.1l-2 -0.1l-5 -0.7l-1.4 0l-1.3 0.3l-1.3 0.6l-1.4 1l-0.9 1.1l-0.7 1.2l-0.5 1.5l-0.2 2l0 6.3l-0.3 5.7l0 1.3l0.2 1l0.4 1l0.6 1l3.5 4.3l1.6 2.7l2.3 5.9l2.4 5.1l0.5 1.7l0.3 2l-0.2 2l-0.6 1.6l-1 1.7l-1.4 1.5l-1.6 1.2l-1.7 0.8l-2 0.7l-2.7 0.5zM120.3 358.3l-3.6 0.3l-4 -0.2l-3.4 -0.6l-2.6 -1l-1.4 -0.7l-1.3 -0.9l-1.1 -0.9l-1 -1l-0.8 -1l-0.8 -1.3l-0.6 -1.3l-0.4 -1.4l-0.2 -1.3l-0.1 -1.7l0.1 -1.6l0.4 -2l2.7 -8.7l3.2 -6.7l0.3 -1.3l0.2 -1.3l-0.2 -7.7l0.2 -7.3l-0.1 -2.4l-0.3 -1.3l-0.4 -1.3l-2.3 -5.7l-0.3 -1.3l-0.3 -1.7l0 -1.7l0.1 -1.3l0.4 -1.3l0.5 -1.4l0.7 -1.3l0.8 -1l1 -1.1l1.3 -1.1l1.3 -0.8l1.4 -0.6l1.6 -0.5l1.4 -0.3l2.6 -0.1l5.4 0.4l2.3 0l8.3 -1.4l8 -0.6l8 -0.8l2 0l2 0.2l1.7 0.4l1.7 0.6l1.3 0.7l1 0.7l1.7 1.6l0.7 1l0.6 1l0.6 2l0 1l0 1.4l-0.6 2l-0.5 1l-0.7 1l-1.8 1.8l-1.3 1l-1.7 1l-6.2 2.8l-5.5 3.2l-2.3 1l-2.3 0.5l-2.4 0.1l-2.3 -0.3l-5 -0.9l-2 -0.1l-1 0.2l-1.2 0.7l-0.8 0.8l-0.7 1.1l-0.5 1.7l-0.2 2.4l-0.4 9.6l0 1.4l0.2 1.3l0.3 1l0.6 1.3l2.9 4.4l1.4 2.6l1.7 5.2l1.9 4.2l0.7 1.6l0.5 2l0.1 2l-0.4 2l-0.6 1.7l-1 1.7l-1.3 1.3l-1.5 1.2l-2 1l-2 0.7l-2.4 0.4zM118.7 360.3l-4.4 -0.1l-4 -0.6l-2.6 -0.8l-3 -1.3l-2.4 -1.6l-1.3 -1.2l-0.8 -1l-1.4 -2l-0.6 -1.4l-0.4 -1.3l-0.4 -1.7l-0.1 -1.6l0.2 -3.4l1.4 -8l0.6 -2.3l1.7 -5l0.3 -1.3l0.2 -1.7l-0.2 -8l0.1 -7.3l-0.1 -2.4l-0.5 -3l-1.6 -5.6l-0.4 -3l0 -1.7l0.2 -1.7l0.4 -1.6l0.7 -1.7l0.9 -1.7l1 -1.3l1.2 -1.3l1.6 -1.4l1.7 -1.1l2 -1l1.6 -0.6l1.7 -0.4l2.7 -0.3l5.3 0.2l2.7 -0.2l7.3 -1.2l7.7 -0.9l7 -1.2l3 -0.2l3 0l2.6 0.4l2.4 0.6l2.3 0.9l2.3 1.4l2.1 1.6l1.8 2l1.3 2.4l0.8 2.3l0.2 1.3l0.1 1.4l-0.1 1.3l-0.3 1.3l-0.8 2.4l-1 1.6l-0.9 1.4l-1.2 1.2l-1.3 1.2l-1.7 1.4l-4.4 3.2l-4.4 3.3l-1.5 1l-1.7 0.9l-3 1.2l-3.3 0.6l-2 0.2l-2.3 0l-5.7 -0.5l-1.3 -0.1l-1 0.2l-0.7 0.2l-0.7 0.5l-0.4 0.5l-0.3 0.6l-0.4 1l-0.5 2.7l-0.3 4.7l0.3 2.6l0.7 2.4l2.1 4l0.9 2l1.6 5.6l2.2 5.7l0.4 1.3l0.2 1.7l0 1.7l-0.2 1.3l-0.7 2.3l-1.1 2l-1.4 1.7l-1.7 1.5l-2.4 1.3l-2 0.7l-2.6 0.6l-3 0.2z" fill="none" stroke="#000" stroke-width="0.95"/>
<line x1="125.50" y1="259.50" x2="125.50" y2="374.50" stroke="#333" stroke-width="1.0"/>
<line x1="86.50" y1="331.50" x2="201.50" y2="331.50" stroke="#333" stroke-width="1.0"/>
<rect x="86.50" y="259.50" width="115.00" height="115.00" fill="none" stroke="#333" stroke-width="1.0"/>
<line x1="90.90" y1="374.50" x2="90.90" y2="378.10" stroke="#333" stroke-width="0.8"/><line x1="130.10" y1="374.50" x2="130.10" y2="378.10" stroke="#333" stroke-width="0.8"/><line x1="162.20" y1="374.50" x2="162.20" y2="378.10" stroke="#333" stroke-width="0.8"/><line x1="192.80" y1="374.50" x2="192.80" y2="378.10" stroke="#333" stroke-width="0.8"/><line x1="139.76" y1="374.50" x2="139.76" y2="376.50" stroke="#444" stroke-width="0.7"/><line x1="145.42" y1="374.50" x2="145.42" y2="376.50" stroke="#444" stroke-width="0.7"/><line x1="149.43" y1="374.50" x2="149.43" y2="376.50" stroke="#444" stroke-width="0.7"/><line x1="152.54" y1="374.50" x2="152.54" y2="376.50" stroke="#444" stroke-width="0.7"/><line x1="155.08" y1="374.50" x2="155.08" y2="376.50" stroke="#444" stroke-width="0.7"/><line x1="157.23" y1="374.50" x2="157.23" y2="376.50" stroke="#444" stroke-width="0.7"/><line x1="159.09" y1="374.50" x2="159.09" y2="376.50" stroke="#444" stroke-width="0.7"/><line x1="160.73" y1="374.50" x2="160.73" y2="376.50" stroke="#444" stroke-width="0.7"/><line x1="171.41" y1="374.50" x2="171.41" y2="376.50" stroke="#444" stroke-width="0.7"/><line x1="176.80" y1="374.50" x2="176.80" y2="376.50" stroke="#444" stroke-width="0.7"/><line x1="180.62" y1="374.50" x2="180.62" y2="376.50" stroke="#444" stroke-width="0.7"/><line x1="183.59" y1="374.50" x2="183.59" y2="376.50" stroke="#444" stroke-width="0.7"/><line x1="186.01" y1="374.50" x2="186.01" y2="376.50" stroke="#444" stroke-width="0.7"/><line x1="188.06" y1="374.50" x2="188.06" y2="376.50" stroke="#444" stroke-width="0.7"/><line x1="189.83" y1="374.50" x2="189.83" y2="376.50" stroke="#444" stroke-width="0.7"/><line x1="191.40" y1="374.50" x2="191.40" y2="376.50" stroke="#444" stroke-width="0.7"/><line x1="98.74" y1="374.50" x2="98.74" y2="376.50" stroke="#444" stroke-width="0.7"/><line x1="106.58" y1="374.50" x2="106.58" y2="376.50" stroke="#444" stroke-width="0.7"/><line x1="112.46" y1="374.50" x2="112.46" y2="376.50" stroke="#444" stroke-width="0.7"/><line x1="118.34" y1="374.50" x2="118.34" y2="376.50" stroke="#444" stroke-width="0.7"/><line x1="122.26" y1="374.50" x2="122.26" y2="376.50" stroke="#444" stroke-width="0.7"/><line x1="126.18" y1="374.50" x2="126.18" y2="376.50" stroke="#444" stroke-width="0.7"/><line x1="82.90" y1="366.50" x2="86.50" y2="366.50" stroke="#333" stroke-width="0.8"/><line x1="82.90" y1="329.50" x2="86.50" y2="329.50" stroke="#333" stroke-width="0.8"/><line x1="82.90" y1="297.50" x2="86.50" y2="297.50" stroke="#333" stroke-width="0.8"/><line x1="82.90" y1="269.50" x2="86.50" y2="269.50" stroke="#333" stroke-width="0.8"/><line x1="84.50" y1="319.87" x2="86.50" y2="319.87" stroke="#444" stroke-width="0.7"/><line x1="84.50" y1="314.23" x2="86.50" y2="314.23" stroke="#444" stroke-width="0.7"/><line x1="84.50" y1="310.23" x2="86.50" y2="310.23" stroke="#444" stroke-width="0.7"/><line x1="84.50" y1="307.13" x2="86.50" y2="307.13" stroke="#444" stroke-width="0.7"/><line x1="84.50" y1="304.60" x2="86.50" y2="304.60" stroke="#444" stroke-width="0.7"/><line x1="84.50" y1="302.46" x2="86.50" y2="302.46" stroke="#444" stroke-width="0.7"/><line x1="84.50" y1="300.60" x2="86.50" y2="300.60" stroke="#444" stroke-width="0.7"/><line x1="84.50" y1="298.96" x2="86.50" y2="298.96" stroke="#444" stroke-width="0.7"/><line x1="84.50" y1="289.07" x2="86.50" y2="289.07" stroke="#444" stroke-width="0.7"/><line x1="84.50" y1="284.14" x2="86.50" y2="284.14" stroke="#444" stroke-width="0.7"/><line x1="84.50" y1="280.64" x2="86.50" y2="280.64" stroke="#444" stroke-width="0.7"/><line x1="84.50" y1="277.93" x2="86.50" y2="277.93" stroke="#444" stroke-width="0.7"/><line x1="84.50" y1="275.71" x2="86.50" y2="275.71" stroke="#444" stroke-width="0.7"/><line x1="84.50" y1="273.84" x2="86.50" y2="273.84" stroke="#444" stroke-width="0.7"/><line x1="84.50" y1="272.21" x2="86.50" y2="272.21" stroke="#444" stroke-width="0.7"/><line x1="84.50" y1="270.78" x2="86.50" y2="270.78" stroke="#444" stroke-width="0.7"/><line x1="84.50" y1="359.10" x2="86.50" y2="359.10" stroke="#444" stroke-width="0.7"/><line x1="84.50" y1="351.70" x2="86.50" y2="351.70" stroke="#444" stroke-width="0.7"/><line x1="84.50" y1="346.15" x2="86.50" y2="346.15" stroke="#444" stroke-width="0.7"/><line x1="84.50" y1="340.60" x2="86.50" y2="340.60" stroke="#444" stroke-width="0.7"/><line x1="84.50" y1="336.90" x2="86.50" y2="336.90" stroke="#444" stroke-width="0.7"/><line x1="84.50" y1="333.20" x2="86.50" y2="333.20" stroke="#444" stroke-width="0.7"/><rect x="109.00" y="374.80" width="3.50" height="2.60" fill="#111"/><rect x="84.10" y="351.50" width="2.40" height="3.20" fill="#111"/>
<text x="89.10" y="267.80" font-size="8.5" text-anchor="start" fill="#222">22.9</text>
<text x="199.10" y="267.80" font-size="8.5" text-anchor="end" fill="#222">15.5</text>
<text x="89.10" y="369.60" font-size="8.5" text-anchor="start" fill="#222">60.9</text>
<text x="199.10" y="369.60" font-size="8.5" text-anchor="end" fill="#222">0.72</text>
<path d="M289.8,311.3h0.8v0.8h-0.8zM276.3,309.8h0.8v0.8h-0.8zM289.7,305.2h0.8v0.8h-0.8zM258.6,300.5h0.8v0.8h-0.8zM260.2,316.3h0.8v0.8h-0.8zM245.2,280.9h0.8v0.8h-0.8zM311.2,314.9h0.8v0.8h-0.8zM262.3,311.4h0.8v0.8h-0.8zM294.1,312.0h0.8v0.8h-0.8zM253.8,313.6h0.8v0.8h-0.8zM268.4,297.0h0.8v0.8h-0.8zM235.4,303.3h0.8v0.8h-0.8zM258.6,317.7h0.8v0.8h-0.8zM283.2,314.4h0.8v0.8h-0.8zM243.0,310.8h0.8v0.8h-0.8zM284.8,283.3h0.8v0.8h-0.8zM271.6,316.1h0.8v0.8h-0.8zM246.7,326.2h0.8v0.8h-0.8zM256.5,323.7h0.8v0.8h-0.8zM257.2,311.2h0.8v0.8h-0.8zM264.6,282.6h0.8v0.8h-0.8zM255.8,322.6h0.8v0.8h-0.8zM250.6,305.1h0.8v0.8h-0.8zM260.0,267.0h0.8v0.8h-0.8zM247.0,313.5h0.8v0.8h-0.8zM242.3,283.6h0.8v0.8h-0.8zM264.6,286.8h0.8v0.8h-0.8zM281.4,297.3h0.8v0.8h-0.8zM238.0,327.9h0.8v0.8h-0.8zM265.6,301.6h0.8v0.8h-0.8zM253.8,311.8h0.8v0.8h-0.8zM247.9,335.5h0.8v0.8h-0.8zM280.9,333.0h0.8v0.8h-0.8zM256.2,305.8h0.8v0.8h-0.8zM292.5,303.6h0.8v0.8h-0.8zM251.5,287.3h0.8v0.8h-0.8zM272.5,296.4h0.8v0.8h-0.8zM261.4,314.3h0.8v0.8h-0.8zM251.9,313.8h0.8v0.8h-0.8zM276.1,309.3h0.8v0.8h-0.8zM262.7,323.4h0.8v0.8h-0.8zM276.4,295.1h0.8v0.8h-0.8zM264.6,306.6h0.8v0.8h-0.8zM246.0,319.2h0.8v0.8h-0.8zM263.7,316.8h0.8v0.8h-0.8zM266.4,324.6h0.8v0.8h-0.8zM282.8,313.9h0.8v0.8h-0.8zM249.2,302.5h0.8v0.8h-0.8zM264.8,313.3h0.8v0.8h-0.8zM234.5,291.5h0.8v0.8h-0.8zM277.2,281.3h0.8v0.8h-0.8zM246.0,316.8h0.8v0.8h-0.8zM233.0,306.6h0.8v0.8h-0.8zM264.4,312.4h0.8v0.8h-0.8zM285.4,280.3h0.8v0.8h-0.8zM238.1,301.7h0.8v0.8h-0.8zM245.9,297.9h0.8v0.8h-0.8zM252.1,293.7h0.8v0.8h-0.8zM245.2,271.4h0.8v0.8h-0.8zM272.3,302.1h0.8v0.8h-0.8zM251.0,321.9h0.8v0.8h-0.8zM252.5,313.6h0.8v0.8h-0.8zM276.0,297.9h0.8v0.8h-0.8zM251.9,307.3h0.8v0.8h-0.8zM273.3,319.6h0.8v0.8h-0.8zM248.0,263.3h0.8v0.8h-0.8zM243.7,305.5h0.8v0.8h-0.8zM232.5,316.2h0.8v0.8h-0.8zM299.0,318.4h0.8v0.8h-0.8zM259.7,334.7h0.8v0.8h-0.8zM269.9,325.7h0.8v0.8h-0.8zM264.9,312.5h0.8v0.8h-0.8zM268.4,312.3h0.8v0.8h-0.8zM266.4,320.1h0.8v0.8h-0.8zM299.8,298.9h0.8v0.8h-0.8zM246.8,306.9h0.8v0.8h-0.8zM237.5,322.0h0.8v0.8h-0.8zM247.3,338.8h0.8v0.8h-0.8zM241.5,305.0h0.8v0.8h-0.8zM278.9,306.7h0.8v0.8h-0.8zM280.3,310.7h0.8v0.8h-0.8zM248.2,329.0h0.8v0.8h-0.8zM240.5,307.0h0.8v0.8h-0.8zM259.1,331.0h0.8v0.8h-0.8zM290.5,292.0h0.8v0.8h-0.8zM214.7,304.5h0.8v0.8h-0.8zM275.0,304.3h0.8v0.8h-0.8zM246.1,320.1h0.8v0.8h-0.8zM284.2,324.2h0.8v0.8h-0.8zM246.1,283.3h0.8v0.8h-0.8zM260.4,292.9h0.8v0.8h-0.8zM238.4,312.9h0.8v0.8h-0.8zM247.9,297.0h0.8v0.8h-0.8zM290.4,283.1h0.8v0.8h-0.8zM280.3,324.1h0.8v0.8h-0.8zM258.3,315.4h0.8v0.8h-0.8zM249.8,315.4h0.8v0.8h-0.8zM231.4,299.9h0.8v0.8h-0.8zM258.4,324.0h0.8v0.8h-0.8zM264.9,303.7h0.8v0.8h-0.8zM264.0,325.0h0.8v0.8h-0.8zM263.8,292.9h0.8v0.8h-0.8zM245.3,293.8h0.8v0.8h-0.8zM264.3,310.8h0.8v0.8h-0.8zM264.8,296.3h0.8v0.8h-0.8zM288.7,318.3h0.8v0.8h-0.8zM299.1,311.7h0.8v0.8h-0.8zM263.0,292.7h0.8v0.8h-0.8zM251.7,308.7h0.8v0.8h-0.8zM264.3,301.9h0.8v0.8h-0.8zM254.6,322.2h0.8v0.8h-0.8zM252.1,297.4h0.8v0.8h-0.8zM264.4,300.5h0.8v0.8h-0.8zM246.7,326.9h0.8v0.8h-0.8zM276.4,343.3h0.8v0.8h-0.8zM263.6,339.5h0.8v0.8h-0.8zM270.0,308.5h0.8v0.8h-0.8zM262.2,311.0h0.8v0.8h-0.8zM252.4,332.0h0.8v0.8h-0.8zM248.4,305.5h0.8v0.8h-0.8zM261.2,291.9h0.8v0.8h-0.8zM255.6,309.4h0.8v0.8h-0.8zM269.7,314.7h0.8v0.8h-0.8zM265.4,294.2h0.8v0.8h-0.8zM241.0,281.2h0.8v0.8h-0.8zM266.7,284.5h0.8v0.8h-0.8zM241.3,318.1h0.8v0.8h-0.8zM254.4,295.4h0.8v0.8h-0.8zM260.2,305.2h0.8v0.8h-0.8zM228.1,310.9h0.8v0.8h-0.8zM267.1,317.4h0.8v0.8h-0.8zM268.2,302.1h0.8v0.8h-0.8zM262.7,315.5h0.8v0.8h-0.8zM257.9,293.3h0.8v0.8h-0.8zM258.8,301.7h0.8v0.8h-0.8zM247.9,291.1h0.8v0.8h-0.8zM260.6,325.6h0.8v0.8h-0.8zM255.6,307.1h0.8v0.8h-0.8zM267.2,295.7h0.8v0.8h-0.8zM243.8,301.9h0.8v0.8h-0.8zM254.0,329.1h0.8v0.8h-0.8zM268.7,328.4h0.8v0.8h-0.8zM232.0,317.7h0.8v0.8h-0.8zM240.9,334.2h0.8v0.8h-0.8zM251.5,353.0h0.8v0.8h-0.8zM298.0,354.3h0.8v0.8h-0.8zM272.8,347.7h0.8v0.8h-0.8zM255.7,341.6h0.8v0.8h-0.8zM268.9,327.7h0.8v0.8h-0.8zM290.4,348.9h0.8v0.8h-0.8zM253.8,333.9h0.8v0.8h-0.8zM251.6,333.8h0.8v0.8h-0.8zM276.9,331.6h0.8v0.8h-0.8zM265.4,335.4h0.8v0.8h-0.8zM268.2,330.1h0.8v0.8h-0.8zM249.4,333.7h0.8v0.8h-0.8zM288.3,323.7h0.8v0.8h-0.8zM284.9,330.8h0.8v0.8h-0.8zM266.6,357.3h0.8v0.8h-0.8zM268.4,333.8h0.8v0.8h-0.8zM225.1,332.1h0.8v0.8h-0.8zM267.7,339.8h0.8v0.8h-0.8zM254.4,341.6h0.8v0.8h-0.8zM264.4,323.4h0.8v0.8h-0.8zM268.4,332.4h0.8v0.8h-0.8zM252.0,343.7h0.8v0.8h-0.8zM230.5,337.2h0.8v0.8h-0.8zM263.4,335.7h0.8v0.8h-0.8zM245.6,350.0h0.8v0.8h-0.8zM252.2,327.7h0.8v0.8h-0.8zM247.8,335.3h0.8v0.8h-0.8zM252.0,329.3h0.8v0.8h-0.8zM220.5,349.4h0.8v0.8h-0.8zM277.0,315.0h0.8v0.8h-0.8zM261.6,327.8h0.8v0.8h-0.8zM275.3,329.2h0.8v0.8h-0.8zM289.2,341.1h0.8v0.8h-0.8zM257.9,340.6h0.8v0.8h-0.8zM228.7,348.5h0.8v0.8h-0.8zM243.2,318.8h0.8v0.8h-0.8zM238.2,342.0h0.8v0.8h-0.8zM249.5,331.6h0.8v0.8h-0.8zM258.8,327.8h0.8v0.8h-0.8zM225.5,339.9h0.8v0.8h-0.8zM263.0,325.3h0.8v0.8h-0.8zM233.3,313.7h0.8v0.8h-0.8zM262.3,330.8h0.8v0.8h-0.8zM255.7,319.5h0.8v0.8h-0.8zM252.5,328.0h0.8v0.8h-0.8zM256.3,338.2h0.8v0.8h-0.8z" fill="#7070f0"/>
<path d="M235.7 346.0l-0.7 -0.1l-0.7 -0.2l-0.6 -0.7l-0.2 -0.7l0.1 -0.6l0.4 -0.7l0.7 -0.5l1 -0.2l1 0.3l0.4 0.4l0.4 0.7l0.1 0.6l-0.2 0.7l-0.4 0.5l-0.7 0.4l-0.6 0.1zM236.0 346.4l-1 0l-0.9 -0.4l-0.7 -0.7l-0.3 -0.6l0.1 -1l0.4 -0.7l0.7 -0.7l0.7 -0.2l1 0l0.8 0.2l0.8 0.7l0.3 0.7l0.1 1l-0.3 0.7l-0.7 0.6l-1 0.4zM236.7 346.7l-1.4 0.2l-1 -0.2l-1 -0.6l-0.5 -0.8l-0.2 -0.6l0.1 -1l0.6 -1l0.8 -0.7l1.2 -0.4l1 0.1l1 0.5l0.8 0.8l0.4 1l-0.2 1.1l-0.6 1l-1 0.6zM236.0 347.4l-1.3 -0.1l-1.4 -0.6l-0.7 -0.7l-0.5 -1l0 -0.7l0.1 -0.6l0.5 -1l1 -1l1.3 -0.5l1.3 0.1l0.7 0.2l0.7 0.3l0.8 0.9l0.3 0.6l0.2 0.7l-0.1 1l-0.2 0.7l-0.4 0.5l-1 0.7l-1.3 0.5zM236.7 347.7l-1.7 0.1l-0.8 -0.1l-0.8 -0.4l-1.1 -0.8l-0.3 -0.5l-0.3 -0.7l-0.1 -1.3l0.2 -0.7l0.3 -0.6l0.9 -1l1.3 -0.7l1 -0.2l0.7 0l1.3 0.3l1.2 0.9l0.5 0.7l0.4 0.6l0.1 1.4l-0.1 0.6l-0.3 0.7l-0.9 1l-0.6 0.3l-0.9 0.4zM237.0 348.1l-1.7 0.2l-1.6 -0.3l-1.4 -0.8l-0.5 -0.5l-0.4 -0.7l-0.4 -1.3l0 -0.7l0.3 -1l0.4 -0.7l0.6 -0.6l1.4 -1l1 -0.3l0.6 -0.1l1 0l0.7 0.2l0.7 0.3l0.8 0.5l0.7 0.7l0.5 0.8l0.3 0.9l0.1 0.6l-0.1 0.8l-0.3 0.9l-0.5 0.7l-0.7 0.6l-0.5 0.4l-1 0.4zM236.3 348.7l-1 0l-1 -0.1l-1.6 -0.6l-0.7 -0.5l-0.7 -0.6l-0.5 -0.9l-0.2 -0.7l-0.1 -0.6l0.1 -1l0.4 -1l0.4 -0.7l0.6 -0.7l0.9 -0.6l0.8 -0.4l1 -0.4l1 -0.1l1 0.1l1 0.4l0.6 0.3l0.9 0.7l0.5 0.7l0.4 0.7l0.4 1l0 1l-0.1 0.6l-0.4 1l-0.4 0.7l-1.3 1l-1 0.4l-1 0.3zM236.7 349.1l-1 0.1l-1 -0.1l-1 -0.2l-1 -0.4l-0.9 -0.5l-0.7 -0.7l-0.5 -0.6l-0.4 -1l-0.2 -1l0.1 -1l0.2 -0.8l0.5 -0.9l0.6 -0.7l0.9 -0.8l1 -0.6l1 -0.4l1 -0.1l1 0l1 0.2l1 0.5l0.9 0.6l0.8 0.8l0.5 0.8l0.4 1l0.2 1l-0.1 1l-0.3 0.9l-0.5 0.8l-0.6 0.7l-0.9 0.6l-1 0.5l-1 0.3zM237.3 349.4l-1 0.1l-1.3 0.1l-1.3 -0.2l-1 -0.4l-1 -0.5l-1 -0.8l-0.5 -0.7l-0.5 -1l-0.2 -1l0 -1l0.3 -1l0.5 -1l0.7 -1l0.8 -0.7l0.9 -0.6l1 -0.4l1 -0.3l1.3 -0.1l1 0.1l1 0.4l1 0.5l0.9 0.8l0.8 1l0.5 1l0.3 1l0.1 1l-0.2 1l-0.4 1l-0.7 0.9l-0.8 0.7l-1.1 0.7l-1.1 0.4zM236.0 350.0l-1.3 0l-1.4 -0.3l-1 -0.4l-1.1 -0.6l-0.9 -0.8l-0.7 -0.9l-0.4 -1l-0.2 -1l0 -1l0.4 -1.3l0.5 -1l0.8 -1l1 -0.9l1.3 -0.8l1 -0.4l1.3 -0.2l1.4 0.1l1 0.2l1.3 0.6l0.9 0.7l0.9 1l0.6 1l0.4 1l0.3 1.3l-0.1 1l-0.3 1.1l-0.5 0.9l-0.9 1l-1 0.7l-1 0.5l-1 0.3l-1.3 0.2zM236.7 350.4l-1.4 0.1l-1.3 -0.2l-1.3 -0.3l-1.4 -0.7l-1 -0.7l-0.8 -0.9l-0.6 -1l-0.4 -1.4l0 -1l0.2 -1.3l0.6 -1.3l0.7 -1l1 -1l1 -0.7l1.3 -0.7l1.4 -0.4l1.3 0l1.3 0.2l1.4 0.5l1 0.6l1 0.8l1 1.3l0.5 1l0.3 1.4l0.1 1.3l-0.2 1l-0.4 1l-0.7 1l-1 0.9l-1 0.6l-1.3 0.6l-1.3 0.3zM237.3 350.7l-1.3 0.2l-1.7 -0.1l-1.3 -0.2l-1.4 -0.6l-1.3 -0.8l-0.9 -0.9l-0.8 -1l-0.5 -1.3l-0.2 -1.3l0.2 -1.4l0.5 -1.3l0.7 -1.2l1 -1.2l1.4 -1l1.3 -0.7l1.3 -0.4l1.4 -0.2l1.3 0.1l1.3 0.4l1.4 0.7l1.3 1.2l0.8 1l0.8 1.3l0.4 1.3l0.1 1.4l-0.1 1l-0.4 1.3l-0.7 1l-0.9 1l-1 0.7l-1.3 0.6l-1.4 0.4zM236.0 351.4l-1.7 -0.1l-1.6 -0.3l-1.4 -0.6l-1.3 -0.8l-1.1 -0.9l-0.9 -1.4l-0.5 -1.3l-0.1 -1.3l0.1 -1.4l0.5 -1.4l1 -1.6l1 -1.1l1.3 -1.1l1.4 -0.7l1.6 -0.6l1.4 -0.1l1.3 0.1l1.3 0.3l1.4 0.7l1.3 1.1l1 1.1l0.9 1.3l0.5 1.4l0.3 1.6l-0.1 1.4l-0.4 1.3l-0.6 1l-0.9 1.1l-1.2 0.9l-1.5 0.7l-1.3 0.4l-1.7 0.3zM237.3 351.7l-2 0.1l-1.6 -0.1l-1.7 -0.4l-1.7 -0.8l-1.3 -1l-1.1 -1.2l-0.7 -1.3l-0.4 -1.3l0 -1.4l0.3 -1.6l0.6 -1.4l1 -1.5l1.3 -1.4l1.3 -1l1.7 -0.9l1.7 -0.4l1.6 -0.1l1.4 0.2l1.3 0.5l1.5 1l1.5 1.3l1 1.3l0.7 1.4l0.5 1.6l0.1 1.4l-0.2 1.3l-0.4 1.3l-0.9 1.4l-1.1 1.1l-1.4 0.9l-1.3 0.6l-1.7 0.4zM236.0 352.3l-2 0l-1.7 -0.4l-1.6 -0.6l-1.7 -1.1l-1.3 -1.2l-0.9 -1.3l-0.5 -1.4l-0.2 -1.6l0.2 -1.7l0.7 -1.7l1 -1.6l1.3 -1.5l1.7 -1.4l1.7 -0.9l1.6 -0.6l1.7 -0.1l1.7 0.2l1.3 0.5l1.7 1l1.3 1.2l1.3 1.6l0.9 1.6l0.6 1.7l0.1 1.7l-0.2 1.6l-0.5 1.4l-0.9 1.2l-1 1.1l-1.3 0.9l-1.7 0.8l-1.6 0.5l-1.7 0.1zM237.7 352.7l-2 0.2l-2 -0.1l-2 -0.5l-2 -0.9l-1.6 -1.1l-1.2 -1.3l-1 -1.7l-0.4 -1.6l0 -1.7l0.3 -1.7l0.9 -1.8l1.3 -1.8l1.7 -1.8l1.6 -1.2l1.7 -0.9l2 -0.5l1.7 -0.1l1.6 0.4l1.7 0.8l1.3 1l1.6 1.6l1.2 1.7l1 2l0.4 1.6l0.1 1.7l-0.3 1.7l-0.5 1.3l-1 1.3l-1.1 1.2l-1.7 1.1l-1.7 0.7l-1.6 0.4zM237.7 353.4l-2.4 0.1l-2.3 -0.2l-2 -0.5l-2 -1l-1.7 -1.3l-1.3 -1.5l-0.9 -1.7l-0.4 -1.6l0 -1.7l0.4 -2l1 -2l1.2 -1.8l2 -2.1l2 -1.5l2 -1.1l1.7 -0.4l1.7 -0.1l1.6 0.4l1.7 0.8l1.7 1.2l1.6 1.8l1.5 2.1l1 2l0.5 2l0.1 1.7l-0.3 1.7l-0.7 1.6l-0.9 1.4l-1.4 1.3l-1.5 1l-1.9 0.9l-2 0.5zM238.0 354.0l-2.3 0.2l-2.4 -0.1l-2.3 -0.6l-2.3 -1l-2 -1.5l-1.4 -1.5l-0.9 -1.8l-0.5 -2l0 -2l0.5 -2l1.1 -2.4l1.4 -2l2.1 -2.2l2.3 -2l1.7 -0.9l2 -0.6l1.7 0l2 0.4l2 1.1l1.6 1.4l1.9 2.2l1.5 2.3l0.9 2l0.6 2.3l0 2l-0.3 1.7l-0.7 1.7l-0.9 1.3l-1.6 1.5l-1.7 1.1l-2 0.9l-2 0.5zM236.7 355.0l-2.7 0l-2.7 -0.5l-2.3 -0.9l-2 -1.2l-1.7 -1.4l-0.8 -1l-0.6 -1l-0.8 -2l-0.3 -2l0 -1.3l0.2 -1l0.8 -2.4l1.5 -2.6l2.4 -3.1l2 -2.2l2 -1.6l2 -0.9l1 -0.3l1 -0.1l2 0.2l2 0.8l2 1.3l1.6 1.6l1.9 2.6l1.7 3l1 2.7l0.4 2.3l-0.1 2l-0.6 2l-0.9 1.7l-1.4 1.6l-2 1.6l-2 1l-2 0.7l-2.6 0.4zM268.0 293.0l-1.3 0.1l-1.7 -0.2l-1.3 -0.2l-1.7 -0.5l-1.2 -0.5l-0.9 -0.7l-0.2 -0.3l-0.1 -0.4l0.1 -0.3l0.9 -0.7l1.4 -0.5l2 -0.5l2 -0.2l1.7 0l1.5 0.2l1.1 0.4l1.1 0.6l0.3 0.4l0.3 0.6l0 0.7l-0.4 0.7l-0.6 0.5l-1 0.4l-2 0.4zM236.7 355.7l-3 -0.1l-2.7 -0.5l-2.3 -0.9l-2.4 -1.3l-1.7 -1.6l-1.4 -2l-0.7 -1.3l-0.3 -1l-0.3 -2l0.1 -1.3l0.2 -1.4l1 -2.6l1.7 -3l2.8 -3.9l2 -2.3l1.6 -1.4l1 -0.6l1 -0.4l1 -0.3l1 -0.1l2 0.2l2.4 0.9l2.3 1.5l2 2l1.9 2.7l1.7 3.3l1.1 3l0.4 2.7l-0.2 2.3l-0.6 2l-1.1 2l-1.5 1.7l-2 1.5l-2 1l-2.4 0.8l-2.6 0.4zM268.3 295.0l-2.6 0l-2.7 -0.4l-3 -0.6l-3 -0.9l-1.9 -0.8l-1.5 -1l-0.6 -0.9l0 -0.7l0.3 -0.5l0.6 -0.5l1.1 -0.6l1.3 -0.4l3.7 -0.8l4.7 -0.6l3 -0.1l2.6 0.3l2 0.6l1.7 0.9l1 1l0.3 0.7l0.1 0.6l-0.1 1l-0.6 1.3l-1.3 1.1l-1.4 0.6l-1.7 0.5l-2 0.2zM235.7 300.7l-1 -0.2l-0.7 -0.5l-0.5 -1l-0.2 -0.7l0.1 -0.6l0.3 -1l0.6 -0.8l1 -0.5l1 -0.1l0.7 0.2l0.7 0.7l0.3 0.8l0 1l-0.3 1l-0.4 0.7l-0.7 0.6l-0.9 0.4zM238.7 355.7l-3 0.3l-3 -0.3l-2.7 -0.6l-2.7 -1.3l-2.1 -1.5l-1 -1l-0.8 -1l-1.1 -2l-0.4 -1.3l-0.2 -1l-0.1 -1.3l0.1 -1.4l0.3 -1.3l0.4 -1.3l1.3 -2.7l2.3 -3.6l2.3 -3.2l2 -2.1l1.4 -1l1 -0.6l1 -0.4l1 -0.2l1 0l1 0.1l1 0.3l1.3 0.5l1.3 0.7l1.4 0.9l2.1 1.9l1.8 2.4l1.6 3l1.4 3.3l0.5 1.7l0.2 1.3l0.1 2.3l-0.4 2l-0.8 2l-1.2 1.7l-1.7 1.7l-2 1.3l-2.3 1.1l-2.3 0.6zM270.7 296.4l-3.4 0.2l-3.6 -0.3l-4.4 -0.7l-4.5 -1.3l-2.8 -1.1l-1 -0.5l-0.9 -0.7l-0.7 -0.7l-0.3 -0.6l-0.1 -0.7l0.1 -0.7l0.3 -0.6l0.7 -0.7l1.6 -0.9l2.1 -0.8l3.2 -0.6l5.7 -0.6l4.3 -0.3l3.6 0.2l2.7 0.6l1 0.4l1.2 0.7l0.8 0.6l0.6 0.7l0.4 0.7l0.4 1l0.1 1l-0.2 1l-0.3 0.8l-0.5 0.8l-0.6 0.7l-0.9 0.7l-2 1l-2.6 0.7zM236.3 302.3l-1 0.3l-0.6 -0.1l-0.7 -0.3l-0.6 -0.5l-0.6 -0.7l-0.4 -1l-0.3 -1.7l0.2 -1.6l0.4 -0.7l0.6 -0.9l0.7 -0.6l0.7 -0.4l0.6 -0.2l1 -0.1l1.4 0.2l0.9 0.7l0.7 1l0.2 1.3l-0.2 1.7l-0.6 1.4l-1 1.3l-0.7 0.6l-0.7 0.3zM238.3 356.0l-2.6 0.3l-3 -0.3l-3 -0.8l-2.4 -1l-2.3 -1.7l-1.7 -1.8l-1.2 -2l-0.4 -1.4l-0.3 -1.3l-0.1 -1.3l0.1 -1.4l0.3 -1.6l0.5 -1.4l1.3 -2.6l2.8 -4.6l2.3 -3.1l2.1 -2.1l2 -1.4l1 -0.4l1 -0.3l1 0l1 0.2l1.3 0.5l1.3 0.7l2.7 1.7l1.3 1.2l1 1l1.6 2.2l1.6 3l1.5 3.7l0.4 1.7l0.3 1.3l0 2.3l-0.3 2l-0.8 2l-1.4 2l-1.8 1.7l-2.1 1.3l-2.6 1.2l-2.4 0.5zM269.7 298.0l-3.7 0.1l-4.3 -0.5l-5.4 -1.2l-4.5 -1.4l-3.1 -1.3l-1.1 -0.7l-0.8 -0.7l-0.6 -0.6l-0.3 -0.7l-0.1 -0.7l0.1 -1l0.6 -1l0.5 -0.6l0.8 -0.7l1.1 -0.7l2.4 -0.9l3.4 -0.8l7.3 -0.8l5.7 -0.3l2 0.1l2 0.2l1.6 0.3l1.7 0.5l1.3 0.7l1.1 0.7l1.1 1l0.7 1l0.4 1l0.2 1.3l-0.1 1.4l-0.3 1l-0.5 1l-0.9 1l-1 0.9l-1.2 0.7l-1.4 0.7l-1.4 0.5l-1.7 0.3l-1.6 0.2zM235.7 304.8l-1 0l-0.7 -0.3l-1 -0.8l-0.7 -0.9l-0.6 -1.3l-0.5 -1.5l-0.2 -1.3l0.1 -1.4l0.4 -1.3l0.5 -1l0.7 -0.8l1 -0.8l1 -0.6l1 -0.3l1.3 -0.1l1 0.1l1.4 0.5l0.6 0.4l0.5 0.6l0.3 0.7l0.1 1l-0.1 2l-0.8 2.3l-1.2 2l-1.5 1.7l-1 0.8l-0.6 0.3zM238.0 356.4l-3 0.2l-3 -0.4l-2.7 -0.7l-2.6 -1.3l-1.4 -1l-1 -0.8l-0.9 -1.1l-0.8 -1l-0.7 -1.3l-0.4 -1l-0.5 -2.3l-0.1 -1.4l0.2 -1.3l0.7 -2.7l1.4 -3l3 -5l2.1 -3l2.4 -2.6l2.3 -2l1 -0.5l0.7 -0.2l0.6 0.1l1 0.3l3 1.8l3.4 2.4l1.3 1.3l1 1.1l1.6 2.3l1.6 3.4l1.3 3.6l0.6 3l0 2.4l-0.6 2.3l-0.9 2l-1.6 2l-1.7 1.5l-2.3 1.4l-2.3 0.9l-2.7 0.6zM237.3 356.7l-3 0.1l-1.6 -0.2l-1.7 -0.4l-2.3 -0.7l-1.4 -0.7l-1.3 -0.8l-2.1 -1.7l-1.6 -2l-0.7 -1.3l-0.4 -1l-0.5 -2.3l-0.1 -1.7l0.4 -2l0.5 -1.7l1 -2.3l2.6 -4.7l1.6 -2.6l1.3 -1.9l3.8 -4.8l0.7 -1.3l0.3 -1l0 -1.4l-0.4 -3.3l-0.1 -2.3l0.3 -2.4l0.7 -3.3l0 -1l-0.4 -1.7l-1.9 -4.1l-0.6 -2.2l-0.1 -1.3l0.1 -1.4l0.3 -1.3l0.5 -1l0.8 -1.1l1 -1l1 -0.6l1.3 -0.5l1 -0.3l1.4 -0.1l3.6 0.3l1 -0.2l0.5 -0.5l1.6 -2.7l0.9 -1l0.7 -0.6l1 -0.7l1.3 -0.7l1.7 -0.6l1.7 -0.5l3 -0.5l4.6 -0.5l5.4 -0.5l3.6 -0.1l2.7 0.2l2.3 0.3l2 0.6l1.7 0.7l1 0.6l1 0.8l0.8 0.9l0.6 1l0.4 1l0.3 1l0 1.3l-0.1 1l-0.4 1l-0.5 1l-0.7 1l-1 1l-1.1 0.8l-1.3 0.7l-2.7 1l-2.3 0.5l-2.7 0.2l-2.6 -0.1l-3 -0.3l-4 -0.7l-4.7 -1.3l-3.3 -1l-6 -2.3l-1 -0.1l-0.4 0.1l-0.4 0.5l-1.4 4.3l-0.9 2.4l-1.3 2.2l-2.3 3.4l-0.5 1l-0.2 0.7l-0.1 1.3l0.5 3.2l0.1 2.2l-0.1 2l-0.4 3.3l0.1 1.3l0.5 1.4l1.1 1.3l6 5.2l1.6 1.8l1.1 1.7l1.4 3l1.7 4.6l0.6 2.7l0 2.3l-0.4 2.4l-0.9 2l-1.1 1.6l-1.6 1.7l-2.1 1.5l-2 1l-2.3 0.7l-2.7 0.5zM237.3 357.0l-3 0.1l-1.6 -0.2l-1.7 -0.3l-3 -1.1l-2.3 -1.3l-1.2 -0.9l-1.1 -1l-1.6 -2l-0.7 -1.3l-0.4 -1l-0.4 -2.3l-0.1 -1.7l0.3 -1.7l0.4 -1.6l0.7 -1.7l4 -7.7l4 -6.3l0.6 -1.3l0.3 -1l0.1 -1.7l-0.3 -4.3l0 -2.4l0.6 -5.6l0 -1.7l-0.2 -1.7l-1 -4.3l-0.2 -2.3l0.2 -2l0.7 -2l1.3 -1.8l1 -0.9l1 -0.6l2 -0.9l3.4 -0.8l1.2 -0.5l1 -0.6l2.7 -2.3l1.7 -1.2l2.3 -1l2.7 -0.8l3 -0.6l4.6 -0.5l6 -0.5l4.4 -0.2l3 0.2l2.3 0.3l2 0.6l2 0.9l1 0.6l1.2 0.9l0.9 1l0.7 1l0.4 1l0.4 1.3l0.1 1l-0.1 1.4l-0.3 1.3l-0.4 1l-0.6 1l-0.9 1l-1 1l-1.1 0.8l-1.3 0.8l-1.3 0.6l-2.7 0.8l-2.7 0.5l-3 0.2l-3.3 -0.2l-2.3 -0.4l-3 -0.6l-3.7 -1l-6.7 -2l-2.3 -0.5l-1 0.1l-0.7 0.3l-0.6 0.6l-0.7 1l-3.5 7l-0.5 1.3l-0.2 1l-0.1 1.7l0.1 5l-0.2 6l0.1 1.7l0.4 1.3l0.8 1.3l1.2 1.4l4.2 4l1.3 1.6l0.9 1.7l1.3 3l1.4 4.3l0.6 2.7l0 2.7l-0.4 2l-0.9 2l-1.3 2l-1.5 1.5l-2 1.4l-2.4 1.2l-2.3 0.8l-2.7 0.4zM238.7 357.3l-1.7 0.2l-1.7 0.1l-1.6 -0.1l-1.7 -0.2l-3 -0.8l-2.7 -1.2l-2.3 -1.7l-1 -0.9l-1.2 -1.4l-0.6 -1l-0.7 -1.3l-0.5 -1.3l-0.3 -1.4l-0.1 -1.3l0.1 -1.7l0.2 -1.3l0.6 -2l1 -2.3l2.7 -5.7l3.3 -6l0.5 -1.3l0.4 -1.4l0.1 -2l-0.2 -7.3l0.6 -7.7l-0.1 -2l-0.5 -3.6l0 -2l0.3 -2.4l0.3 -1l0.5 -1.3l0.6 -1l1 -1.2l1 -0.9l1.3 -1l5.3 -2.6l4.1 -2.6l1.6 -1l2.4 -0.9l2.6 -0.8l3.4 -0.7l4.6 -0.5l7.4 -0.6l4.6 -0.2l3 0.2l2.7 0.4l2.3 0.6l2 0.9l1.4 0.8l1 0.8l1 1.1l0.9 1.2l0.6 1.3l0.4 1.4l0.2 1.3l0 1.3l-0.2 1.4l-0.4 1.3l-0.7 1.3l-0.7 1l-0.8 1l-1.3 1.2l-1.4 1l-1.3 0.8l-3 1.3l-3.3 0.9l-3.4 0.5l-3.3 0l-2.3 -0.2l-2.7 -0.6l-9.9 -3.2l-1.8 -0.4l-1.3 -0.2l-1.3 0.3l-1 0.6l-0.7 0.7l-1 1.6l-1.3 3.1l-0.4 1.3l-0.3 1.7l-0.1 6.6l-0.2 5.4l0.1 2.3l0.4 1.3l0.8 1.4l4.5 5l1.1 1.6l0.9 1.7l1 2.7l1.4 4.6l0.5 2.7l0 2.3l-0.3 2l-0.9 2.4l-1 1.6l-1.5 1.7l-1.7 1.4l-2.3 1.4l-2.7 1l-2.3 0.5zM236.0 358.3l-3.3 -0.1l-3 -0.7l-2.7 -1l-2.7 -1.6l-2.2 -1.9l-1.5 -2l-1.2 -2.3l-0.4 -1.4l-0.2 -1.3l-0.1 -1.3l0.1 -1.7l0.7 -3l3.4 -8.3l2.4 -5.4l0.7 -2.3l0.2 -2.3l-0.1 -7.7l0.5 -8.3l0 -7.4l0.3 -1.6l0.3 -1.4l0.6 -1.6l0.7 -1.4l1.2 -1.7l1.6 -1.7l2.4 -1.8l3 -1.9l3.3 -2l2.7 -1.3l2.6 -1l3 -0.8l3.7 -0.7l5.3 -0.6l7.7 -0.7l5.3 -0.2l3.4 0.2l2.6 0.4l2.7 0.8l2.3 1.1l1.4 0.9l1.3 1.1l1.2 1.3l0.9 1.3l0.7 1.3l0.6 1.7l0.2 1.7l0 1.6l-0.1 1.4l-0.5 1.6l-0.7 1.7l-0.9 1.3l-1.1 1.5l-1.3 1.3l-1.3 1.2l-1.7 1.2l-3.7 2l-4 1.6l-3.6 1l-2 0.3l-1.7 0.1l-3 -0.1l-1.7 -0.3l-1.3 -0.4l-2.3 -1l-5.1 -2.7l-1.6 -0.6l-1 -0.3l-1.3 -0.1l-1 0.3l-1 0.7l-0.7 1l-0.8 2l-0.4 2.7l-0.8 10l0 2l0.2 1.3l0.4 1.3l0.6 1.4l4.2 5.3l1 1.7l0.7 1.6l1.1 3.7l0.9 4.3l0.3 2.7l-0.2 2.3l-0.6 2.4l-1.2 2.3l-1.5 2l-2.2 1.9l-2.7 1.6l-2.3 0.9l-3 0.7l-2.7 0.2zM237.0 360.0l-1.7 0.1l-2 -0.1l-3.3 -0.6l-2 -0.6l-1.7 -0.7l-3 -1.6l-1.3 -1l-1.2 -1.2l-0.9 -1l-1 -1.3l-0.8 -1.3l-0.6 -1.4l-0.7 -2.6l-0.2 -2.7l0.2 -1.7l0.3 -1.6l2.4 -8.7l1.9 -5.3l0.5 -2.7l0.1 -2l0 -6.7l0.1 -4.6l0.8 -10.4l0.5 -3.6l0.4 -2l0.7 -2.4l1 -2.3l1.1 -2l1.7 -2.7l1.7 -2.1l1.7 -1.5l2 -1.4l2.3 -1.1l2.7 -1l4 -1.1l4.3 -0.9l5.7 -1l6.6 -0.7l7.7 -0.7l5 -0.2l3.7 0.2l3 0.5l3 0.9l2.6 1.2l1.4 0.9l1.4 1l1.2 1.1l1.2 1.3l1 1.3l0.8 1.3l0.7 1.4l0.6 1.6l0.3 1.4l0.2 1.6l0.1 1.7l-0.2 1.7l-0.3 1.6l-0.5 1.7l-1.4 3l-1.5 2.3l-1.6 2.2l-2 2.3l-2 1.9l-2 1.6l-2 1.3l-2.4 1.2l-2 0.9l-2.3 0.8l-2.3 0.5l-2.4 0.5l-2.3 0.2l-2.7 0.2l-3 -0.1l-2.6 -0.3l-4.7 -0.7l-1.3 -0.1l-0.7 0l-0.9 0.3l-0.5 0.3l-0.6 0.6l-0.7 1.1l-0.7 2l-0.2 2l0.1 2l0.3 1.3l0.6 1.4l2.7 4l1 1.6l0.7 1.7l0.4 1.3l0.6 3l0.7 6.4l0 2.6l-0.4 2.4l-0.8 2.3l-1.4 2.3l-1.7 2l-2.2 1.9l-2.7 1.6l-2.3 1l-2.7 0.7l-3.3 0.5z" fill="none" stroke="#4646ee" stroke-width="0.9"/>
<line x1="247.50" y1="259.50" x2="247.50" y2="374.50" stroke="#333" stroke-width="1.0"/>
<line x1="207.50" y1="331.50" x2="323.50" y2="331.50" stroke="#333" stroke-width="1.0"/>
<rect x="207.50" y="259.50" width="116.00" height="115.00" fill="none" stroke="#333" stroke-width="1.0"/>
<line x1="211.90" y1="374.50" x2="211.90" y2="378.10" stroke="#333" stroke-width="0.8"/><line x1="251.10" y1="374.50" x2="251.10" y2="378.10" stroke="#333" stroke-width="0.8"/><line x1="283.20" y1="374.50" x2="283.20" y2="378.10" stroke="#333" stroke-width="0.8"/><line x1="313.80" y1="374.50" x2="313.80" y2="378.10" stroke="#333" stroke-width="0.8"/><line x1="260.76" y1="374.50" x2="260.76" y2="376.50" stroke="#444" stroke-width="0.7"/><line x1="266.42" y1="374.50" x2="266.42" y2="376.50" stroke="#444" stroke-width="0.7"/><line x1="270.43" y1="374.50" x2="270.43" y2="376.50" stroke="#444" stroke-width="0.7"/><line x1="273.54" y1="374.50" x2="273.54" y2="376.50" stroke="#444" stroke-width="0.7"/><line x1="276.08" y1="374.50" x2="276.08" y2="376.50" stroke="#444" stroke-width="0.7"/><line x1="278.23" y1="374.50" x2="278.23" y2="376.50" stroke="#444" stroke-width="0.7"/><line x1="280.09" y1="374.50" x2="280.09" y2="376.50" stroke="#444" stroke-width="0.7"/><line x1="281.73" y1="374.50" x2="281.73" y2="376.50" stroke="#444" stroke-width="0.7"/><line x1="292.41" y1="374.50" x2="292.41" y2="376.50" stroke="#444" stroke-width="0.7"/><line x1="297.80" y1="374.50" x2="297.80" y2="376.50" stroke="#444" stroke-width="0.7"/><line x1="301.62" y1="374.50" x2="301.62" y2="376.50" stroke="#444" stroke-width="0.7"/><line x1="304.59" y1="374.50" x2="304.59" y2="376.50" stroke="#444" stroke-width="0.7"/><line x1="307.01" y1="374.50" x2="307.01" y2="376.50" stroke="#444" stroke-width="0.7"/><line x1="309.06" y1="374.50" x2="309.06" y2="376.50" stroke="#444" stroke-width="0.7"/><line x1="310.83" y1="374.50" x2="310.83" y2="376.50" stroke="#444" stroke-width="0.7"/><line x1="312.40" y1="374.50" x2="312.40" y2="376.50" stroke="#444" stroke-width="0.7"/><line x1="219.74" y1="374.50" x2="219.74" y2="376.50" stroke="#444" stroke-width="0.7"/><line x1="227.58" y1="374.50" x2="227.58" y2="376.50" stroke="#444" stroke-width="0.7"/><line x1="233.46" y1="374.50" x2="233.46" y2="376.50" stroke="#444" stroke-width="0.7"/><line x1="239.34" y1="374.50" x2="239.34" y2="376.50" stroke="#444" stroke-width="0.7"/><line x1="243.26" y1="374.50" x2="243.26" y2="376.50" stroke="#444" stroke-width="0.7"/><line x1="247.18" y1="374.50" x2="247.18" y2="376.50" stroke="#444" stroke-width="0.7"/><line x1="203.90" y1="366.50" x2="207.50" y2="366.50" stroke="#333" stroke-width="0.8"/><line x1="203.90" y1="329.50" x2="207.50" y2="329.50" stroke="#333" stroke-width="0.8"/><line x1="203.90" y1="297.50" x2="207.50" y2="297.50" stroke="#333" stroke-width="0.8"/><line x1="203.90" y1="269.50" x2="207.50" y2="269.50" stroke="#333" stroke-width="0.8"/><line x1="205.50" y1="319.87" x2="207.50" y2="319.87" stroke="#444" stroke-width="0.7"/><line x1="205.50" y1="314.23" x2="207.50" y2="314.23" stroke="#444" stroke-width="0.7"/><line x1="205.50" y1="310.23" x2="207.50" y2="310.23" stroke="#444" stroke-width="0.7"/><line x1="205.50" y1="307.13" x2="207.50" y2="307.13" stroke="#444" stroke-width="0.7"/><line x1="205.50" y1="304.60" x2="207.50" y2="304.60" stroke="#444" stroke-width="0.7"/><line x1="205.50" y1="302.46" x2="207.50" y2="302.46" stroke="#444" stroke-width="0.7"/><line x1="205.50" y1="300.60" x2="207.50" y2="300.60" stroke="#444" stroke-width="0.7"/><line x1="205.50" y1="298.96" x2="207.50" y2="298.96" stroke="#444" stroke-width="0.7"/><line x1="205.50" y1="289.07" x2="207.50" y2="289.07" stroke="#444" stroke-width="0.7"/><line x1="205.50" y1="284.14" x2="207.50" y2="284.14" stroke="#444" stroke-width="0.7"/><line x1="205.50" y1="280.64" x2="207.50" y2="280.64" stroke="#444" stroke-width="0.7"/><line x1="205.50" y1="277.93" x2="207.50" y2="277.93" stroke="#444" stroke-width="0.7"/><line x1="205.50" y1="275.71" x2="207.50" y2="275.71" stroke="#444" stroke-width="0.7"/><line x1="205.50" y1="273.84" x2="207.50" y2="273.84" stroke="#444" stroke-width="0.7"/><line x1="205.50" y1="272.21" x2="207.50" y2="272.21" stroke="#444" stroke-width="0.7"/><line x1="205.50" y1="270.78" x2="207.50" y2="270.78" stroke="#444" stroke-width="0.7"/><line x1="205.50" y1="359.10" x2="207.50" y2="359.10" stroke="#444" stroke-width="0.7"/><line x1="205.50" y1="351.70" x2="207.50" y2="351.70" stroke="#444" stroke-width="0.7"/><line x1="205.50" y1="346.15" x2="207.50" y2="346.15" stroke="#444" stroke-width="0.7"/><line x1="205.50" y1="340.60" x2="207.50" y2="340.60" stroke="#444" stroke-width="0.7"/><line x1="205.50" y1="336.90" x2="207.50" y2="336.90" stroke="#444" stroke-width="0.7"/><line x1="205.50" y1="333.20" x2="207.50" y2="333.20" stroke="#444" stroke-width="0.7"/><rect x="230.00" y="374.80" width="3.50" height="2.60" fill="#111"/><rect x="205.10" y="351.50" width="2.40" height="3.20" fill="#111"/>
<text x="210.10" y="267.80" font-size="8.5" text-anchor="start" fill="#222">24.6</text>
<text x="321.10" y="267.80" font-size="8.5" text-anchor="end" fill="#222">20.8</text>
<text x="210.10" y="369.60" font-size="8.5" text-anchor="start" fill="#222">52.6</text>
<text x="321.10" y="369.60" font-size="8.5" text-anchor="end" fill="#222">2.00</text>
<path d="M108.4,439.3h0.8v0.8h-0.8zM116.0,422.4h0.8v0.8h-0.8zM105.3,414.1h0.8v0.8h-0.8zM97.3,419.3h0.8v0.8h-0.8zM102.0,450.8h0.8v0.8h-0.8zM101.0,433.6h0.8v0.8h-0.8zM99.2,446.7h0.8v0.8h-0.8zM109.1,423.8h0.8v0.8h-0.8zM102.6,443.6h0.8v0.8h-0.8zM94.6,422.1h0.8v0.8h-0.8zM110.7,428.3h0.8v0.8h-0.8zM105.8,465.3h0.8v0.8h-0.8zM108.6,441.2h0.8v0.8h-0.8zM107.1,423.5h0.8v0.8h-0.8zM110.3,429.3h0.8v0.8h-0.8zM106.7,435.1h0.8v0.8h-0.8zM113.9,447.4h0.8v0.8h-0.8zM109.0,423.7h0.8v0.8h-0.8zM108.9,406.1h0.8v0.8h-0.8zM109.0,426.6h0.8v0.8h-0.8zM97.8,430.7h0.8v0.8h-0.8zM105.5,432.0h0.8v0.8h-0.8zM104.9,448.9h0.8v0.8h-0.8zM107.7,434.9h0.8v0.8h-0.8zM98.3,441.9h0.8v0.8h-0.8zM116.3,415.1h0.8v0.8h-0.8zM107.1,442.7h0.8v0.8h-0.8zM99.2,459.8h0.8v0.8h-0.8zM96.2,441.3h0.8v0.8h-0.8zM104.8,434.0h0.8v0.8h-0.8zM106.0,432.7h0.8v0.8h-0.8zM102.2,455.5h0.8v0.8h-0.8zM107.1,417.5h0.8v0.8h-0.8zM102.7,428.9h0.8v0.8h-0.8zM109.8,436.9h0.8v0.8h-0.8zM102.2,440.9h0.8v0.8h-0.8zM106.3,424.4h0.8v0.8h-0.8zM112.4,434.8h0.8v0.8h-0.8zM121.9,426.6h0.8v0.8h-0.8zM100.5,432.2h0.8v0.8h-0.8zM103.7,428.7h0.8v0.8h-0.8zM101.5,414.5h0.8v0.8h-0.8zM111.2,430.2h0.8v0.8h-0.8zM99.6,442.8h0.8v0.8h-0.8zM103.6,417.0h0.8v0.8h-0.8zM106.3,427.1h0.8v0.8h-0.8zM100.6,439.8h0.8v0.8h-0.8zM100.8,415.5h0.8v0.8h-0.8zM103.6,433.1h0.8v0.8h-0.8zM93.9,415.7h0.8v0.8h-0.8zM97.8,446.4h0.8v0.8h-0.8zM104.0,462.9h0.8v0.8h-0.8zM107.4,458.8h0.8v0.8h-0.8zM105.4,427.4h0.8v0.8h-0.8zM95.9,440.9h0.8v0.8h-0.8zM103.7,432.2h0.8v0.8h-0.8zM111.3,431.9h0.8v0.8h-0.8zM109.8,452.2h0.8v0.8h-0.8zM106.0,412.0h0.8v0.8h-0.8zM101.2,445.3h0.8v0.8h-0.8zM140.7,440.3h0.8v0.8h-0.8zM164.0,420.7h0.8v0.8h-0.8zM144.5,422.1h0.8v0.8h-0.8zM130.7,423.2h0.8v0.8h-0.8zM145.9,426.7h0.8v0.8h-0.8zM153.3,412.9h0.8v0.8h-0.8zM142.1,439.9h0.8v0.8h-0.8zM149.3,419.9h0.8v0.8h-0.8zM133.2,432.0h0.8v0.8h-0.8zM107.4,413.9h0.8v0.8h-0.8zM155.9,430.5h0.8v0.8h-0.8zM152.7,431.0h0.8v0.8h-0.8zM143.9,419.6h0.8v0.8h-0.8zM142.6,453.8h0.8v0.8h-0.8zM158.1,430.7h0.8v0.8h-0.8zM134.2,450.4h0.8v0.8h-0.8zM130.2,438.9h0.8v0.8h-0.8zM138.5,416.2h0.8v0.8h-0.8zM160.5,420.1h0.8v0.8h-0.8zM119.3,431.6h0.8v0.8h-0.8zM160.6,426.4h0.8v0.8h-0.8zM131.3,426.2h0.8v0.8h-0.8zM123.9,421.5h0.8v0.8h-0.8zM161.7,400.2h0.8v0.8h-0.8zM139.9,422.3h0.8v0.8h-0.8zM120.7,394.4h0.8v0.8h-0.8zM135.8,430.7h0.8v0.8h-0.8zM156.4,415.3h0.8v0.8h-0.8zM160.6,415.5h0.8v0.8h-0.8zM134.7,422.4h0.8v0.8h-0.8zM148.0,429.3h0.8v0.8h-0.8zM152.9,405.5h0.8v0.8h-0.8zM131.2,401.0h0.8v0.8h-0.8zM147.2,410.6h0.8v0.8h-0.8zM141.0,396.9h0.8v0.8h-0.8zM132.9,412.0h0.8v0.8h-0.8zM133.6,447.8h0.8v0.8h-0.8zM142.6,410.7h0.8v0.8h-0.8zM142.0,434.6h0.8v0.8h-0.8zM132.5,406.3h0.8v0.8h-0.8zM134.7,429.7h0.8v0.8h-0.8zM159.3,421.0h0.8v0.8h-0.8zM144.9,424.7h0.8v0.8h-0.8zM155.7,433.5h0.8v0.8h-0.8zM160.7,450.1h0.8v0.8h-0.8zM150.9,428.2h0.8v0.8h-0.8zM177.8,427.2h0.8v0.8h-0.8zM128.3,411.9h0.8v0.8h-0.8zM154.4,433.7h0.8v0.8h-0.8zM136.4,422.1h0.8v0.8h-0.8zM171.2,437.1h0.8v0.8h-0.8zM168.7,424.9h0.8v0.8h-0.8zM110.2,449.9h0.8v0.8h-0.8zM126.0,397.7h0.8v0.8h-0.8zM152.1,421.3h0.8v0.8h-0.8zM154.1,437.8h0.8v0.8h-0.8zM153.3,420.6h0.8v0.8h-0.8zM140.4,414.4h0.8v0.8h-0.8zM148.8,421.8h0.8v0.8h-0.8zM151.9,406.2h0.8v0.8h-0.8zM140.3,427.2h0.8v0.8h-0.8zM157.9,459.7h0.8v0.8h-0.8zM105.3,441.5h0.8v0.8h-0.8zM151.6,410.0h0.8v0.8h-0.8zM125.0,413.3h0.8v0.8h-0.8zM156.8,419.8h0.8v0.8h-0.8zM137.8,439.6h0.8v0.8h-0.8zM127.3,414.0h0.8v0.8h-0.8zM147.5,415.8h0.8v0.8h-0.8zM126.9,437.9h0.8v0.8h-0.8zM126.9,437.6h0.8v0.8h-0.8zM116.4,420.3h0.8v0.8h-0.8zM141.1,409.9h0.8v0.8h-0.8zM149.4,403.8h0.8v0.8h-0.8zM157.9,415.7h0.8v0.8h-0.8zM139.2,394.3h0.8v0.8h-0.8zM158.3,436.0h0.8v0.8h-0.8zM141.8,416.7h0.8v0.8h-0.8zM140.0,432.2h0.8v0.8h-0.8zM150.7,451.7h0.8v0.8h-0.8zM178.5,467.3h0.8v0.8h-0.8zM164.6,467.8h0.8v0.8h-0.8zM176.7,461.0h0.8v0.8h-0.8zM178.4,462.7h0.8v0.8h-0.8zM167.0,471.3h0.8v0.8h-0.8zM165.8,468.6h0.8v0.8h-0.8zM170.8,462.4h0.8v0.8h-0.8zM161.9,478.7h0.8v0.8h-0.8zM180.3,480.4h0.8v0.8h-0.8zM157.1,457.7h0.8v0.8h-0.8zM164.9,468.3h0.8v0.8h-0.8zM169.9,481.6h0.8v0.8h-0.8zM170.1,471.2h0.8v0.8h-0.8zM172.5,467.8h0.8v0.8h-0.8zM173.1,465.3h0.8v0.8h-0.8zM170.2,463.3h0.8v0.8h-0.8zM178.3,465.2h0.8v0.8h-0.8zM158.7,463.2h0.8v0.8h-0.8zM171.5,471.0h0.8v0.8h-0.8zM167.2,464.1h0.8v0.8h-0.8z" fill="#606060"/>
<path d="M115.3 468.8l-1 0.1l-0.6 -0.2l-0.4 -0.4l-0.2 -0.6l0 -0.4l0.2 -0.6l0.4 -0.4l0.6 -0.3l0.7 0l0.6 0.3l0.4 0.4l0.2 0.6l-0.1 0.7l-0.2 0.3l-0.6 0.5zM115.3 469.4l-0.6 0.1l-1 -0.2l-0.7 -0.4l-0.4 -0.6l-0.2 -1l0.2 -0.6l0.4 -0.6l0.7 -0.5l1 -0.2l0.6 0.1l0.8 0.5l0.6 0.7l0.1 1l-0.2 0.6l-0.5 0.7l-0.8 0.4zM115.0 470.0l-1 0l-1 -0.5l-0.7 -0.6l-0.3 -0.9l0 -1l0.3 -0.9l0.7 -0.6l1 -0.5l1 0l1.1 0.3l0.7 0.7l0.5 1l0 1l-0.5 1l-0.8 0.7l-1 0.3zM115.3 470.4l-1.3 0l-1 -0.4l-0.8 -0.7l-0.6 -1l-0.1 -0.6l0 -0.7l0.4 -1l0.8 -0.8l1 -0.5l1.3 -0.1l1 0.2l1 0.8l0.6 1.1l0.2 0.6l-0.1 0.7l-0.4 1l-1 1l-1 0.4zM115.7 470.7l-1.4 0.1l-1.3 -0.3l-1.1 -0.8l-0.6 -1l-0.3 -1.4l0.3 -1.1l0.4 -0.6l0.5 -0.6l1.1 -0.6l1.4 -0.3l1.3 0.3l0.7 0.4l0.6 0.5l0.7 1l0.2 1.4l-0.1 0.6l-0.3 0.7l-0.8 1l-1.3 0.7zM115.7 471.0l-1 0.2l-0.7 -0.1l-1.3 -0.4l-1 -0.7l-0.5 -0.7l-0.3 -0.6l-0.2 -1.4l0.3 -1.3l0.4 -0.7l0.6 -0.6l1.3 -0.7l0.7 -0.2l1 0l1.3 0.4l1.2 0.8l0.5 0.7l0.4 0.6l0.1 0.7l0 1l-0.1 0.7l-0.4 0.6l-1 1.1l-1.3 0.6zM115.7 471.4l-1.7 0.1l-1.5 -0.5l-0.5 -0.3l-0.7 -0.7l-0.5 -0.7l-0.3 -0.6l-0.1 -0.7l0 -1l0.4 -1.3l0.4 -0.7l0.8 -0.7l1.3 -0.6l0.7 -0.2l1 0l0.9 0.2l0.8 0.3l0.6 0.4l0.7 0.6l0.4 0.7l0.3 0.6l0.2 0.7l0 1l-0.2 0.7l-0.4 0.8l-0.4 0.5l-0.7 0.7l-0.5 0.3l-1 0.4zM115.7 471.7l-1.7 0.1l-0.7 -0.1l-1 -0.4l-0.6 -0.5l-0.7 -0.6l-0.6 -0.9l-0.2 -0.6l-0.2 -0.7l0 -1l0.3 -1l0.3 -0.7l1.1 -1.1l0.7 -0.5l0.9 -0.4l1.7 -0.1l1 0.2l0.8 0.3l0.5 0.3l0.8 0.7l0.6 0.7l0.4 0.9l0.1 0.7l0 1l-0.2 0.8l-0.4 0.9l-0.5 0.6l-0.8 0.7l-0.6 0.4l-1 0.3zM115.7 472.0l-1 0.1l-1 0l-1 -0.3l-0.7 -0.4l-0.7 -0.4l-0.6 -0.7l-0.5 -0.6l-0.4 -1l-0.1 -0.7l0 -1l0.2 -1l0.4 -0.8l0.7 -0.9l0.7 -0.6l0.7 -0.4l0.9 -0.3l1 -0.1l1 0l1.7 0.5l0.9 0.6l0.6 0.7l0.5 0.6l0.4 1l0.2 1l-0.1 1l-0.4 1l-0.3 0.7l-0.6 0.7l-0.8 0.6l-0.7 0.4l-1 0.3zM115.3 472.4l-1 0l-1 -0.1l-0.9 -0.3l-0.7 -0.4l-0.8 -0.6l-0.6 -0.7l-0.6 -1l-0.3 -1l-0.1 -1l0.2 -1l0.4 -1l0.4 -0.6l0.7 -0.8l0.7 -0.6l1 -0.4l1 -0.3l1 -0.1l1 0.2l1 0.2l1 0.6l0.6 0.5l0.9 1l0.3 0.7l0.3 1l0.1 1l-0.2 1l-0.4 1l-0.4 0.6l-0.6 0.7l-1 0.7l-1 0.4l-1 0.3zM115.3 472.7l-1 0l-1 -0.1l-1 -0.3l-1 -0.6l-0.8 -0.7l-0.6 -0.7l-0.5 -1l-0.3 -1l-0.1 -1l0.2 -1l0.3 -1l0.7 -1l0.6 -0.6l0.9 -0.7l1 -0.4l1 -0.3l1.3 0l1 0.1l1 0.4l1 0.5l0.7 0.7l0.6 0.7l0.5 1l0.3 1l0.1 1l-0.2 1l-0.3 1l-0.7 1l-0.7 0.7l-1 0.6l-1 0.4l-1 0.3zM115.0 473.0l-1.3 0l-1 -0.3l-1 -0.4l-1 -0.6l-0.7 -0.7l-0.6 -1l-0.5 -1l-0.2 -1l0 -1l0.2 -1l0.4 -1l0.7 -1l0.7 -0.7l1 -0.6l1 -0.4l1.3 -0.3l1.3 0l1 0.2l1 0.4l1 0.6l0.9 0.8l0.7 1l0.4 1l0.2 1l0 1l-0.2 1l-0.4 1l-0.8 1l-0.8 0.8l-1 0.6l-1 0.4l-1.3 0.2zM116.3 473.1l-1 0.2l-1.3 0l-1.3 -0.3l-1 -0.4l-1 -0.6l-0.8 -0.7l-0.7 -1l-0.5 -1l-0.2 -1l-0.1 -1.3l0.2 -1l0.4 -1l0.6 -1l0.7 -0.7l1 -0.8l1 -0.4l1.4 -0.4l1.3 0l1.3 0.2l1 0.4l1 0.5l1 0.9l0.8 1l0.4 1l0.3 1l0 1.3l-0.2 1l-0.4 1l-0.7 1l-0.8 0.9l-1 0.6l-1.4 0.6zM116.3 473.4l-1 0.1l-1.3 0.1l-1.3 -0.3l-1 -0.4l-1.1 -0.6l-0.9 -0.8l-0.8 -1.2l-0.5 -1l-0.2 -1l-0.1 -1.3l0.3 -1.3l0.5 -1l0.6 -1l0.8 -0.8l1 -0.7l1 -0.4l1.4 -0.3l1.3 -0.1l1.3 0.2l1.1 0.4l1.3 0.7l1 1l0.7 1l0.4 1l0.3 1l0 1.3l-0.3 1.3l-0.4 1l-0.8 1l-0.9 0.9l-1 0.7l-1.4 0.5zM116.0 473.7l-1.3 0.2l-1.4 -0.1l-1.3 -0.4l-1 -0.5l-1 -0.7l-0.8 -0.9l-0.7 -1l-0.5 -1.3l-0.2 -1l0.1 -1.3l0.3 -1.4l0.5 -1l0.7 -1l0.9 -0.8l1 -0.6l1.4 -0.5l1.3 -0.3l1.3 0l1.4 0.3l1.3 0.6l1.1 0.7l1 1l0.6 1l0.6 1.3l0.2 1.3l-0.2 1.4l-0.4 1.3l-0.6 1l-0.9 1l-1.1 0.8l-1 0.5l-1.3 0.4zM116.0 474.1l-1.3 0.1l-1.4 -0.1l-1.3 -0.4l-1.3 -0.6l-1 -0.8l-0.9 -1l-0.6 -1l-0.5 -1.3l-0.2 -1.3l0.1 -1.4l0.4 -1.3l0.5 -1l0.8 -1l1 -0.9l1 -0.6l1.4 -0.5l1.3 -0.2l1.7 0.1l1.3 0.3l1.3 0.6l1.3 0.9l0.9 1l0.6 1l0.5 1.3l0.2 1.3l-0.1 1.4l-0.5 1.3l-0.5 1l-0.8 1l-1.2 1l-1.4 0.7l-1.3 0.4zM116.0 474.4l-1.7 0.1l-1.3 -0.2l-1.3 -0.4l-1.2 -0.6l-1.2 -0.9l-0.9 -1.1l-0.6 -1l-0.5 -1.3l-0.1 -1.3l0.1 -1.4l0.4 -1.3l0.5 -1l0.8 -1.1l1 -0.9l1.3 -0.8l1.4 -0.5l1.3 -0.2l1.7 0.1l1.3 0.3l1.3 0.5l1.3 0.9l1 1l0.9 1.4l0.5 1.3l0.1 1.3l-0.1 1.4l-0.4 1.3l-0.8 1.3l-0.8 1l-1.3 1l-1.4 0.7l-1.3 0.4zM116.0 474.7l-1.7 0.1l-1.3 -0.1l-1.3 -0.4l-1.4 -0.7l-1.2 -0.9l-0.9 -1l-0.8 -1.4l-0.4 -1.3l-0.2 -1.3l0.1 -1.4l0.4 -1.3l0.7 -1.3l1 -1.3l1 -0.8l1.3 -0.8l1.4 -0.4l1.3 -0.2l1.7 0l1.6 0.4l1.4 0.7l1.3 0.9l1.1 1.1l0.8 1.4l0.4 1.3l0.2 1.3l-0.2 1.7l-0.5 1.3l-0.8 1.4l-1 1.1l-1.3 0.9l-1.4 0.6l-1.3 0.4zM116.0 475.0l-1.7 0.1l-1.3 -0.1l-1.7 -0.5l-1.3 -0.7l-1.3 -1.1l-0.9 -1l-0.7 -1.4l-0.5 -1.3l-0.1 -1.3l0.1 -1.7l0.4 -1.3l0.8 -1.4l0.9 -1l1.3 -1.1l1.3 -0.7l1.4 -0.4l1.6 -0.3l1.7 0.2l1.7 0.4l1.3 0.6l1.3 1l1.2 1.3l0.8 1.4l0.4 1.3l0.2 1.3l-0.2 1.7l-0.5 1.3l-0.7 1.4l-1.2 1.2l-1.3 1l-1.3 0.7l-1.7 0.4zM116.0 475.4l-1.7 0.1l-1.6 -0.2l-1.7 -0.5l-1.3 -0.8l-1.3 -1l-1 -1.3l-0.7 -1.4l-0.4 -1.3l-0.2 -1.3l0.2 -1.7l0.5 -1.7l0.8 -1.3l0.8 -1l1.3 -1l1.3 -0.8l1.7 -0.5l1.6 -0.2l1.7 0.1l1.7 0.4l1.6 0.8l1.4 1l1 1.2l0.8 1.3l0.6 1.7l0.2 1.3l-0.2 1.7l-0.6 1.7l-0.8 1.3l-1 1.1l-1.4 1l-1.6 0.8l-1.7 0.5zM116.3 475.7l-1.6 0.2l-1.7 -0.2l-1.7 -0.4l-1.6 -0.8l-1.4 -1.1l-1 -1.1l-0.8 -1.3l-0.6 -1.7l-0.2 -1.6l0.2 -1.7l0.3 -1.3l0.8 -1.5l1 -1.3l1.3 -1.2l1.4 -0.7l1.6 -0.6l1.7 -0.3l2 0.1l1.7 0.4l1.6 0.8l1.4 0.9l1.3 1.4l0.8 1.3l0.7 1.7l0.2 1.6l-0.2 1.7l-0.5 1.7l-0.8 1.3l-1.2 1.3l-1.3 1.1l-1.7 0.8l-1.7 0.5zM116.7 476.0l-1.7 0.3l-2 -0.1l-1.7 -0.5l-1.6 -0.7l-1.4 -1l-1.2 -1.3l-0.9 -1.4l-0.6 -1.6l-0.3 -1.7l0.1 -1.7l0.4 -1.6l0.8 -1.7l1.1 -1.4l1.3 -1.1l1.3 -0.8l1.7 -0.7l1.7 -0.3l2 0.1l2 0.4l1.6 0.7l1.6 1.1l1.4 1.3l0.9 1.4l0.7 1.6l0.3 1.7l-0.1 1.7l-0.5 1.6l-0.9 1.7l-1.1 1.3l-1.6 1.3l-1.7 0.9l-1.6 0.5zM115.3 476.7l-2 -0.1l-1.6 -0.3l-1.7 -0.7l-1.7 -1l-1.3 -1.3l-1.1 -1.6l-0.7 -1.7l-0.3 -1.7l0 -1.6l0.3 -1.7l0.7 -1.7l1.1 -1.6l1.3 -1.3l1.7 -1l1.7 -0.7l2 -0.4l2 0l2 0.4l1.6 0.7l1.7 1.1l1.3 1.2l1.3 1.6l0.7 1.7l0.4 1.7l0 1.6l-0.4 1.7l-0.8 1.7l-1.3 1.6l-1.5 1.4l-1.7 1l-2 0.7l-1.7 0.3zM116.3 477.0l-2 0.2l-2 -0.2l-2 -0.7l-1.6 -0.9l-1.7 -1.4l-1.1 -1.3l-0.9 -1.7l-0.5 -1.7l-0.2 -2l0.2 -1.6l0.7 -2l0.8 -1.5l1.3 -1.5l1.4 -1.1l1.6 -0.9l2 -0.7l2 -0.2l2 0.1l2 0.6l2 0.9l1.7 1.3l1.6 1.6l0.9 1.7l0.7 2l0.1 2l-0.3 1.7l-0.7 1.6l-1.1 1.7l-1.5 1.6l-1.7 1.1l-1.7 0.8l-2 0.5zM115.3 477.7l-2 0l-2 -0.4l-2 -0.9l-1.7 -1.1l-1.4 -1.3l-1.1 -1.7l-0.9 -2l-0.4 -2l0 -2l0.5 -2l0.9 -2l1.1 -1.4l1.7 -1.5l1.7 -1l2 -0.8l2 -0.3l2 0l2.3 0.5l2 0.8l1.7 1.1l1.8 1.6l1.3 1.7l0.8 1.7l0.4 2l0 2l-0.5 1.6l-1.1 2l-1.3 1.7l-1.8 1.5l-1.6 1l-2 0.8l-2.4 0.4zM115.3 478.3l-2.3 0l-2 -0.5l-2.3 -1l-1.7 -1.1l-1.6 -1.7l-1.1 -1.7l-0.8 -2l-0.4 -2l0.1 -2.3l0.5 -2l0.9 -2l1.3 -1.7l1.8 -1.5l1.6 -1l2.4 -0.9l2 -0.3l2.3 0.1l2.3 0.5l2.4 1l1.6 1.1l1.9 1.7l1.3 1.7l1.1 2l0.5 2l0 1l-0.1 1l-0.7 2l-1.1 2l-1.7 2l-1.8 1.4l-2 1.2l-2 0.7l-2.4 0.3zM116.3 479.1l-2.3 0.1l-2.3 -0.4l-2.4 -0.7l-2 -1.1l-1.9 -1.7l-1.3 -1.6l-1.1 -2l-0.6 -2.4l-0.2 -2l0.3 -2.3l0.7 -2l0.7 -1.3l0.7 -1l1.5 -1.7l1.9 -1.4l2.3 -1.2l2.4 -0.6l2.6 -0.1l2.4 0.4l2.3 0.8l2.3 1.3l2.3 1.8l2.1 2.3l1.5 2.4l0.4 1l0.2 1l0 1l-0.1 0.6l-0.8 2l-1.5 2.4l-1.7 2l-1.7 1.5l-2 1.3l-2.3 1l-2.4 0.6zM116.3 479.7l-2.3 0.1l-2.3 -0.3l-2 -0.6l-2 -1l-1.8 -1.2l-1.6 -1.7l-1.3 -2l-0.9 -2l-0.5 -2.3l0 -2l0.3 -2l0.9 -2.4l1 -1.6l1.5 -1.9l1.7 -1.4l2 -1.1l2 -0.8l2.3 -0.5l2.7 0.1l2.3 0.5l2.4 0.9l2.6 1.6l2.4 1.9l4 3.8l1.6 1.1l0.7 0.3l1 0.1l3.7 0l2.6 0.3l1.8 0.4l0.8 0.3l0.4 0.4l0.1 0.3l-0.1 0.3l-0.4 0.4l-1.9 0.6l-2.7 0.3l-4.3 0.1l-1 0.2l-0.7 0.3l-1.6 1.3l-3.9 4.2l-1.5 1.3l-1.3 1l-1.7 1.1l-1.6 0.7l-1.7 0.6l-1.7 0.3zM116.7 480.0l-2.4 0.2l-2.6 -0.3l-2.4 -0.7l-2 -1l-2 -1.5l-1.5 -1.7l-1.3 -2l-0.9 -2.3l-0.4 -2.4l0 -2l0.4 -2l0.9 -2.3l1.3 -2l1.5 -1.7l2 -1.6l2.4 -1.3l2 -0.6l2 -0.3l2 0l2 0.4l2.6 1l2.4 1.2l2 1.4l4 3.2l1.6 1l1.7 0.4l7.3 0.2l3 0.3l2.5 0.4l2.2 0.6l1.3 0.5l1.2 0.9l0.4 0.7l0 0.6l-0.1 0.4l-0.6 0.6l-1.5 0.9l-2 0.6l-2.4 0.5l-2.6 0.3l-3.4 0.2l-4.6 0.1l-1 0.2l-1 0.3l-1.7 1l-4 3.6l-2.3 1.7l-1.4 0.8l-1.6 0.7l-1.7 0.6l-1.3 0.2zM115.7 480.7l-2.7 -0.1l-2.3 -0.4l-2.7 -1l-2 -1.3l-1.8 -1.6l-1.6 -2l-1.2 -2.3l-0.6 -2.3l-0.2 -2.4l0.2 -2.3l0.7 -2.3l1.1 -2l1.5 -2l1.9 -1.8l2.3 -1.6l2.4 -1.2l2 -0.5l1.6 -0.1l2 0.3l2.4 0.7l1.6 0.7l2 1l5.7 3.7l1.3 0.7l1 0.3l1.7 0.2l5.3 0.1l4.4 0.3l4.3 0.5l3.3 0.8l2 0.6l1.9 0.9l1.1 1l0.6 1l0.1 0.7l-0.1 0.7l-0.6 1l-1.3 1.1l-2 0.9l-3.3 0.9l-4.4 0.7l-5 0.4l-6 0.2l-1.6 0.2l-1 0.4l-1 0.5l-4.7 3.6l-2.7 1.5l-2.6 1.1l-1.7 0.3l-1.3 0.2zM116.7 481.3l-2.7 0.2l-2.7 -0.3l-2.3 -0.7l-1.3 -0.6l-1.4 -0.8l-2 -1.5l-1.7 -1.9l-1.5 -2.4l-0.9 -2.3l-0.4 -2l0 -2l0.2 -2l0.5 -2l0.9 -2l1.4 -2l1.2 -1.4l2.7 -2.6l0.8 -1l0.3 -0.7l0 -0.3l-0.3 -0.7l-0.8 -1l-0.1 -0.6l0.1 -0.4l0.3 -0.3l1 -0.5l1.7 -0.4l1.6 0l1.7 0.2l1.3 0.4l1.1 0.6l1.7 1.7l1.5 1l8.1 4.7l2.3 1l2 0.4l7.3 0.1l6 0.5l5 0.8l3.7 0.9l2.3 0.9l1.9 1l1.5 1.4l0.7 1.3l0.2 1l-0.2 1l-0.5 1l-0.5 0.7l-1.1 0.9l-1 0.6l-2.6 1.2l-4 1.1l-4.7 0.7l-6.3 0.6l-7 0.2l-1.7 0.2l-2 0.8l-4.3 2.8l-2 1.1l-2.7 1l-2.3 0.4zM117.7 482.7l-2.7 0.2l-2.7 -0.1l-2.6 -0.6l-2.7 -1l-2.3 -1.4l-2.1 -1.8l-1.7 -2l-1.3 -2.3l-0.8 -2l-0.6 -2.7l0 -2.3l0.2 -2l0.5 -1.7l0.6 -1.7l0.9 -1.6l2 -3l0.3 -0.7l0.2 -0.7l-0.2 -0.6l-0.3 -0.4l-2.4 -1.6l-0.8 -0.7l-0.4 -0.7l-0.2 -1l0.2 -0.6l0.5 -0.7l0.8 -0.7l1.2 -0.6l1.4 -0.6l2 -0.5l2 -0.3l2.3 -0.2l2.3 -0.1l2.4 0.2l2 0.3l2 0.4l2.6 1l1.7 1.1l0.8 1l0.8 2.3l0.6 1l1.2 1l1.9 1l1.4 0.3l1.3 0.2l8 0.2l6.3 0.5l5.4 0.7l5 1.1l4 1.3l2 0.9l1.3 0.8l1.4 1l1 1l0.7 1l0.5 1l0.2 1.4l-0.1 1.3l-0.4 1.3l-0.9 1.4l-1.1 1l-1.6 1.2l-1.7 0.9l-2.3 1l-2.4 0.7l-2.6 0.7l-6.4 1l-6.6 0.7l-8.7 0.2l-1.8 0.2l-2.2 0.7l-3.7 1.8l-2.3 1l-1.3 0.4l-2 0.5z" fill="none" stroke="#000" stroke-width="0.95"/>
<line x1="125.50" y1="380.50" x2="125.50" y2="496.50" stroke="#333" stroke-width="1.0"/>
<line x1="86.50" y1="452.50" x2="201.50" y2="452.50" stroke="#333" stroke-width="1.0"/>
<rect x="86.50" y="380.50" width="115.00" height="116.00" fill="none" stroke="#333" stroke-width="1.0"/>
<line x1="90.90" y1="496.50" x2="90.90" y2="500.10" stroke="#333" stroke-width="0.8"/><line x1="130.10" y1="496.50" x2="130.10" y2="500.10" stroke="#333" stroke-width="0.8"/><line x1="162.20" y1="496.50" x2="162.20" y2="500.10" stroke="#333" stroke-width="0.8"/><line x1="192.80" y1="496.50" x2="192.80" y2="500.10" stroke="#333" stroke-width="0.8"/><line x1="139.76" y1="496.50" x2="139.76" y2="498.50" stroke="#444" stroke-width="0.7"/><line x1="145.42" y1="496.50" x2="145.42" y2="498.50" stroke="#444" stroke-width="0.7"/><line x1="149.43" y1="496.50" x2="149.43" y2="498.50" stroke="#444" stroke-width="0.7"/><line x1="152.54" y1="496.50" x2="152.54" y2="498.50" stroke="#444" stroke-width="0.7"/><line x1="155.08" y1="496.50" x2="155.08" y2="498.50" stroke="#444" stroke-width="0.7"/><line x1="157.23" y1="496.50" x2="157.23" y2="498.50" stroke="#444" stroke-width="0.7"/><line x1="159.09" y1="496.50" x2="159.09" y2="498.50" stroke="#444" stroke-width="0.7"/><line x1="160.73" y1="496.50" x2="160.73" y2="498.50" stroke="#444" stroke-width="0.7"/><line x1="171.41" y1="496.50" x2="171.41" y2="498.50" stroke="#444" stroke-width="0.7"/><line x1="176.80" y1="496.50" x2="176.80" y2="498.50" stroke="#444" stroke-width="0.7"/><line x1="180.62" y1="496.50" x2="180.62" y2="498.50" stroke="#444" stroke-width="0.7"/><line x1="183.59" y1="496.50" x2="183.59" y2="498.50" stroke="#444" stroke-width="0.7"/><line x1="186.01" y1="496.50" x2="186.01" y2="498.50" stroke="#444" stroke-width="0.7"/><line x1="188.06" y1="496.50" x2="188.06" y2="498.50" stroke="#444" stroke-width="0.7"/><line x1="189.83" y1="496.50" x2="189.83" y2="498.50" stroke="#444" stroke-width="0.7"/><line x1="191.40" y1="496.50" x2="191.40" y2="498.50" stroke="#444" stroke-width="0.7"/><line x1="98.74" y1="496.50" x2="98.74" y2="498.50" stroke="#444" stroke-width="0.7"/><line x1="106.58" y1="496.50" x2="106.58" y2="498.50" stroke="#444" stroke-width="0.7"/><line x1="112.46" y1="496.50" x2="112.46" y2="498.50" stroke="#444" stroke-width="0.7"/><line x1="118.34" y1="496.50" x2="118.34" y2="498.50" stroke="#444" stroke-width="0.7"/><line x1="122.26" y1="496.50" x2="122.26" y2="498.50" stroke="#444" stroke-width="0.7"/><line x1="126.18" y1="496.50" x2="126.18" y2="498.50" stroke="#444" stroke-width="0.7"/><line x1="82.90" y1="488.50" x2="86.50" y2="488.50" stroke="#333" stroke-width="0.8"/><line x1="82.90" y1="451.50" x2="86.50" y2="451.50" stroke="#333" stroke-width="0.8"/><line x1="82.90" y1="419.50" x2="86.50" y2="419.50" stroke="#333" stroke-width="0.8"/><line x1="82.90" y1="391.50" x2="86.50" y2="391.50" stroke="#333" stroke-width="0.8"/><line x1="84.50" y1="441.87" x2="86.50" y2="441.87" stroke="#444" stroke-width="0.7"/><line x1="84.50" y1="436.23" x2="86.50" y2="436.23" stroke="#444" stroke-width="0.7"/><line x1="84.50" y1="432.23" x2="86.50" y2="432.23" stroke="#444" stroke-width="0.7"/><line x1="84.50" y1="429.13" x2="86.50" y2="429.13" stroke="#444" stroke-width="0.7"/><line x1="84.50" y1="426.60" x2="86.50" y2="426.60" stroke="#444" stroke-width="0.7"/><line x1="84.50" y1="424.46" x2="86.50" y2="424.46" stroke="#444" stroke-width="0.7"/><line x1="84.50" y1="422.60" x2="86.50" y2="422.60" stroke="#444" stroke-width="0.7"/><line x1="84.50" y1="420.96" x2="86.50" y2="420.96" stroke="#444" stroke-width="0.7"/><line x1="84.50" y1="411.07" x2="86.50" y2="411.07" stroke="#444" stroke-width="0.7"/><line x1="84.50" y1="406.14" x2="86.50" y2="406.14" stroke="#444" stroke-width="0.7"/><line x1="84.50" y1="402.64" x2="86.50" y2="402.64" stroke="#444" stroke-width="0.7"/><line x1="84.50" y1="399.93" x2="86.50" y2="399.93" stroke="#444" stroke-width="0.7"/><line x1="84.50" y1="397.71" x2="86.50" y2="397.71" stroke="#444" stroke-width="0.7"/><line x1="84.50" y1="395.84" x2="86.50" y2="395.84" stroke="#444" stroke-width="0.7"/><line x1="84.50" y1="394.21" x2="86.50" y2="394.21" stroke="#444" stroke-width="0.7"/><line x1="84.50" y1="392.78" x2="86.50" y2="392.78" stroke="#444" stroke-width="0.7"/><line x1="84.50" y1="481.10" x2="86.50" y2="481.10" stroke="#444" stroke-width="0.7"/><line x1="84.50" y1="473.70" x2="86.50" y2="473.70" stroke="#444" stroke-width="0.7"/><line x1="84.50" y1="468.15" x2="86.50" y2="468.15" stroke="#444" stroke-width="0.7"/><line x1="84.50" y1="462.60" x2="86.50" y2="462.60" stroke="#444" stroke-width="0.7"/><line x1="84.50" y1="458.90" x2="86.50" y2="458.90" stroke="#444" stroke-width="0.7"/><line x1="84.50" y1="455.20" x2="86.50" y2="455.20" stroke="#444" stroke-width="0.7"/><rect x="109.00" y="496.80" width="3.50" height="2.60" fill="#111"/><rect x="84.10" y="473.50" width="2.40" height="3.20" fill="#111"/>
<text x="89.10" y="388.80" font-size="8.5" text-anchor="start" fill="#222">2.74</text>
<text x="199.10" y="388.80" font-size="8.5" text-anchor="end" fill="#222">1.98</text>
<text x="89.10" y="491.60" font-size="8.5" text-anchor="start" fill="#222">81.8</text>
<text x="199.10" y="491.60" font-size="8.5" text-anchor="end" fill="#222">13.4</text>
<path d="M224.9,416.4h0.8v0.8h-0.8zM220.3,446.8h0.8v0.8h-0.8zM227.2,429.3h0.8v0.8h-0.8zM222.1,425.5h0.8v0.8h-0.8zM226.4,438.2h0.8v0.8h-0.8zM233.8,454.9h0.8v0.8h-0.8zM229.7,441.1h0.8v0.8h-0.8zM230.5,427.2h0.8v0.8h-0.8zM229.6,429.8h0.8v0.8h-0.8zM227.9,432.9h0.8v0.8h-0.8zM226.7,418.1h0.8v0.8h-0.8zM225.7,412.8h0.8v0.8h-0.8zM232.1,426.1h0.8v0.8h-0.8zM221.0,414.1h0.8v0.8h-0.8zM235.5,424.8h0.8v0.8h-0.8zM227.7,426.7h0.8v0.8h-0.8zM223.0,453.6h0.8v0.8h-0.8zM224.6,415.3h0.8v0.8h-0.8zM223.4,424.0h0.8v0.8h-0.8zM228.5,423.5h0.8v0.8h-0.8zM223.2,430.7h0.8v0.8h-0.8zM234.4,438.1h0.8v0.8h-0.8zM222.8,419.6h0.8v0.8h-0.8zM213.9,415.6h0.8v0.8h-0.8zM223.1,405.8h0.8v0.8h-0.8zM215.4,414.4h0.8v0.8h-0.8zM227.3,431.9h0.8v0.8h-0.8zM233.9,426.0h0.8v0.8h-0.8zM231.4,413.3h0.8v0.8h-0.8zM219.5,421.0h0.8v0.8h-0.8zM268.1,402.8h0.8v0.8h-0.8zM277.6,398.9h0.8v0.8h-0.8zM255.6,444.4h0.8v0.8h-0.8zM262.5,407.8h0.8v0.8h-0.8zM231.1,439.0h0.8v0.8h-0.8zM244.5,429.3h0.8v0.8h-0.8zM299.9,446.2h0.8v0.8h-0.8zM223.7,435.5h0.8v0.8h-0.8zM260.7,419.0h0.8v0.8h-0.8zM271.9,417.5h0.8v0.8h-0.8zM260.0,421.8h0.8v0.8h-0.8zM251.3,423.1h0.8v0.8h-0.8zM266.3,412.5h0.8v0.8h-0.8zM267.4,420.0h0.8v0.8h-0.8zM265.9,444.6h0.8v0.8h-0.8zM229.9,395.0h0.8v0.8h-0.8zM264.6,424.4h0.8v0.8h-0.8zM250.4,406.9h0.8v0.8h-0.8zM256.5,423.3h0.8v0.8h-0.8zM272.0,433.1h0.8v0.8h-0.8zM280.3,419.6h0.8v0.8h-0.8zM285.4,432.1h0.8v0.8h-0.8zM257.6,396.7h0.8v0.8h-0.8zM286.0,437.1h0.8v0.8h-0.8zM291.0,411.5h0.8v0.8h-0.8zM290.2,429.8h0.8v0.8h-0.8zM295.3,423.2h0.8v0.8h-0.8zM264.6,381.7h0.8v0.8h-0.8zM264.0,409.2h0.8v0.8h-0.8zM284.0,423.8h0.8v0.8h-0.8zM240.2,443.8h0.8v0.8h-0.8zM271.7,424.8h0.8v0.8h-0.8zM256.9,424.4h0.8v0.8h-0.8zM260.1,399.3h0.8v0.8h-0.8zM232.7,442.0h0.8v0.8h-0.8zM249.7,447.6h0.8v0.8h-0.8zM267.1,420.9h0.8v0.8h-0.8zM285.3,417.2h0.8v0.8h-0.8zM287.3,396.2h0.8v0.8h-0.8zM265.9,433.7h0.8v0.8h-0.8zM263.7,461.0h0.8v0.8h-0.8zM250.9,431.3h0.8v0.8h-0.8zM275.5,439.5h0.8v0.8h-0.8zM262.5,428.6h0.8v0.8h-0.8zM279.6,405.7h0.8v0.8h-0.8zM302.5,440.6h0.8v0.8h-0.8zM266.9,402.0h0.8v0.8h-0.8zM237.6,417.3h0.8v0.8h-0.8zM250.3,424.7h0.8v0.8h-0.8zM238.3,433.7h0.8v0.8h-0.8zM243.6,426.7h0.8v0.8h-0.8zM293.6,426.3h0.8v0.8h-0.8zM272.0,409.1h0.8v0.8h-0.8zM237.1,401.2h0.8v0.8h-0.8zM280.6,421.4h0.8v0.8h-0.8zM292.7,409.8h0.8v0.8h-0.8zM260.3,400.9h0.8v0.8h-0.8zM254.0,401.5h0.8v0.8h-0.8zM260.8,413.1h0.8v0.8h-0.8zM273.2,392.7h0.8v0.8h-0.8zM280.3,400.3h0.8v0.8h-0.8zM291.1,396.0h0.8v0.8h-0.8zM291.7,423.2h0.8v0.8h-0.8zM291.2,426.6h0.8v0.8h-0.8zM294.7,450.6h0.8v0.8h-0.8zM280.7,398.0h0.8v0.8h-0.8zM236.9,410.3h0.8v0.8h-0.8zM264.9,434.2h0.8v0.8h-0.8zM273.8,417.2h0.8v0.8h-0.8zM259.8,415.6h0.8v0.8h-0.8zM285.7,446.1h0.8v0.8h-0.8zM260.3,415.4h0.8v0.8h-0.8zM249.0,403.2h0.8v0.8h-0.8zM296.4,400.7h0.8v0.8h-0.8zM280.8,425.5h0.8v0.8h-0.8zM271.9,425.1h0.8v0.8h-0.8zM286.0,399.9h0.8v0.8h-0.8zM288.8,405.7h0.8v0.8h-0.8zM274.3,428.5h0.8v0.8h-0.8zM218.3,429.2h0.8v0.8h-0.8zM254.0,410.9h0.8v0.8h-0.8zM258.4,429.8h0.8v0.8h-0.8zM247.8,429.1h0.8v0.8h-0.8zM271.5,393.8h0.8v0.8h-0.8zM291.3,415.8h0.8v0.8h-0.8zM257.8,426.7h0.8v0.8h-0.8zM244.8,411.9h0.8v0.8h-0.8zM308.1,388.4h0.8v0.8h-0.8zM258.5,416.3h0.8v0.8h-0.8zM242.8,431.8h0.8v0.8h-0.8zM272.3,444.2h0.8v0.8h-0.8zM276.0,387.6h0.8v0.8h-0.8zM253.4,459.7h0.8v0.8h-0.8zM283.3,403.6h0.8v0.8h-0.8zM257.8,434.9h0.8v0.8h-0.8zM249.0,439.0h0.8v0.8h-0.8zM271.1,435.2h0.8v0.8h-0.8zM282.9,422.7h0.8v0.8h-0.8zM254.8,403.1h0.8v0.8h-0.8zM274.1,429.9h0.8v0.8h-0.8zM265.6,409.8h0.8v0.8h-0.8zM253.3,462.9h0.8v0.8h-0.8zM295.2,431.1h0.8v0.8h-0.8zM266.5,447.8h0.8v0.8h-0.8zM265.0,406.8h0.8v0.8h-0.8zM281.9,442.5h0.8v0.8h-0.8zM285.4,444.3h0.8v0.8h-0.8zM292.8,443.8h0.8v0.8h-0.8zM274.1,420.2h0.8v0.8h-0.8zM255.5,402.5h0.8v0.8h-0.8zM256.7,417.8h0.8v0.8h-0.8zM277.7,387.5h0.8v0.8h-0.8zM279.1,395.0h0.8v0.8h-0.8zM295.5,421.9h0.8v0.8h-0.8zM275.9,405.6h0.8v0.8h-0.8zM288.7,418.0h0.8v0.8h-0.8zM297.8,418.9h0.8v0.8h-0.8zM270.8,449.5h0.8v0.8h-0.8zM237.8,440.0h0.8v0.8h-0.8zM302.3,474.2h0.8v0.8h-0.8zM308.5,479.7h0.8v0.8h-0.8zM298.6,468.4h0.8v0.8h-0.8zM300.8,461.2h0.8v0.8h-0.8zM307.1,469.7h0.8v0.8h-0.8zM296.3,463.5h0.8v0.8h-0.8zM301.1,470.3h0.8v0.8h-0.8zM295.9,467.2h0.8v0.8h-0.8zM303.1,467.2h0.8v0.8h-0.8zM310.7,469.1h0.8v0.8h-0.8zM298.7,462.0h0.8v0.8h-0.8zM303.6,463.1h0.8v0.8h-0.8zM298.0,455.2h0.8v0.8h-0.8zM296.8,462.8h0.8v0.8h-0.8zM296.3,457.0h0.8v0.8h-0.8z" fill="#7070f0"/>
<path d="M239.3 468.1l-1 0.2l-0.6 0l-0.7 -0.1l-0.7 -0.3l-0.3 -0.2l-0.5 -0.7l0 -0.7l0.2 -0.6l0.8 -0.7l1.2 -0.3l1.3 0.1l1 0.5l0.6 0.7l0.1 0.7l-0.4 0.7l-1 0.7zM238.7 468.7l-1 0.1l-1 -0.2l-0.7 -0.3l-0.8 -0.6l-0.3 -0.7l-0.1 -0.7l0.2 -0.6l0.5 -0.7l0.5 -0.3l0.9 -0.4l1.4 -0.1l1.6 0.5l0.9 0.6l0.3 0.4l0.3 0.6l-0.1 0.5l-0.2 0.5l-0.4 0.5l-0.7 0.5l-1.3 0.4zM239.7 469.0l-1.4 0.3l-1.3 0l-1 -0.3l-1 -0.6l-0.7 -0.7l-0.3 -1l0.2 -1l0.4 -0.7l0.7 -0.7l0.7 -0.3l1.7 -0.3l1 0l1 0.3l0.8 0.3l0.8 0.6l0.5 0.4l0.4 0.7l0 1l-0.4 0.7l-0.5 0.4l-0.8 0.6l-0.8 0.3zM239.0 469.7l-1.3 0.1l-1.4 -0.1l-1.3 -0.5l-1 -0.9l-0.6 -1l-0.1 -1l0.3 -1l0.7 -1l0.7 -0.5l1 -0.4l1 -0.2l1.3 0l1 0.1l1.4 0.5l1 0.5l0.8 0.7l0.5 0.7l0.2 0.6l-0.1 0.7l-0.3 0.7l-0.7 0.6l-1 0.7l-1.1 0.5l-1 0.2zM238.0 470.4l-1.7 -0.2l-1.6 -0.6l-1.2 -0.9l-0.5 -0.7l-0.3 -0.7l-0.1 -0.6l0.1 -0.7l0.1 -0.7l0.4 -0.6l1 -1l1.5 -0.8l1 -0.2l1.3 -0.1l1.3 0.2l1.4 0.4l1.1 0.5l1 0.6l0.8 0.7l0.6 1l0.1 0.7l-0.2 0.6l-0.5 0.7l-0.8 0.7l-1 0.6l-1.1 0.5l-1.4 0.4l-1.3 0.2zM239.3 470.7l-2 0.1l-2 -0.3l-1.6 -0.8l-1 -1l-0.4 -0.7l-0.2 -0.7l-0.1 -1.3l0.5 -1.3l0.5 -0.7l0.7 -0.6l1.3 -0.7l1.3 -0.4l1.4 -0.1l1.6 0.1l1.4 0.4l1.7 0.6l1.6 1l1.1 1l0.3 0.7l0.1 0.7l-0.2 0.6l-0.9 1l-0.9 0.7l-1.5 0.8l-1.3 0.6l-1.4 0.3zM240.0 471.0l-2.3 0.3l-2 -0.2l-1.7 -0.7l-1.4 -1.1l-0.9 -1.3l-0.2 -0.7l-0.1 -1l0.2 -1l0.3 -0.6l0.4 -0.7l0.6 -0.7l1.4 -0.9l1.4 -0.5l1.6 -0.2l2 0.2l2 0.5l2.3 0.9l2.2 1.4l1.2 1l0.3 0.6l0 0.4l-0.3 0.6l-0.8 0.7l-1.4 1l-1.8 1l-1.7 0.6l-1.3 0.4zM239.7 471.4l-2.4 0.1l-2 -0.3l-1.6 -0.6l-0.8 -0.6l-0.7 -0.7l-0.5 -0.7l-0.4 -0.9l-0.2 -0.7l0 -1l0.2 -0.9l0.4 -0.8l0.5 -0.6l0.7 -0.7l1.1 -0.7l1.7 -0.6l1.6 -0.2l2 0.1l1.8 0.4l1.8 0.7l5.4 2.7l1.7 0.8l1 0.1l1.7 -0.3l1.6 -0.1l1 0.1l0.7 0.3l0 0.4l-0.7 0.3l-0.6 0.1l-1.7 0l-2 -0.4l-1 0.1l-1.7 0.8l-5.4 2.7l-1.6 0.6l-1.6 0.5zM238.3 471.7l-2.3 -0.1l-2 -0.7l-1 -0.6l-0.8 -0.6l-0.5 -0.7l-0.5 -1l-0.2 -0.7l-0.1 -1l0.2 -1l0.2 -0.7l0.6 -0.9l0.7 -0.7l0.7 -0.6l1 -0.5l1.4 -0.4l1.3 -0.2l1.3 0l1.4 0.2l2.9 0.8l4.7 2.2l1.4 0.4l1.6 0.3l3.7 -0.2l2 0.2l1.8 0.5l0.6 0.3l0.2 0.3l0 0.4l-0.3 0.3l-0.6 0.4l-1.4 0.4l-2 0.1l-4 -0.1l-1.6 0.3l-1.4 0.4l-5.3 2.4l-2 0.5l-1.7 0.3zM239.7 471.7l-2.4 0.2l-1.3 -0.2l-1 -0.2l-1.9 -0.8l-0.8 -0.6l-0.6 -0.8l-0.5 -0.6l-0.4 -1l-0.1 -0.7l0 -1l0.2 -1l0.4 -0.9l0.6 -0.8l0.8 -0.6l1.3 -0.8l1.6 -0.6l1.7 -0.2l1.7 0.1l1.3 0.2l1.7 0.5l4.7 1.9l1.6 0.5l1.7 0.2l4.3 0l2.7 0.2l1.5 0.3l1 0.3l0.6 0.4l0.4 0.3l0.2 0.3l0 0.4l-0.2 0.3l-0.4 0.3l-1.8 0.7l-1.3 0.3l-1.7 0.2l-5 -0.1l-1.6 0.2l-2 0.6l-4.4 1.8l-2.6 0.7zM239.0 472.0l-2.3 0l-1.4 -0.2l-1 -0.3l-1 -0.5l-1 -0.6l-0.7 -0.7l-0.6 -0.9l-0.3 -0.8l-0.3 -1l0 -1l0.3 -1l0.4 -1l0.5 -0.7l0.7 -0.7l1 -0.6l1.4 -0.6l1.3 -0.4l1.7 -0.1l1.6 0.1l2.7 0.7l4.3 1.6l2 0.5l2 0.2l5.4 0l3.3 0.5l1.3 0.3l1.2 0.5l0.5 0.4l0.5 0.6l0 0.4l-0.1 0.3l-0.9 0.7l-1.2 0.5l-1.3 0.3l-3.3 0.5l-5.4 0l-2 0.2l-1.6 0.4l-5 1.8l-2.7 0.6zM240.3 472.0l-2.6 0.3l-2.4 -0.2l-2 -0.8l-1 -0.6l-0.7 -0.7l-0.6 -0.7l-0.5 -1l-0.3 -1l-0.1 -1l0.1 -1l0.4 -1l0.7 -1l0.6 -0.6l1.4 -1l1.7 -0.7l2 -0.3l2 0l2.7 0.6l4.6 1.6l2 0.4l2 0.2l5.4 -0.1l2.3 0.2l2 0.4l1.7 0.4l1.4 0.6l1 0.7l0.4 0.6l-0.1 0.7l-0.7 0.7l-1.4 0.6l-2.3 0.7l-2 0.4l-2.3 0.2l-5.4 -0.1l-2 0.2l-2 0.4l-4 1.4l-2 0.5zM240.0 472.3l-2.7 0.3l-1.3 -0.2l-1.3 -0.3l-1 -0.3l-1 -0.6l-1 -0.7l-0.8 -0.8l-0.6 -1l-0.3 -1l-0.2 -1l0.1 -1l0.3 -1l0.5 -1l0.5 -0.7l0.8 -0.8l1.5 -0.9l1.8 -0.6l2 -0.3l2 0.2l2.4 0.4l4.3 1.4l2 0.5l2 0.1l6 0l2.7 0.3l2.3 0.4l2.3 0.6l1.4 0.6l1.1 0.8l0.3 0.6l-0.1 0.7l-0.2 0.3l-0.9 0.7l-1.5 0.7l-2.4 0.6l-2.3 0.4l-2.7 0.3l-6 0l-2 0.1l-1.7 0.4l-4.3 1.4l-2 0.4zM239.3 472.7l-2.6 0.1l-1.4 -0.2l-1.3 -0.4l-1.1 -0.5l-1.1 -0.7l-0.8 -0.8l-0.7 -0.9l-0.5 -1l-0.2 -1l-0.1 -1.3l0.2 -1l0.4 -1l0.7 -1l0.9 -0.9l1 -0.7l1.3 -0.6l1.3 -0.4l1.4 -0.2l1.6 0l2.7 0.4l5 1.4l2 0.4l2 0.2l5.7 -0.1l3.6 0.3l3.4 0.6l2.8 0.9l1.7 1l0.3 0.4l0.3 0.6l-0.1 0.7l-0.2 0.3l-1.2 0.9l-1.7 0.8l-2.4 0.7l-2.9 0.5l-2.6 0.2l-2.4 0.1l-4.3 -0.1l-2 0.2l-2 0.4l-4.7 1.3l-2 0.4zM239.0 473.0l-1.7 0.1l-1.3 -0.1l-1.3 -0.3l-1.4 -0.5l-1 -0.5l-1 -0.7l-0.9 -1l-0.6 -1l-0.4 -1l-0.2 -1.3l0.1 -1.4l0.3 -1l0.5 -1l0.9 -1l1 -0.8l1 -0.6l1 -0.4l1.3 -0.4l1.4 -0.2l1.6 0l2.7 0.4l5 1.3l2 0.4l2 0.1l6 -0.1l4.7 0.5l3.3 0.6l2.8 0.9l1.8 1l0.7 0.7l0.2 0.6l-0.1 0.7l-0.1 0.3l-1.2 1l-2.1 1l-2.5 0.7l-3.2 0.6l-3.3 0.3l-2.7 0.1l-4.6 -0.1l-1.7 0.1l-2 0.4l-4.7 1.2l-2.3 0.4zM238.3 473.4l-1.6 -0.1l-1.7 -0.2l-1.3 -0.4l-1.4 -0.6l-1 -0.8l-1 -1l-0.7 -1l-0.6 -1.3l-0.2 -1l0.1 -1.3l0.3 -1.4l0.6 -1l0.8 -1l1.1 -0.9l1.3 -0.8l1.3 -0.5l2 -0.4l2.4 0l2.3 0.3l4.7 1.2l2 0.3l2 0.2l7 -0.1l3 0.3l3 0.4l3.1 0.7l2.8 1l1.6 1l0.6 0.7l0.3 0.6l-0.1 0.7l-0.4 0.7l-1.4 1l-2.2 0.9l-2.7 0.8l-3.3 0.5l-3.7 0.4l-3 0.1l-4.6 -0.1l-2 0.2l-2 0.3l-4.7 1.2l-2.7 0.4zM238.3 473.7l-1.6 0l-1.7 -0.3l-1.3 -0.3l-1.4 -0.6l-1.2 -0.8l-1.1 -1l-0.7 -1l-0.6 -1.4l-0.3 -1.3l0.1 -1.3l0.3 -1.4l0.5 -1l1 -1.3l1 -0.8l1.4 -0.8l1.3 -0.6l2.3 -0.4l2.4 -0.1l2.3 0.3l4.7 1.1l2 0.3l2 0.1l7 0l3.3 0.3l3.3 0.4l3.9 0.9l2.8 1l1.2 0.6l0.9 0.7l0.6 0.7l0.2 0.6l-0.1 0.7l-0.4 0.7l-0.7 0.6l-0.7 0.5l-1 0.5l-1.7 0.7l-3.3 0.9l-3.7 0.6l-4 0.4l-3 0l-4.6 0l-2 0.1l-2 0.3l-5 1.1l-2.4 0.3zM238.3 474.0l-1.6 0l-1.7 -0.2l-1.7 -0.5l-1.3 -0.6l-1.3 -0.9l-1 -1l-0.8 -1.1l-0.6 -1.4l-0.3 -1.3l0.1 -1.3l0.3 -1.4l0.7 -1.3l0.8 -1l1.1 -1l1.3 -0.8l1.7 -0.7l2.3 -0.5l2.4 0l2 0.3l5 1l2 0.3l2 0.1l7 -0.1l3.3 0.3l3.7 0.4l4 0.9l3.4 1.1l1.4 0.7l1 0.7l0.6 0.6l0.4 0.7l0.1 0.7l-0.2 0.6l-0.6 0.7l-0.8 0.7l-1.1 0.6l-1.6 0.7l-2 0.7l-2 0.5l-4 0.7l-4.3 0.4l-3.3 0.1l-5.4 -0.1l-2 0.1l-2 0.3l-4.6 1l-2.4 0.3zM238.7 474.4l-2 0l-1.7 -0.3l-1.7 -0.4l-1.3 -0.6l-1.3 -0.8l-1.1 -1l-1 -1.3l-0.7 -1.3l-0.3 -1.4l0 -1.6l0.3 -1.4l0.7 -1.3l1 -1.3l1.1 -1l1.3 -0.8l1.3 -0.6l2.4 -0.6l2.6 -0.1l2.4 0.3l4.6 0.9l2 0.3l2 0.1l7.7 -0.1l3.7 0.3l3.6 0.4l4.4 0.9l3.9 1.3l1.4 0.7l1 0.6l0.8 0.7l0.5 1l0 1l-0.3 0.7l-0.6 0.6l-0.9 0.7l-1.2 0.7l-1.6 0.7l-2 0.6l-2.4 0.6l-4 0.7l-5 0.5l-3.3 0.1l-5.3 -0.1l-2.4 0.1l-2 0.3l-4.6 0.9l-2 0.3zM239.7 474.7l-2 0.1l-1.7 -0.1l-1.7 -0.3l-1.6 -0.5l-1.7 -0.9l-1.3 -1l-1 -1l-0.8 -1.3l-0.6 -1.4l-0.2 -1.3l0.1 -1.7l0.4 -1.3l0.6 -1.3l0.8 -1l1.3 -1.3l1.4 -0.8l1.3 -0.6l1.7 -0.5l1.6 -0.2l1.7 -0.1l2.7 0.2l4.6 0.9l2 0.2l9.4 0l3.6 0.3l3.7 0.4l5.3 1l2.7 0.7l2.1 0.8l1.6 0.7l1.3 0.9l0.7 0.8l0.4 0.9l0 1l-0.2 0.7l-0.9 1l-0.9 0.6l-1.3 0.7l-1.8 0.7l-2.3 0.8l-2.4 0.6l-4.3 0.7l-5.3 0.6l-3.4 0.1l-6 -0.1l-2.3 0.1l-7.3 1.2zM240.7 475.0l-2 0.2l-2 0l-2 -0.2l-1.7 -0.5l-1.7 -0.7l-1.3 -0.9l-1.1 -0.9l-1.1 -1.3l-0.7 -1.4l-0.4 -1.3l-0.2 -1.3l0.2 -1.7l0.4 -1.3l0.9 -1.6l1 -1.2l1.3 -1.1l1.7 -0.9l1.7 -0.6l2 -0.4l2 -0.2l2.6 0.2l4.7 0.8l2.3 0.2l9.4 0l3.6 0.2l3.7 0.4l3.3 0.5l3 0.6l3 0.9l2.4 0.8l1.6 0.8l1.3 0.9l0.9 1l0.4 1l0 1l-0.4 1l-0.8 1l-1 0.7l-1.4 0.7l-2 0.8l-4.6 1.3l-4 0.8l-4.7 0.5l-5.3 0.3l-8.4 -0.1l-2.3 0.3l-4.3 0.7zM239.7 475.7l-2.4 0.1l-2 -0.2l-2 -0.4l-1.6 -0.6l-1.7 -1l-1.3 -1l-1.1 -1.3l-1 -1.6l-0.5 -1.4l-0.2 -1.6l0.2 -1.7l0.5 -1.7l1 -1.6l1.1 -1.3l1.3 -1l1.7 -1l1.3 -0.5l1.7 -0.4l1.6 -0.2l1.7 -0.1l2.3 0.2l6.7 0.8l10.3 0l4.7 0.3l4 0.5l3.3 0.5l3 0.7l2.8 0.8l2.2 0.8l1.7 0.9l1.4 1l0.9 1l0.4 1l0.1 0.6l0 0.7l-0.3 1l-0.8 1l-1 0.9l-1.3 0.8l-1.7 0.7l-2.4 0.8l-2.6 0.7l-4.7 1l-5.3 0.6l-6 0.3l-8.7 -0.1l-7.3 1zM240.0 476.3l-2.3 0.2l-2.4 -0.2l-2 -0.4l-2 -0.7l-1.6 -0.9l-1.7 -1.3l-1.1 -1.3l-0.9 -1.4l-0.6 -1.6l-0.3 -1.7l0.1 -1.7l0.4 -1.6l0.8 -1.7l1 -1.3l1.6 -1.5l1.7 -1.1l1.6 -0.7l1.7 -0.5l2 -0.3l1.7 -0.1l2.3 0.1l6.3 0.8l11 -0.1l5 0.3l4.7 0.5l3.7 0.7l3.3 0.7l2.7 0.8l2.3 0.9l2 1l1.3 1.1l0.9 1l0.6 1.4l0 1.3l-0.3 1l-0.8 1.3l-1.1 1l-1.6 1l-1.7 0.8l-2 0.7l-2.6 0.7l-6 1.2l-5.7 0.7l-6.3 0.3l-8.7 -0.1l-7 0.7zM238.0 477.3l-2.3 -0.1l-2.4 -0.4l-2.3 -0.8l-2 -1.1l-1.7 -1.2l-1.4 -1.7l-1 -1.7l-0.7 -2l-0.1 -1.6l0.1 -2l0.7 -2l1.1 -1.9l1.3 -1.5l2 -1.5l2 -1l2 -0.6l2.4 -0.5l2.3 -0.1l8.7 0.7l7 -0.2l3.6 0l6.7 0.4l5.7 0.8l3.3 0.6l3.7 0.9l2.3 0.7l2.3 1l1.7 1l1.4 1.2l1.1 1.3l0.5 1.3l0.2 1.4l-0.3 1.3l-0.6 1.3l-1.3 1.4l-1.3 1l-2 1.1l-2.4 0.9l-3 0.8l-6.3 1.3l-6.7 0.7l-7 0.4l-8.6 -0.2l-8.7 0.6zM239.3 478.7l-3.3 -0.1l-2.7 -0.4l-2.3 -0.7l-2.3 -1.1l-2 -1.4l-1.7 -1.7l-1.2 -1.6l-0.9 -2.4l-0.4 -2l0.1 -2.3l0.6 -2.3l1 -2l1.5 -1.8l2 -1.7l2.3 -1.4l2.7 -1l2.6 -0.5l2.4 -0.2l8.3 0.3l6.7 -0.4l3.3 0l3.7 0.1l3.6 0.3l6.4 0.8l4.6 1l4 1l3 0.9l2.4 1.1l1.9 1.1l1.5 1.4l1.3 1.6l0.7 1.7l0.2 1.7l-0.3 1.6l-0.8 1.7l-1.2 1.5l-1.4 1.2l-1.9 1.1l-2.4 1l-3 1l-3.3 0.8l-4.7 0.8l-3.3 0.5l-3.7 0.3l-8 0.4l-9.6 -0.3l-6.4 0.4zM259.7 481.7l-6.4 0.1l-8 -0.5l-7 0l-2.6 -0.1l-2.4 -0.4l-2.3 -0.6l-2 -0.7l-2 -1l-2.3 -1.6l-2 -1.9l-1.6 -2.3l-1 -2.4l-0.6 -2.3l0 -2.7l0.6 -2.6l1 -2.4l1 -1.6l1.1 -1.4l1.5 -1.4l1.6 -1.4l2.4 -1.6l3.3 -2.1l2.3 -1.3l2 -0.9l2 -0.6l2.4 -0.6l5.6 -0.9l6.4 -0.5l7.3 0l5.7 0.3l5 0.5l4.3 0.9l2.7 0.9l0.6 0.4l0.8 0.7l0.4 0.6l0.5 1.4l0.8 1l1.4 1l4.5 2.4l2.6 1.8l2.4 2.1l1.5 2l0.8 1.7l0.4 2l0 2l-0.6 2l-0.8 1.6l-1.3 1.7l-1.7 1.6l-2 1.3l-2.3 1.2l-2.7 1l-2.7 0.8l-4 0.9l-4 0.7l-4.3 0.6l-4 0.4l-4.3 0.2z" fill="none" stroke="#4646ee" stroke-width="0.9"/>
<ellipse cx="273.0" cy="417.5" rx="9.3" ry="3.0" transform="rotate(-14 273.0 417.5)" fill="none" stroke="#4646ee" stroke-width="0.8"/>
<ellipse cx="238.0" cy="430.4" rx="1.1" ry="1.6" transform="rotate(0 238.0 430.4)" fill="none" stroke="#4646ee" stroke-width="0.8"/>
<line x1="247.50" y1="380.50" x2="247.50" y2="496.50" stroke="#333" stroke-width="1.0"/>
<line x1="207.50" y1="452.50" x2="323.50" y2="452.50" stroke="#333" stroke-width="1.0"/>
<rect x="207.50" y="380.50" width="116.00" height="116.00" fill="none" stroke="#333" stroke-width="1.0"/>
<line x1="211.90" y1="496.50" x2="211.90" y2="500.10" stroke="#333" stroke-width="0.8"/><line x1="251.10" y1="496.50" x2="251.10" y2="500.10" stroke="#333" stroke-width="0.8"/><line x1="283.20" y1="496.50" x2="283.20" y2="500.10" stroke="#333" stroke-width="0.8"/><line x1="313.80" y1="496.50" x2="313.80" y2="500.10" stroke="#333" stroke-width="0.8"/><line x1="260.76" y1="496.50" x2="260.76" y2="498.50" stroke="#444" stroke-width="0.7"/><line x1="266.42" y1="496.50" x2="266.42" y2="498.50" stroke="#444" stroke-width="0.7"/><line x1="270.43" y1="496.50" x2="270.43" y2="498.50" stroke="#444" stroke-width="0.7"/><line x1="273.54" y1="496.50" x2="273.54" y2="498.50" stroke="#444" stroke-width="0.7"/><line x1="276.08" y1="496.50" x2="276.08" y2="498.50" stroke="#444" stroke-width="0.7"/><line x1="278.23" y1="496.50" x2="278.23" y2="498.50" stroke="#444" stroke-width="0.7"/><line x1="280.09" y1="496.50" x2="280.09" y2="498.50" stroke="#444" stroke-width="0.7"/><line x1="281.73" y1="496.50" x2="281.73" y2="498.50" stroke="#444" stroke-width="0.7"/><line x1="292.41" y1="496.50" x2="292.41" y2="498.50" stroke="#444" stroke-width="0.7"/><line x1="297.80" y1="496.50" x2="297.80" y2="498.50" stroke="#444" stroke-width="0.7"/><line x1="301.62" y1="496.50" x2="301.62" y2="498.50" stroke="#444" stroke-width="0.7"/><line x1="304.59" y1="496.50" x2="304.59" y2="498.50" stroke="#444" stroke-width="0.7"/><line x1="307.01" y1="496.50" x2="307.01" y2="498.50" stroke="#444" stroke-width="0.7"/><line x1="309.06" y1="496.50" x2="309.06" y2="498.50" stroke="#444" stroke-width="0.7"/><line x1="310.83" y1="496.50" x2="310.83" y2="498.50" stroke="#444" stroke-width="0.7"/><line x1="312.40" y1="496.50" x2="312.40" y2="498.50" stroke="#444" stroke-width="0.7"/><line x1="219.74" y1="496.50" x2="219.74" y2="498.50" stroke="#444" stroke-width="0.7"/><line x1="227.58" y1="496.50" x2="227.58" y2="498.50" stroke="#444" stroke-width="0.7"/><line x1="233.46" y1="496.50" x2="233.46" y2="498.50" stroke="#444" stroke-width="0.7"/><line x1="239.34" y1="496.50" x2="239.34" y2="498.50" stroke="#444" stroke-width="0.7"/><line x1="243.26" y1="496.50" x2="243.26" y2="498.50" stroke="#444" stroke-width="0.7"/><line x1="247.18" y1="496.50" x2="247.18" y2="498.50" stroke="#444" stroke-width="0.7"/><line x1="203.90" y1="488.50" x2="207.50" y2="488.50" stroke="#333" stroke-width="0.8"/><line x1="203.90" y1="451.50" x2="207.50" y2="451.50" stroke="#333" stroke-width="0.8"/><line x1="203.90" y1="419.50" x2="207.50" y2="419.50" stroke="#333" stroke-width="0.8"/><line x1="203.90" y1="391.50" x2="207.50" y2="391.50" stroke="#333" stroke-width="0.8"/><line x1="205.50" y1="441.87" x2="207.50" y2="441.87" stroke="#444" stroke-width="0.7"/><line x1="205.50" y1="436.23" x2="207.50" y2="436.23" stroke="#444" stroke-width="0.7"/><line x1="205.50" y1="432.23" x2="207.50" y2="432.23" stroke="#444" stroke-width="0.7"/><line x1="205.50" y1="429.13" x2="207.50" y2="429.13" stroke="#444" stroke-width="0.7"/><line x1="205.50" y1="426.60" x2="207.50" y2="426.60" stroke="#444" stroke-width="0.7"/><line x1="205.50" y1="424.46" x2="207.50" y2="424.46" stroke="#444" stroke-width="0.7"/><line x1="205.50" y1="422.60" x2="207.50" y2="422.60" stroke="#444" stroke-width="0.7"/><line x1="205.50" y1="420.96" x2="207.50" y2="420.96" stroke="#444" stroke-width="0.7"/><line x1="205.50" y1="411.07" x2="207.50" y2="411.07" stroke="#444" stroke-width="0.7"/><line x1="205.50" y1="406.14" x2="207.50" y2="406.14" stroke="#444" stroke-width="0.7"/><line x1="205.50" y1="402.64" x2="207.50" y2="402.64" stroke="#444" stroke-width="0.7"/><line x1="205.50" y1="399.93" x2="207.50" y2="399.93" stroke="#444" stroke-width="0.7"/><line x1="205.50" y1="397.71" x2="207.50" y2="397.71" stroke="#444" stroke-width="0.7"/><line x1="205.50" y1="395.84" x2="207.50" y2="395.84" stroke="#444" stroke-width="0.7"/><line x1="205.50" y1="394.21" x2="207.50" y2="394.21" stroke="#444" stroke-width="0.7"/><line x1="205.50" y1="392.78" x2="207.50" y2="392.78" stroke="#444" stroke-width="0.7"/><line x1="205.50" y1="481.10" x2="207.50" y2="481.10" stroke="#444" stroke-width="0.7"/><line x1="205.50" y1="473.70" x2="207.50" y2="473.70" stroke="#444" stroke-width="0.7"/><line x1="205.50" y1="468.15" x2="207.50" y2="468.15" stroke="#444" stroke-width="0.7"/><line x1="205.50" y1="462.60" x2="207.50" y2="462.60" stroke="#444" stroke-width="0.7"/><line x1="205.50" y1="458.90" x2="207.50" y2="458.90" stroke="#444" stroke-width="0.7"/><line x1="205.50" y1="455.20" x2="207.50" y2="455.20" stroke="#444" stroke-width="0.7"/><rect x="230.00" y="496.80" width="3.50" height="2.60" fill="#111"/><rect x="205.10" y="473.50" width="2.40" height="3.20" fill="#111"/>
<text x="210.10" y="388.80" font-size="8.5" text-anchor="start" fill="#222">2.90</text>
<text x="321.10" y="388.80" font-size="8.5" text-anchor="end" fill="#222">5.44</text>
<text x="210.10" y="491.60" font-size="8.5" text-anchor="start" fill="#222">56.9</text>
<text x="321.10" y="491.60" font-size="8.5" text-anchor="end" fill="#222">34.8</text>
<path d="M97.9,550.4h0.8v0.8h-0.8zM94.7,574.5h0.8v0.8h-0.8zM98.9,557.3h0.8v0.8h-0.8zM100.3,540.3h0.8v0.8h-0.8zM92.8,583.7h0.8v0.8h-0.8zM95.2,575.1h0.8v0.8h-0.8zM94.7,554.2h0.8v0.8h-0.8zM101.5,563.9h0.8v0.8h-0.8zM105.3,560.8h0.8v0.8h-0.8zM101.9,563.3h0.8v0.8h-0.8zM97.1,550.6h0.8v0.8h-0.8zM104.4,557.0h0.8v0.8h-0.8zM162.5,543.6h0.8v0.8h-0.8zM158.3,540.1h0.8v0.8h-0.8zM174.9,514.2h0.8v0.8h-0.8zM155.9,540.0h0.8v0.8h-0.8zM194.4,538.4h0.8v0.8h-0.8zM142.3,536.2h0.8v0.8h-0.8zM158.9,518.8h0.8v0.8h-0.8zM121.9,537.4h0.8v0.8h-0.8zM133.2,541.9h0.8v0.8h-0.8zM177.1,544.0h0.8v0.8h-0.8zM138.5,526.2h0.8v0.8h-0.8zM163.5,551.6h0.8v0.8h-0.8zM153.4,525.0h0.8v0.8h-0.8zM136.7,539.3h0.8v0.8h-0.8zM148.6,561.3h0.8v0.8h-0.8zM145.8,532.5h0.8v0.8h-0.8zM146.2,535.1h0.8v0.8h-0.8zM167.3,557.9h0.8v0.8h-0.8zM165.6,537.0h0.8v0.8h-0.8zM144.7,538.2h0.8v0.8h-0.8zM139.1,545.7h0.8v0.8h-0.8zM159.3,557.6h0.8v0.8h-0.8zM152.8,510.8h0.8v0.8h-0.8zM172.0,530.6h0.8v0.8h-0.8zM199.6,528.0h0.8v0.8h-0.8zM168.8,526.9h0.8v0.8h-0.8zM153.9,530.2h0.8v0.8h-0.8zM151.6,530.4h0.8v0.8h-0.8zM139.9,546.8h0.8v0.8h-0.8zM139.1,529.7h0.8v0.8h-0.8zM137.4,544.3h0.8v0.8h-0.8zM147.8,548.3h0.8v0.8h-0.8zM147.2,532.0h0.8v0.8h-0.8zM167.1,544.4h0.8v0.8h-0.8zM147.7,566.0h0.8v0.8h-0.8zM151.1,547.1h0.8v0.8h-0.8zM133.8,533.4h0.8v0.8h-0.8zM182.5,541.6h0.8v0.8h-0.8zM163.1,529.4h0.8v0.8h-0.8zM184.9,546.4h0.8v0.8h-0.8zM168.0,554.9h0.8v0.8h-0.8zM179.8,530.8h0.8v0.8h-0.8zM150.3,539.5h0.8v0.8h-0.8zM166.7,558.4h0.8v0.8h-0.8zM200.5,535.4h0.8v0.8h-0.8zM133.7,545.2h0.8v0.8h-0.8zM174.5,527.9h0.8v0.8h-0.8zM183.4,530.8h0.8v0.8h-0.8zM161.7,535.2h0.8v0.8h-0.8zM167.5,573.0h0.8v0.8h-0.8zM176.3,536.8h0.8v0.8h-0.8zM143.1,535.1h0.8v0.8h-0.8zM161.6,534.6h0.8v0.8h-0.8zM139.4,540.2h0.8v0.8h-0.8zM142.7,551.7h0.8v0.8h-0.8zM143.8,545.2h0.8v0.8h-0.8zM152.0,571.3h0.8v0.8h-0.8zM157.0,545.5h0.8v0.8h-0.8zM162.4,562.8h0.8v0.8h-0.8zM129.8,546.4h0.8v0.8h-0.8zM189.0,551.0h0.8v0.8h-0.8zM174.6,522.3h0.8v0.8h-0.8zM167.1,540.7h0.8v0.8h-0.8zM148.3,541.5h0.8v0.8h-0.8zM152.9,539.1h0.8v0.8h-0.8zM164.0,512.4h0.8v0.8h-0.8zM161.7,554.8h0.8v0.8h-0.8zM125.2,537.1h0.8v0.8h-0.8zM167.4,536.4h0.8v0.8h-0.8zM122.3,539.3h0.8v0.8h-0.8zM171.8,548.2h0.8v0.8h-0.8zM160.9,524.7h0.8v0.8h-0.8zM152.6,529.5h0.8v0.8h-0.8zM178.4,546.6h0.8v0.8h-0.8zM133.9,544.5h0.8v0.8h-0.8zM157.3,537.2h0.8v0.8h-0.8zM180.0,534.5h0.8v0.8h-0.8zM151.1,530.8h0.8v0.8h-0.8zM147.2,541.7h0.8v0.8h-0.8zM156.5,559.0h0.8v0.8h-0.8zM146.7,527.7h0.8v0.8h-0.8zM181.5,563.8h0.8v0.8h-0.8zM138.7,554.3h0.8v0.8h-0.8zM169.7,536.2h0.8v0.8h-0.8zM132.6,553.5h0.8v0.8h-0.8zM166.2,522.0h0.8v0.8h-0.8zM152.7,518.3h0.8v0.8h-0.8zM109.4,524.4h0.8v0.8h-0.8zM154.4,536.8h0.8v0.8h-0.8zM135.9,537.9h0.8v0.8h-0.8zM146.7,535.3h0.8v0.8h-0.8zM181.4,543.9h0.8v0.8h-0.8zM135.0,512.6h0.8v0.8h-0.8zM136.0,549.4h0.8v0.8h-0.8zM179.7,522.6h0.8v0.8h-0.8zM156.5,533.2h0.8v0.8h-0.8zM181.4,536.7h0.8v0.8h-0.8zM160.2,526.3h0.8v0.8h-0.8zM139.1,523.3h0.8v0.8h-0.8zM153.3,528.4h0.8v0.8h-0.8zM176.0,542.3h0.8v0.8h-0.8zM170.9,550.8h0.8v0.8h-0.8zM154.5,550.4h0.8v0.8h-0.8zM155.4,528.6h0.8v0.8h-0.8zM152.5,531.4h0.8v0.8h-0.8zM144.4,529.6h0.8v0.8h-0.8zM188.3,548.8h0.8v0.8h-0.8zM154.6,514.0h0.8v0.8h-0.8zM134.7,559.8h0.8v0.8h-0.8zM146.2,535.7h0.8v0.8h-0.8zM167.2,531.5h0.8v0.8h-0.8zM165.7,547.3h0.8v0.8h-0.8zM152.1,557.0h0.8v0.8h-0.8zM142.8,547.3h0.8v0.8h-0.8zM154.9,557.2h0.8v0.8h-0.8zM125.2,544.4h0.8v0.8h-0.8zM131.7,559.7h0.8v0.8h-0.8zM168.5,559.9h0.8v0.8h-0.8zM146.1,541.1h0.8v0.8h-0.8zM161.1,562.6h0.8v0.8h-0.8zM175.8,544.8h0.8v0.8h-0.8zM165.9,543.7h0.8v0.8h-0.8zM154.9,529.6h0.8v0.8h-0.8zM191.7,538.5h0.8v0.8h-0.8zM166.2,553.4h0.8v0.8h-0.8zM148.3,524.1h0.8v0.8h-0.8zM167.3,551.6h0.8v0.8h-0.8zM161.6,547.4h0.8v0.8h-0.8zM139.5,546.4h0.8v0.8h-0.8zM104.4,567.6h0.8v0.8h-0.8zM125.5,570.9h0.8v0.8h-0.8zM133.0,556.3h0.8v0.8h-0.8zM118.9,550.1h0.8v0.8h-0.8zM127.4,567.5h0.8v0.8h-0.8zM102.7,567.2h0.8v0.8h-0.8zM133.2,565.4h0.8v0.8h-0.8zM119.9,567.4h0.8v0.8h-0.8zM135.2,555.3h0.8v0.8h-0.8zM108.1,559.5h0.8v0.8h-0.8zM133.4,552.2h0.8v0.8h-0.8zM124.1,552.0h0.8v0.8h-0.8zM134.6,566.4h0.8v0.8h-0.8zM117.2,556.5h0.8v0.8h-0.8zM120.3,574.2h0.8v0.8h-0.8zM148.9,560.9h0.8v0.8h-0.8zM118.2,556.7h0.8v0.8h-0.8zM119.4,565.3h0.8v0.8h-0.8zM123.7,571.3h0.8v0.8h-0.8zM116.3,563.4h0.8v0.8h-0.8z" fill="#606060"/>
<path d="M156.3 588.7l-2.6 -0.1l-2.7 -0.3l-1.2 -0.3l-0.5 -0.3l0 -0.4l0.5 -0.3l1.2 -0.3l2 -0.3l2.3 -0.1l2.4 0.1l2 0.2l1.1 0.4l0.4 0.3l0 0.4l-0.4 0.3l-1 0.3l-3.5 0.4zM159.3 589.0l-4.3 0.2l-4.3 -0.3l-1.6 -0.2l-1.2 -0.4l-0.7 -0.3l-0.3 -0.3l0 -0.4l0.3 -0.3l0.7 -0.3l1.4 -0.4l2.7 -0.4l3.3 -0.1l3 0.1l2.4 0.3l1.6 0.5l0.5 0.3l0.3 0.3l0 0.4l-0.3 0.3l-0.5 0.3l-1 0.4l-2 0.3zM156.3 589.7l-5 -0.2l-3.9 -0.5l-2.1 -0.7l-0.5 -0.3l-0.3 -0.3l0 -0.4l0.3 -0.3l0.5 -0.4l0.8 -0.3l1.9 -0.4l3.3 -0.4l4 -0.2l4 0.2l2.7 0.3l1.7 0.6l0.6 0.5l0.3 0.4l0 0.4l-0.2 0.3l-0.3 0.3l-1.4 0.7l-2.7 0.5l-3.7 0.2zM158.7 590.0l-6.4 0l-5 -0.5l-2 -0.4l-1.4 -0.4l-1.2 -0.7l-0.3 -0.3l0 -0.4l0.3 -0.3l0.4 -0.3l0.8 -0.4l2.4 -0.6l3.7 -0.6l4.3 -0.2l4.5 0.1l3.2 0.3l1.5 0.4l0.9 0.3l0.6 0.4l0.6 0.6l0.1 0.7l-0.1 0.3l-0.6 0.6l-0.6 0.4l-0.9 0.3l-1.5 0.4l-3.3 0.3zM159.7 590.4l-3.4 0.1l-3.6 -0.1l-3 -0.1l-3 -0.4l-3 -0.6l-2.2 -0.6l-1.2 -0.7l-0.2 -0.3l0 -0.4l0.2 -0.3l1.2 -0.7l2.2 -0.6l1.5 -0.4l4.5 -0.6l4.6 -0.2l5 0.1l3.5 0.4l1.3 0.3l1.2 0.5l0.9 0.5l0.5 0.7l0.1 0.7l-0.3 0.6l-0.8 0.7l-0.6 0.3l-2.3 0.7l-3.1 0.4zM160.3 590.7l-3.6 0.1l-4 0l-3.4 -0.2l-3.3 -0.3l-3.4 -0.6l-3.6 -1l-1.3 -0.7l-0.3 -0.3l0 -0.4l0.3 -0.3l1.3 -0.7l2.2 -0.6l3.1 -0.7l4.7 -0.6l5.3 -0.2l5.7 0.1l3.7 0.4l1.3 0.4l1.3 0.6l0.9 0.6l0.5 0.7l0 0.7l-0.2 0.6l-0.5 0.6l-0.7 0.4l-1.3 0.6l-1.3 0.4l-3.4 0.4zM160.3 591.0l-4 0.1l-4.6 0l-3.7 -0.3l-3.3 -0.4l-4.4 -0.7l-3.9 -1l-1.6 -0.7l-0.3 -0.3l0 -0.4l0.3 -0.3l1.6 -0.7l2.4 -0.6l3.2 -0.7l5.3 -0.8l6 -0.3l6 0l4.1 0.4l1.6 0.4l1.7 0.6l1 0.7l0.6 0.7l0.1 0.3l0.1 0.7l-0.2 0.6l-0.6 0.7l-1 0.7l-1.4 0.5l-1.3 0.3l-3.7 0.5zM159.7 591.3l-4.4 0.1l-4.3 -0.1l-3.7 -0.2l-3.6 -0.4l-5.9 -1l-4.5 -1l-1.6 -0.7l-0.3 -0.3l0 -0.4l0.3 -0.3l0.6 -0.3l2.2 -0.7l7 -1.3l5.8 -0.8l6 -0.3l6.7 0.1l4 0.4l2 0.5l1.3 0.6l1.2 0.8l0.5 0.7l0.2 1l-0.2 0.6l-0.9 1l-1.1 0.7l-1.3 0.5l-1.7 0.4l-2 0.3l-2.3 0.1zM158.3 591.7l-4.6 0l-4 -0.1l-3.7 -0.3l-4 -0.5l-7.1 -1.1l-3.5 -0.7l-2.4 -0.7l-0.8 -0.3l-0.4 -0.3l0 -0.4l0.4 -0.3l1.9 -0.7l2.9 -0.6l4 -0.7l9 -1.3l3.7 -0.3l3.6 -0.1l7 0.1l2.4 0.2l2 0.3l1.6 0.5l1.5 0.6l1 0.7l0.9 1l0.2 1l-0.4 1l-1.1 1l-1.3 0.6l-1.8 0.6l-2 0.4l-5 0.4zM162.3 591.7l-4 0.2l-5.3 0l-4.3 -0.1l-4.4 -0.4l-10.3 -1.4l-7.9 -1.3l-1.5 -0.4l-0.9 -0.3l-0.4 -0.3l0 -0.4l0.4 -0.3l1.3 -0.4l9 -1.6l11.3 -1.5l3.7 -0.3l3.7 -0.1l7.3 0l2.6 0.2l2.1 0.3l1.6 0.5l1.7 0.6l1.1 0.6l1 1l0.3 0.7l0 1l-0.6 1l-0.7 0.7l-1.1 0.6l-1.7 0.6l-1.6 0.5l-2.4 0.3zM161.3 592.0l-4.3 0.2l-5.3 -0.1l-4.4 -0.2l-4.3 -0.4l-19.4 -2.5l-1.3 -0.3l-0.6 -0.4l-0.4 -0.3l-0.2 -0.3l0 -0.4l0.2 -0.3l0.4 -0.3l0.6 -0.4l2 -0.4l20 -2.5l4.4 -0.4l4 -0.1l7.3 0l2.7 0.2l2 0.3l2.3 0.6l1.7 0.7l1 0.6l0.9 1l0.4 1l-0.2 1l-0.7 1l-0.9 0.7l-1.2 0.7l-2 0.6l-2 0.4l-2.7 0.3zM160.3 592.3l-6.6 0.1l-6.4 -0.2l-23.6 -2.5l-1.8 -0.4l-1.2 -0.5l-0.6 -0.5l-0.3 -0.3l-0.1 -0.7l0.4 -0.6l0.9 -0.7l1 -0.4l1.5 -0.3l21.5 -2.3l3.7 -0.3l4 -0.1l7.6 0.1l2.7 0.2l2.3 0.3l2 0.6l1.7 0.6l1.4 0.9l0.8 1l0.3 1l-0.1 1l-0.7 1l-1.4 1.1l-1.6 0.7l-2 0.6l-2.4 0.4l-3 0.2zM159.0 592.7l-6.3 0l-5.7 -0.3l-24 -2.2l-2 -0.4l-1.3 -0.6l-0.9 -0.9l-0.1 -0.4l-0.1 -0.6l0.2 -0.6l0.3 -0.4l0.8 -0.6l1.1 -0.5l1.7 -0.3l22.6 -2.2l7.4 -0.4l8 0.1l2.6 0.2l2.4 0.4l2.3 0.6l1.7 0.7l1.4 1l0.8 1l0.2 0.7l0.1 0.7l-0.3 1l-0.9 1l-1.7 1.1l-2 0.8l-2.3 0.6l-2.7 0.3l-3.3 0.2zM158.0 593.0l-6 0l-5 -0.2l-24.7 -2.1l-2 -0.5l-1 -0.4l-0.6 -0.4l-0.4 -0.4l-0.5 -0.7l-0.2 -1l0.4 -1l0.6 -0.6l0.5 -0.4l1.6 -0.6l1.6 -0.4l23.4 -2l7 -0.3l8.3 0.1l2.7 0.2l2.3 0.4l2.4 0.6l1.9 0.9l1.5 1.1l0.8 1l0.2 0.7l0 0.7l-0.1 0.6l-0.3 0.7l-0.6 0.7l-0.8 0.6l-1.7 1l-2 0.7l-2.6 0.5l-3 0.4l-3.7 0.1zM157.7 593.3l-5.7 0l-5 -0.2l-25.3 -2l-2 -0.5l-1 -0.4l-0.8 -0.5l-0.6 -0.7l-0.4 -0.7l-0.1 -0.6l0 -0.7l0.5 -1l1.1 -1l1.4 -0.7l1.9 -0.4l24.3 -1.9l7.3 -0.3l8.4 0.1l3 0.3l2.3 0.4l2.3 0.8l1.7 0.8l1.3 1l0.6 0.6l0.4 0.6l0.2 0.7l0 0.7l-0.1 0.6l-0.3 0.7l-0.5 0.7l-0.7 0.6l-1.9 1.1l-2.3 0.9l-2.7 0.6l-3.3 0.3l-4 0.1zM158.0 593.7l-5.7 0l-5 -0.2l-26 -1.9l-2.3 -0.6l-1 -0.5l-0.7 -0.5l-0.7 -0.7l-0.4 -0.6l-0.2 -0.7l0 -1l0.2 -0.7l0.4 -0.6l1.1 -1l1.6 -0.8l2 -0.5l24.7 -1.8l7.3 -0.3l5 0l3.7 0.2l3 0.3l2.3 0.4l2.5 0.8l2 1l1.3 1l0.5 0.7l0.4 0.6l0.2 0.7l0 1l-0.2 0.7l-0.4 0.6l-0.5 0.7l-0.8 0.6l-1.7 1.1l-2.6 0.9l-2.7 0.6l-3.3 0.3l-4 0.2zM159.3 594.0l-6 0l-5.6 -0.1l-17 -1.2l-7.4 -0.4l-2.3 -0.2l-1.3 -0.3l-1.4 -0.4l-1 -0.6l-0.7 -0.5l-0.6 -0.6l-0.6 -1l-0.2 -0.7l0 -1l0.2 -0.7l0.3 -0.6l0.6 -0.7l0.8 -0.7l1.6 -0.8l2.3 -0.6l2.3 -0.2l7.7 -0.4l15 -1.1l6.3 -0.2l5.4 0l4 0.1l3 0.2l2.6 0.5l2.7 0.8l2 0.9l1.6 1.2l1 1.3l0.3 0.7l0.1 1l-0.4 1.3l-1 1.3l-0.9 0.7l-1.1 0.7l-2.4 1l-2.9 0.7l-3 0.4l-4 0.2zM161.3 594.3l-6.6 0.1l-6.7 -0.1l-17.3 -1.1l-7.7 -0.4l-2.3 -0.2l-1.4 -0.3l-1.3 -0.4l-1.1 -0.6l-0.9 -0.6l-0.7 -0.7l-0.6 -1l-0.3 -1l0 -1l0.3 -0.9l0.4 -0.8l0.5 -0.6l0.7 -0.7l1.7 -0.9l2.3 -0.6l3 -0.3l8 -0.4l15 -1l5 -0.2l5.7 0l4.3 0.1l3.4 0.2l2.6 0.5l2.7 0.7l2.3 1l1.8 1.2l1.1 1.4l0.5 1.3l0 1l-0.1 0.7l-0.4 0.6l-0.5 0.8l-0.7 0.7l-1 0.7l-2.3 1.2l-2.7 0.8l-3 0.5l-3.7 0.3zM163.0 594.7l-6.3 0.2l-8 -0.1l-18 -1.1l-7.7 -0.3l-2.7 -0.3l-1.6 -0.3l-1.3 -0.5l-1.1 -0.5l-1 -0.8l-0.9 -1l-0.6 -1l-0.2 -1l0 -1l0.2 -1l0.4 -0.7l0.7 -1l0.8 -0.6l1 -0.7l1 -0.4l2.3 -0.7l3 -0.3l7.3 -0.3l19 -1.1l5.7 -0.1l5.3 0.1l3.7 0.2l3 0.4l3 0.8l2.3 0.9l2 1.2l1.4 1.3l0.4 0.7l0.4 1l0.1 1l-0.1 0.6l-0.4 1l-0.4 0.7l-1.4 1.3l-2 1.2l-2.6 1l-3 0.7l-3.7 0.5zM159.0 595.3l-6 0.1l-5.7 -0.2l-15.6 -0.9l-9 -0.3l-3 -0.4l-1.7 -0.4l-1.3 -0.5l-1.3 -0.7l-1.1 -0.9l-0.9 -1.1l-0.4 -1l-0.2 -1l0 -1.3l0.3 -1l0.3 -0.7l0.8 -1l0.8 -0.7l0.9 -0.6l1.1 -0.6l1.3 -0.4l1.4 -0.3l3.3 -0.4l28 -1.3l6 -0.1l5 0.2l3.3 0.2l3 0.6l3 0.8l2.4 1.1l2 1.4l1.2 1.4l0.4 1l0.2 1l-0.1 1l-0.3 1l-0.7 1l-0.6 0.7l-0.8 0.7l-1.3 0.8l-2.7 1.2l-3.3 0.9l-4 0.5l-4.7 0.2zM164.0 595.7l-6 0.2l-9 -0.1l-26.3 -1.2l-3.4 -0.3l-1.6 -0.4l-1.7 -0.7l-1.3 -0.7l-1 -0.8l-0.9 -1l-0.7 -1.4l-0.3 -1.3l0.1 -1.3l0.2 -1l0.5 -1l0.7 -1l0.7 -0.7l1 -0.7l1.3 -0.7l2.7 -0.8l3.7 -0.4l9.5 -0.4l15.1 -0.8l6 -0.1l6.4 0l4 0.2l3.3 0.4l3.3 0.7l2.7 1l2.3 1.2l1.7 1.4l0.8 1l0.4 1l0.3 1l0 1l-0.3 1l-0.4 1l-0.8 1l-0.7 0.6l-2 1.4l-3 1.3l-3.3 0.8l-4 0.6zM163.7 596.3l-6.4 0.2l-9 0l-25.6 -1.1l-2.4 -0.2l-1.6 -0.3l-2 -0.5l-1.7 -0.7l-1.3 -0.9l-1.3 -1.1l-0.9 -1.4l-0.5 -1.3l-0.2 -1.3l0.1 -1.4l0.3 -1l0.5 -1l0.7 -1l0.9 -0.8l1.1 -0.8l1.3 -0.7l2.6 -0.8l2 -0.4l2.4 -0.2l8.9 -0.3l16.4 -0.7l6.3 -0.2l6.4 0.1l4 0.2l3.3 0.5l3.3 0.8l3 1.2l2.4 1.4l1.5 1.4l0.7 1l0.4 1l0.2 1l0 1l-0.2 1l-0.4 1l-0.7 1l-1 1l-2.2 1.5l-1.7 0.8l-1.6 0.6l-3.7 0.9l-4.3 0.5zM164.7 597.0l-6.4 0.3l-9.6 -0.1l-26.4 -1l-4 -0.4l-2 -0.6l-2 -0.8l-1.3 -0.8l-1.4 -1.3l-1 -1.3l-0.7 -1.7l-0.2 -1.3l0.1 -1.7l0.5 -1.6l0.8 -1.4l1.2 -1.3l1.4 -1l1.6 -0.9l2 -0.6l2.4 -0.5l2.6 -0.2l27.7 -1.1l8.3 0l5.4 0.2l4.6 0.5l2 0.5l2.4 0.6l2 0.8l1.6 0.9l1.4 0.9l1.1 0.9l0.8 1l0.8 1.3l0.3 1l0.1 1.4l-0.2 1.3l-0.4 1l-0.6 1l-0.8 1l-1.1 0.9l-1.4 0.9l-3 1.4l-2 0.7l-2.3 0.5l-4.3 0.6zM164.7 598.0l-6.4 0.3l-10 -0.1l-26 -0.9l-2.3 -0.2l-2.3 -0.3l-2.4 -0.7l-2 -0.9l-1.6 -1.1l-1.4 -1.3l-1 -1.5l-0.7 -1.6l-0.3 -1.7l0.1 -2l0.5 -1.7l1 -1.6l1.4 -1.5l1.6 -1.2l1.8 -0.9l2 -0.6l2.6 -0.5l2.7 -0.3l28.7 -1l8 0l5.6 0.2l2.7 0.3l2.3 0.4l2.4 0.5l2 0.6l2 0.8l1.6 0.9l1.5 0.9l1.2 1l0.8 1l0.9 1.4l0.5 1.3l0.1 1.3l-0.1 1.4l-0.4 1.3l-0.7 1.3l-1.1 1.3l-1.2 1.1l-1.5 0.9l-1.6 0.9l-1.7 0.6l-2.3 0.8l-2.4 0.5l-4.6 0.6zM159.0 599.7l-10.7 -0.1l-26 -0.8l-3.6 -0.3l-3 -0.6l-2.4 -0.8l-2 -1.1l-1.7 -1.3l-1.5 -1.7l-1.1 -2l-0.6 -2l-0.1 -2l0.3 -2l0.7 -1.7l0.8 -1.3l1.1 -1.3l1.1 -1l1.4 -0.9l1.6 -0.9l1.7 -0.6l1.7 -0.5l2.3 -0.4l3 -0.2l14 -0.4l15.3 -0.6l7 -0.1l5 0.1l4 0.4l4 0.8l3.7 1.1l2 0.9l1.7 0.8l1.3 0.9l1.2 0.9l1 1l0.8 1l0.7 1.3l0.6 1.7l0.1 1.7l-0.2 1.6l-0.6 1.7l-0.9 1.3l-1.2 1.4l-1.5 1.2l-1.7 1l-2 1l-2.3 0.8l-2.7 0.8l-3 0.5l-2.6 0.4l-6.7 0.3zM166.0 602.3l-5.3 0.3l-9 0l-29.4 -0.7l-4.6 -0.3l-3.7 -0.8l-3 -1.1l-2.7 -1.5l-2.2 -1.9l-1.6 -2l-1.3 -2.3l-0.4 -1.3l-0.3 -1.4l-0.1 -1.3l0 -1.3l0.4 -2.4l0.7 -2l1 -1.6l1.3 -1.7l1.4 -1.3l1.8 -1.3l2 -1.1l2 -0.8l2.3 -0.7l2.4 -0.4l2.6 -0.3l14.7 -0.4l7 -0.5l4.7 -0.6l9.6 -1.7l3.7 -0.5l2.3 0l2 0.1l2 0.3l1.7 0.3l3 1.2l8 4.1l3 1.8l2 1.5l1.9 2l1 1.3l0.5 1l0.9 2.3l0.2 1.4l0 1.3l-0.2 1.3l-0.3 1.4l-0.6 1.3l-0.5 1l-1 1.3l-0.9 1l-1.3 1.2l-1.4 1l-3 1.6l-4 1.5l-4.6 1.1l-4.7 0.6z" fill="none" stroke="#000" stroke-width="0.95"/>
<line x1="125.50" y1="502.50" x2="125.50" y2="617.50" stroke="#333" stroke-width="1.0"/>
<line x1="86.50" y1="573.50" x2="201.50" y2="573.50" stroke="#333" stroke-width="1.0"/>
<rect x="86.50" y="502.50" width="115.00" height="115.00" fill="none" stroke="#333" stroke-width="1.0"/>
<line x1="90.90" y1="617.50" x2="90.90" y2="621.10" stroke="#333" stroke-width="0.8"/><line x1="130.10" y1="617.50" x2="130.10" y2="621.10" stroke="#333" stroke-width="0.8"/><line x1="162.20" y1="617.50" x2="162.20" y2="621.10" stroke="#333" stroke-width="0.8"/><line x1="192.80" y1="617.50" x2="192.80" y2="621.10" stroke="#333" stroke-width="0.8"/><line x1="139.76" y1="617.50" x2="139.76" y2="619.50" stroke="#444" stroke-width="0.7"/><line x1="145.42" y1="617.50" x2="145.42" y2="619.50" stroke="#444" stroke-width="0.7"/><line x1="149.43" y1="617.50" x2="149.43" y2="619.50" stroke="#444" stroke-width="0.7"/><line x1="152.54" y1="617.50" x2="152.54" y2="619.50" stroke="#444" stroke-width="0.7"/><line x1="155.08" y1="617.50" x2="155.08" y2="619.50" stroke="#444" stroke-width="0.7"/><line x1="157.23" y1="617.50" x2="157.23" y2="619.50" stroke="#444" stroke-width="0.7"/><line x1="159.09" y1="617.50" x2="159.09" y2="619.50" stroke="#444" stroke-width="0.7"/><line x1="160.73" y1="617.50" x2="160.73" y2="619.50" stroke="#444" stroke-width="0.7"/><line x1="171.41" y1="617.50" x2="171.41" y2="619.50" stroke="#444" stroke-width="0.7"/><line x1="176.80" y1="617.50" x2="176.80" y2="619.50" stroke="#444" stroke-width="0.7"/><line x1="180.62" y1="617.50" x2="180.62" y2="619.50" stroke="#444" stroke-width="0.7"/><line x1="183.59" y1="617.50" x2="183.59" y2="619.50" stroke="#444" stroke-width="0.7"/><line x1="186.01" y1="617.50" x2="186.01" y2="619.50" stroke="#444" stroke-width="0.7"/><line x1="188.06" y1="617.50" x2="188.06" y2="619.50" stroke="#444" stroke-width="0.7"/><line x1="189.83" y1="617.50" x2="189.83" y2="619.50" stroke="#444" stroke-width="0.7"/><line x1="191.40" y1="617.50" x2="191.40" y2="619.50" stroke="#444" stroke-width="0.7"/><line x1="98.74" y1="617.50" x2="98.74" y2="619.50" stroke="#444" stroke-width="0.7"/><line x1="106.58" y1="617.50" x2="106.58" y2="619.50" stroke="#444" stroke-width="0.7"/><line x1="112.46" y1="617.50" x2="112.46" y2="619.50" stroke="#444" stroke-width="0.7"/><line x1="118.34" y1="617.50" x2="118.34" y2="619.50" stroke="#444" stroke-width="0.7"/><line x1="122.26" y1="617.50" x2="122.26" y2="619.50" stroke="#444" stroke-width="0.7"/><line x1="126.18" y1="617.50" x2="126.18" y2="619.50" stroke="#444" stroke-width="0.7"/><line x1="82.90" y1="609.50" x2="86.50" y2="609.50" stroke="#333" stroke-width="0.8"/><line x1="82.90" y1="572.50" x2="86.50" y2="572.50" stroke="#333" stroke-width="0.8"/><line x1="82.90" y1="540.50" x2="86.50" y2="540.50" stroke="#333" stroke-width="0.8"/><line x1="82.90" y1="512.50" x2="86.50" y2="512.50" stroke="#333" stroke-width="0.8"/><line x1="84.50" y1="562.87" x2="86.50" y2="562.87" stroke="#444" stroke-width="0.7"/><line x1="84.50" y1="557.23" x2="86.50" y2="557.23" stroke="#444" stroke-width="0.7"/><line x1="84.50" y1="553.23" x2="86.50" y2="553.23" stroke="#444" stroke-width="0.7"/><line x1="84.50" y1="550.13" x2="86.50" y2="550.13" stroke="#444" stroke-width="0.7"/><line x1="84.50" y1="547.60" x2="86.50" y2="547.60" stroke="#444" stroke-width="0.7"/><line x1="84.50" y1="545.46" x2="86.50" y2="545.46" stroke="#444" stroke-width="0.7"/><line x1="84.50" y1="543.60" x2="86.50" y2="543.60" stroke="#444" stroke-width="0.7"/><line x1="84.50" y1="541.96" x2="86.50" y2="541.96" stroke="#444" stroke-width="0.7"/><line x1="84.50" y1="532.07" x2="86.50" y2="532.07" stroke="#444" stroke-width="0.7"/><line x1="84.50" y1="527.14" x2="86.50" y2="527.14" stroke="#444" stroke-width="0.7"/><line x1="84.50" y1="523.64" x2="86.50" y2="523.64" stroke="#444" stroke-width="0.7"/><line x1="84.50" y1="520.93" x2="86.50" y2="520.93" stroke="#444" stroke-width="0.7"/><line x1="84.50" y1="518.71" x2="86.50" y2="518.71" stroke="#444" stroke-width="0.7"/><line x1="84.50" y1="516.84" x2="86.50" y2="516.84" stroke="#444" stroke-width="0.7"/><line x1="84.50" y1="515.21" x2="86.50" y2="515.21" stroke="#444" stroke-width="0.7"/><line x1="84.50" y1="513.78" x2="86.50" y2="513.78" stroke="#444" stroke-width="0.7"/><line x1="84.50" y1="602.10" x2="86.50" y2="602.10" stroke="#444" stroke-width="0.7"/><line x1="84.50" y1="594.70" x2="86.50" y2="594.70" stroke="#444" stroke-width="0.7"/><line x1="84.50" y1="589.15" x2="86.50" y2="589.15" stroke="#444" stroke-width="0.7"/><line x1="84.50" y1="583.60" x2="86.50" y2="583.60" stroke="#444" stroke-width="0.7"/><line x1="84.50" y1="579.90" x2="86.50" y2="579.90" stroke="#444" stroke-width="0.7"/><line x1="84.50" y1="576.20" x2="86.50" y2="576.20" stroke="#444" stroke-width="0.7"/><rect x="109.00" y="617.80" width="3.50" height="2.60" fill="#111"/><rect x="84.10" y="594.50" width="2.40" height="3.20" fill="#111"/>
<text x="89.10" y="510.80" font-size="8.5" text-anchor="start" fill="#222">0.90</text>
<text x="199.10" y="510.80" font-size="8.5" text-anchor="end" fill="#222">5.50</text>
<text x="89.10" y="612.60" font-size="8.5" text-anchor="start" fill="#222">24.8</text>
<text x="199.10" y="612.60" font-size="8.5" text-anchor="end" fill="#222">68.8</text>
<path d="M250.7,538.3h0.8v0.8h-0.8zM285.7,505.3h0.8v0.8h-0.8zM307.8,552.1h0.8v0.8h-0.8zM266.6,551.1h0.8v0.8h-0.8zM260.5,535.5h0.8v0.8h-0.8zM299.9,521.1h0.8v0.8h-0.8zM280.6,566.2h0.8v0.8h-0.8zM253.2,546.8h0.8v0.8h-0.8zM269.1,558.8h0.8v0.8h-0.8zM260.9,565.1h0.8v0.8h-0.8zM284.0,534.2h0.8v0.8h-0.8zM279.9,555.5h0.8v0.8h-0.8zM302.8,538.6h0.8v0.8h-0.8zM293.1,541.5h0.8v0.8h-0.8zM243.1,541.1h0.8v0.8h-0.8zM286.5,542.5h0.8v0.8h-0.8zM297.2,560.3h0.8v0.8h-0.8zM287.5,544.5h0.8v0.8h-0.8zM300.2,540.0h0.8v0.8h-0.8zM265.4,538.1h0.8v0.8h-0.8zM256.6,548.0h0.8v0.8h-0.8zM298.0,528.2h0.8v0.8h-0.8zM254.1,534.5h0.8v0.8h-0.8zM230.0,541.7h0.8v0.8h-0.8zM300.1,533.4h0.8v0.8h-0.8zM261.6,540.6h0.8v0.8h-0.8zM270.8,532.7h0.8v0.8h-0.8zM246.7,574.6h0.8v0.8h-0.8zM248.3,563.8h0.8v0.8h-0.8zM252.1,549.7h0.8v0.8h-0.8zM269.6,541.6h0.8v0.8h-0.8zM285.6,577.6h0.8v0.8h-0.8zM226.9,547.7h0.8v0.8h-0.8zM294.0,541.1h0.8v0.8h-0.8zM251.5,547.4h0.8v0.8h-0.8zM254.0,547.4h0.8v0.8h-0.8zM292.4,565.1h0.8v0.8h-0.8zM275.9,542.2h0.8v0.8h-0.8zM243.7,576.1h0.8v0.8h-0.8zM318.1,528.4h0.8v0.8h-0.8zM258.6,553.6h0.8v0.8h-0.8zM282.9,526.5h0.8v0.8h-0.8zM281.9,571.6h0.8v0.8h-0.8zM308.5,537.2h0.8v0.8h-0.8zM267.5,541.6h0.8v0.8h-0.8zM299.7,557.3h0.8v0.8h-0.8zM261.2,562.6h0.8v0.8h-0.8zM302.2,524.7h0.8v0.8h-0.8zM260.7,537.0h0.8v0.8h-0.8zM269.5,520.2h0.8v0.8h-0.8zM319.2,544.7h0.8v0.8h-0.8zM284.5,540.9h0.8v0.8h-0.8zM279.9,536.9h0.8v0.8h-0.8zM285.4,536.3h0.8v0.8h-0.8zM259.5,530.6h0.8v0.8h-0.8zM293.7,551.0h0.8v0.8h-0.8zM251.5,566.8h0.8v0.8h-0.8zM302.3,511.6h0.8v0.8h-0.8zM304.0,540.6h0.8v0.8h-0.8zM264.9,535.8h0.8v0.8h-0.8zM263.7,550.4h0.8v0.8h-0.8zM281.4,527.3h0.8v0.8h-0.8zM277.8,540.2h0.8v0.8h-0.8zM256.0,525.9h0.8v0.8h-0.8zM290.0,553.6h0.8v0.8h-0.8zM232.6,544.1h0.8v0.8h-0.8zM268.0,539.9h0.8v0.8h-0.8zM268.6,548.4h0.8v0.8h-0.8zM271.5,538.6h0.8v0.8h-0.8zM284.3,517.6h0.8v0.8h-0.8zM250.5,552.0h0.8v0.8h-0.8zM290.4,547.1h0.8v0.8h-0.8zM273.5,540.0h0.8v0.8h-0.8zM263.2,558.3h0.8v0.8h-0.8zM247.4,562.0h0.8v0.8h-0.8zM251.5,525.0h0.8v0.8h-0.8zM285.4,530.0h0.8v0.8h-0.8zM256.3,567.3h0.8v0.8h-0.8zM278.9,565.2h0.8v0.8h-0.8zM300.9,530.7h0.8v0.8h-0.8zM300.2,523.6h0.8v0.8h-0.8zM311.8,532.3h0.8v0.8h-0.8zM271.0,534.5h0.8v0.8h-0.8zM253.6,517.2h0.8v0.8h-0.8zM300.0,543.0h0.8v0.8h-0.8zM284.3,522.0h0.8v0.8h-0.8zM302.2,523.1h0.8v0.8h-0.8zM277.7,557.2h0.8v0.8h-0.8zM303.8,531.6h0.8v0.8h-0.8zM296.1,541.4h0.8v0.8h-0.8zM293.3,552.6h0.8v0.8h-0.8zM288.6,555.5h0.8v0.8h-0.8zM286.2,537.1h0.8v0.8h-0.8zM282.6,543.2h0.8v0.8h-0.8zM282.5,529.3h0.8v0.8h-0.8zM299.3,570.5h0.8v0.8h-0.8zM266.2,552.9h0.8v0.8h-0.8zM315.7,524.8h0.8v0.8h-0.8zM275.2,542.6h0.8v0.8h-0.8zM299.2,553.9h0.8v0.8h-0.8zM275.5,550.2h0.8v0.8h-0.8zM272.1,571.8h0.8v0.8h-0.8zM322.2,564.5h0.8v0.8h-0.8zM270.7,533.9h0.8v0.8h-0.8zM249.4,541.1h0.8v0.8h-0.8zM261.8,522.0h0.8v0.8h-0.8zM270.5,546.5h0.8v0.8h-0.8zM282.0,585.8h0.8v0.8h-0.8zM298.1,544.1h0.8v0.8h-0.8zM255.5,509.0h0.8v0.8h-0.8zM285.3,531.7h0.8v0.8h-0.8zM292.3,544.3h0.8v0.8h-0.8zM317.1,522.4h0.8v0.8h-0.8zM262.2,528.6h0.8v0.8h-0.8zM290.8,536.6h0.8v0.8h-0.8zM284.2,548.0h0.8v0.8h-0.8zM255.0,539.9h0.8v0.8h-0.8zM277.1,528.3h0.8v0.8h-0.8zM315.7,584.4h0.8v0.8h-0.8zM310.3,573.6h0.8v0.8h-0.8zM310.5,593.0h0.8v0.8h-0.8zM307.0,591.3h0.8v0.8h-0.8zM309.4,584.4h0.8v0.8h-0.8zM315.1,568.5h0.8v0.8h-0.8zM306.0,574.1h0.8v0.8h-0.8zM312.2,590.3h0.8v0.8h-0.8zM315.4,596.2h0.8v0.8h-0.8zM311.0,584.9h0.8v0.8h-0.8z" fill="#7070f0"/>
<path d="M283.3 588.7l-2 -0.2l-1.6 -0.5l-0.5 -0.3l-0.3 -0.4l-0.1 -0.3l0.1 -0.3l0.7 -0.7l0.8 -0.3l1.3 -0.3l1.3 -0.1l1.3 0.1l1.3 0.3l1.1 0.4l0.7 0.6l0.1 0.3l-0.1 0.3l-0.4 0.4l-0.5 0.3l-1.5 0.5l-1.7 0.2zM284.0 589.0l-2.3 0l-1.4 -0.2l-1 -0.4l-0.8 -0.4l-0.3 -0.3l-0.2 -0.4l0 -0.6l0.5 -0.7l1.4 -0.7l1.4 -0.3l1.7 -0.1l1.7 0.1l1.6 0.4l1.6 0.6l0.7 0.7l0 0.3l-0.1 0.3l-0.7 0.7l-1.7 0.7l-2.1 0.3zM285.0 589.4l-3 0.1l-1.4 -0.2l-1.4 -0.3l-0.9 -0.3l-1 -0.7l-0.4 -0.7l0 -0.6l0.2 -0.4l0.6 -0.6l1.3 -0.6l1.7 -0.4l2.3 -0.2l2.3 0.2l2 0.4l1.7 0.6l0.8 0.6l0.2 0.4l0 0.6l-0.3 0.4l-0.9 0.6l-1.9 0.7l-1.9 0.4zM286.0 589.7l-2 0.2l-2 0l-1.7 -0.1l-1.6 -0.4l-1 -0.4l-1.1 -0.7l-0.6 -0.6l-0.1 -0.4l0 -0.6l0.3 -0.7l0.4 -0.3l1.4 -0.8l2 -0.6l2.7 -0.3l2.6 0.2l2.6 0.5l2 0.6l0.8 0.5l0.7 0.5l0.2 0.4l-0.1 0.6l-0.5 0.6l-0.6 0.4l-1.7 0.7l-2.7 0.7zM283.3 590.3l-2 0l-1.6 -0.2l-1.7 -0.4l-1 -0.4l-1.1 -0.6l-0.7 -0.7l-0.3 -0.7l0 -0.6l0.1 -0.4l0.5 -0.6l0.5 -0.4l1 -0.6l1 -0.4l2.7 -0.5l2.6 -0.1l3.4 0.3l3 0.7l2.4 1l0.6 0.4l0.4 0.6l0 0.3l-0.3 0.7l-0.9 0.6l-1.5 0.7l-2.1 0.7l-1.6 0.3l-3.4 0.3zM284.3 590.7l-2 0l-2 -0.1l-2 -0.4l-1.7 -0.5l-1.3 -0.7l-1 -1l-0.3 -0.7l0.2 -1l0.4 -0.6l0.8 -0.7l1.9 -0.9l2.7 -0.6l3.3 -0.2l3.7 0.3l3.3 0.7l2.1 0.7l0.9 0.4l0.9 0.6l0.5 0.7l0 0.3l-0.4 0.7l-0.9 0.6l-1.4 0.7l-2 0.7l-1.7 0.4l-2 0.4l-2 0.2zM285.0 591.0l-2.3 0.1l-2.4 -0.1l-2 -0.4l-2.1 -0.6l-1.4 -0.7l-1.2 -1l-0.4 -1l0 -1l0.4 -0.6l0.7 -0.7l1.1 -0.7l1.3 -0.5l3 -0.7l3.6 -0.2l2 0.1l2.4 0.3l4.5 1l2.8 1.1l0.9 0.6l0.4 0.7l0 0.3l-0.3 0.7l-0.9 0.6l-1.4 0.7l-1.9 0.7l-2.5 0.6l-2 0.4l-2.3 0.3zM285.3 591.4l-2.6 0.1l-2.5 -0.2l-2.2 -0.3l-2.2 -0.7l-1.5 -0.6l-1.3 -1.1l-0.6 -0.9l-0.1 -0.7l0.1 -0.7l0.3 -0.6l1 -0.9l1 -0.6l1.3 -0.6l1.7 -0.5l1.6 -0.3l3.7 -0.3l2.3 0.1l2.4 0.3l2.4 0.4l2.8 0.7l3.1 1l1.1 0.7l0.6 0.6l0.1 0.7l-0.3 0.7l-0.9 0.6l-1.3 0.7l-1.8 0.7l-3.2 0.8l-2.3 0.5l-2.7 0.4zM286.0 591.7l-3 0.1l-2.7 -0.1l-2.6 -0.4l-2.4 -0.6l-2 -1l-1.2 -1l-0.6 -1l-0.1 -0.7l0.1 -0.7l0.6 -1l0.7 -0.6l1 -0.7l1.5 -0.7l1.7 -0.5l2 -0.4l2 -0.2l2 0l2.3 0l2.7 0.3l2.7 0.5l3.3 0.8l2 0.5l1.7 0.7l0.9 0.7l0.5 0.6l0.1 0.4l-0.1 0.6l-0.5 0.7l-1 0.7l-1.4 0.6l-2 0.7l-3.2 0.8l-2.5 0.5l-2.5 0.4zM286.3 592.0l-3 0.2l-3 -0.1l-3 -0.4l-2.4 -0.7l-2.1 -1l-1.3 -1l-0.5 -0.7l-0.4 -0.6l-0.1 -0.7l0.1 -0.7l0.6 -1l0.8 -0.8l1.4 -0.8l1.5 -0.7l1.8 -0.5l2 -0.4l2 -0.2l2.3 -0.1l2.7 0.1l3 0.3l3.6 0.7l3.4 0.8l2.1 0.6l1.2 0.6l1 0.8l0.4 0.6l0 0.4l-0.1 0.6l-0.4 0.7l-0.9 0.7l-1.3 0.7l-2.4 0.8l-3.1 0.8l-3.2 0.6l-2.7 0.4zM287.0 592.3l-3.3 0.3l-3.4 -0.1l-3.3 -0.5l-2.7 -0.7l-2.1 -1l-1 -0.6l-0.7 -0.7l-0.5 -0.7l-0.3 -0.6l0 -1l0.2 -0.7l0.6 -1l0.8 -0.8l1.5 -0.9l1.6 -0.6l1.9 -0.6l2 -0.4l2.4 -0.2l2.3 -0.1l3 0.1l3 0.4l4 0.7l3.3 0.7l2 0.6l1.4 0.6l1 0.6l0.7 0.9l0.2 1l-0.5 1l-1.1 0.9l-1.3 0.7l-2 0.7l-3.4 0.9l-3.3 0.7l-3 0.4zM287.7 592.7l-3.7 0.3l-3.7 -0.1l-3.3 -0.4l-3.1 -0.8l-2.6 -1.2l-1.1 -0.8l-0.7 -0.7l-0.4 -0.7l-0.3 -0.6l-0.1 -1l0.2 -0.7l0.6 -1l1.1 -1l1.4 -0.9l1.9 -0.8l2.1 -0.6l2.1 -0.4l2.6 -0.2l2.3 -0.1l3 0.1l3.3 0.4l4.7 0.8l3.4 0.7l2.1 0.7l1.4 0.6l0.9 0.7l0.7 1l0.1 1l-0.4 1l-1 1l-1.5 0.9l-2 0.7l-2.8 0.7l-3.9 0.9l-3.3 0.5zM284.3 593.3l-3.6 0l-3.4 -0.3l-3 -0.7l-2.5 -1l-1.3 -0.6l-0.9 -0.7l-0.8 -0.7l-0.5 -0.6l-0.3 -0.7l-0.2 -0.7l0.1 -1l0.2 -0.6l0.7 -1l1.2 -1l1.7 -1l1.7 -0.7l2.3 -0.6l2.3 -0.5l2.7 -0.2l2.6 -0.1l3 0.2l3.4 0.3l5 0.8l3.4 0.8l2.1 0.6l1.5 0.8l1.1 0.9l0.6 1l0.2 0.7l-0.1 0.6l-0.5 1l-1.3 1.2l-2 1l-3 0.9l-4.7 1l-4 0.6l-3.7 0.3zM286.0 593.7l-4 0.1l-3.7 -0.3l-3.6 -0.6l-3 -1l-2.4 -1.2l-1 -0.8l-0.8 -0.9l-0.4 -0.7l-0.3 -1l0.1 -1l0.2 -0.6l1 -1.4l1.2 -1l1.7 -0.9l1.8 -0.7l2.4 -0.7l2.5 -0.5l2.6 -0.2l2.7 -0.1l3.3 0.1l3.7 0.4l5.3 0.9l3.4 0.7l2 0.6l1.6 0.8l1.3 1l0.7 1l0.2 0.6l0 0.7l-0.2 0.7l-0.3 0.6l-0.6 0.7l-0.7 0.6l-1.7 0.9l-2.7 1l-3.6 0.9l-4.7 0.8l-4 0.5zM287.3 594.0l-4.3 0.3l-4.3 -0.3l-4 -0.6l-3.5 -1.1l-2.6 -1.3l-0.9 -0.7l-1 -1l-0.5 -0.6l-0.4 -1l0 -1l0.3 -1l0.9 -1.4l1.1 -1l1.6 -1l2 -0.8l2.3 -0.7l2.7 -0.6l2.6 -0.3l3 -0.2l3.4 0.1l3.6 0.4l5.4 0.7l4 0.8l2.3 0.7l2 0.9l1.4 1l0.7 1l0.3 0.7l0.1 0.7l-0.2 0.9l-0.3 0.7l-0.5 0.7l-0.7 0.7l-1.6 1l-2.5 0.9l-3 0.8l-5 1l-4.4 0.6zM284.7 594.7l-4.4 -0.1l-4 -0.4l-3.6 -0.8l-3.4 -1.2l-1.3 -0.7l-1.1 -0.8l-0.9 -0.8l-0.7 -0.9l-0.3 -0.7l-0.3 -1l0.1 -1l0.3 -1l1 -1.3l1.2 -1l1.7 -1l2.4 -1l2.6 -0.8l2.7 -0.5l3 -0.3l3 -0.1l3.6 0.1l4 0.4l5.7 0.8l3.7 0.8l2.3 0.7l1.8 0.9l1.3 1l0.6 0.7l0.4 0.6l0.2 0.7l0.1 1l-0.3 1l-0.4 0.7l-0.5 0.6l-0.9 0.8l-2.1 1.2l-3.2 1.1l-4.7 1.1l-5 0.8l-4.6 0.4zM287.0 595.0l-4.7 0.2l-4.6 -0.3l-4.4 -0.7l-3.7 -1.2l-1.5 -0.7l-1.4 -0.8l-1.1 -0.8l-1 -1l-0.7 -1l-0.3 -1l-0.1 -1l0.3 -1l0.8 -1.4l1.4 -1.3l1.7 -1.1l2.3 -1.1l2.7 -0.8l3 -0.6l3 -0.4l3.3 -0.2l3.7 0.1l4.3 0.3l6 0.9l4 0.8l2.5 0.8l2 1l1.3 1l1.1 1.3l0.3 0.7l0.1 1l-0.1 1l-0.3 0.6l-0.6 0.9l-0.7 0.8l-2 1.3l-2.6 1.1l-3.7 1l-5.6 1.1l-4.7 0.5zM285.0 595.7l-4.7 0l-4.6 -0.5l-4.4 -0.9l-3.4 -1.3l-1.6 -0.8l-1.3 -0.9l-1.1 -1l-0.9 -1l-0.5 -1l-0.2 -1l0 -1l0.4 -1l0.8 -1.3l1.5 -1.3l2.2 -1.4l2.5 -1l2.6 -0.8l3.4 -0.7l3.3 -0.4l3.3 -0.1l4 0.1l4.4 0.4l6 0.8l4 0.9l2.6 0.8l2 1l1.6 1.4l1 1.3l0.3 1l0 1l-0.2 1l-0.3 0.8l-0.7 0.9l-1 0.9l-1 0.7l-1.3 0.7l-3.4 1.2l-4.3 1.1l-6 0.9l-5 0.5zM287.7 596.0l-5.4 0.3l-5 -0.3l-4.6 -0.8l-2.4 -0.6l-2 -0.7l-2 -0.9l-1.6 -0.9l-1.5 -1.1l-1 -1l-0.7 -1l-0.4 -1l-0.2 -1l0.3 -1.3l0.3 -0.7l0.7 -1l1.4 -1.3l2.1 -1.4l2.6 -1.2l3 -1l3 -0.6l3.7 -0.5l3.7 -0.3l4 0.1l4.6 0.4l6.4 0.9l4.3 0.9l2.7 0.8l2.3 1.2l1.7 1.3l1 1.4l0.4 1l0.1 1l-0.1 1l-0.4 1l-0.6 1l-0.8 0.8l-1 0.8l-1.3 0.8l-2.7 1.1l-3.6 1.1l-5.7 1.1l-5.3 0.6zM243.3 588.0l-0.6 0.2l-0.7 0.1l-1 -0.3l-0.5 -0.3l-0.2 -0.4l0 -0.6l0.2 -0.4l0.5 -0.3l0.7 -0.2l0.6 -0.1l1 0.3l0.6 0.3l0.3 0.7l-0.3 0.7l-0.6 0.3zM284.3 596.7l-5 -0.1l-5 -0.6l-2.3 -0.4l-2.3 -0.7l-3.7 -1.4l-1.7 -0.8l-1.5 -1l-1.1 -1l-0.9 -1l-0.6 -1l-0.4 -1.4l0.1 -1l0.3 -1l0.6 -1l0.6 -0.6l1.6 -1.5l2.3 -1.4l2.7 -1.2l3.3 -1l3.4 -0.7l3.6 -0.4l3.7 -0.2l4.3 0.1l5 0.5l6.4 0.9l4 0.8l2.6 0.9l2.4 1.2l1.6 1.4l1.1 1.6l0.4 1l0.1 1.3l-0.1 1l-0.5 1l-0.6 1l-1 1l-1.4 1l-1.3 0.7l-1.7 0.7l-2 0.7l-5 1.1l-6.3 1l-5.7 0.5zM243.7 589.4l-1.4 0.2l-1 -0.1l-1 -0.2l-1 -0.6l-0.6 -0.7l-0.3 -0.7l0 -0.6l0.3 -0.7l0.6 -0.7l0.5 -0.3l0.9 -0.4l1 -0.2l1 0l1 0.2l1 0.3l0.7 0.4l0.4 0.4l0.4 0.6l0.2 0.7l-0.2 0.7l-0.4 0.6l-0.4 0.4l-0.7 0.4l-1 0.3zM286.7 597.0l-5.7 0.1l-5.3 -0.4l-2.7 -0.4l-2.3 -0.5l-2.4 -0.7l-2 -0.8l-2 -0.9l-1.8 -1.1l-1.4 -1l-1.3 -1.3l-0.9 -1.3l-0.4 -1l0 -1l0.2 -1l0.4 -0.7l0.7 -1l1.8 -1.7l2.4 -1.5l2.7 -1.3l3.3 -1.1l3.7 -0.8l3.6 -0.5l4 -0.3l4.4 0.1l5 0.4l6.3 0.9l4.7 0.9l3 1l2.3 1.2l1.8 1.4l0.6 0.6l0.7 1l0.4 1l0.2 1.4l-0.2 1.3l-0.3 1l-0.7 1l-0.9 1l-1.2 1l-1.4 0.8l-1.7 0.8l-1.6 0.6l-4 1.1l-6.4 1.1l-5.6 0.6zM243.7 590.4l-1.7 0.1l-1.3 -0.1l-1.4 -0.5l-1 -0.6l-0.9 -1l-0.3 -1l0 -1l0.6 -1l0.6 -0.6l1.2 -0.7l1.2 -0.4l1.3 -0.1l1.3 0.1l1.4 0.2l1.2 0.5l1.1 0.7l0.7 0.7l0.3 0.6l0.1 1l-0.2 0.7l-0.5 0.7l-1.1 0.7l-1.1 0.6l-1.5 0.4zM288.7 597.4l-6 0.3l-5.7 -0.3l-2.7 -0.4l-2.6 -0.4l-2.7 -0.7l-2.3 -0.8l-2.4 -0.9l-2 -1.1l-1.7 -1.1l-1.6 -1.3l-1.3 -1.4l-0.8 -1.3l-0.2 -1l0.2 -1l0.4 -0.7l0.7 -1l2.2 -2l2.5 -1.6l3 -1.5l3.3 -1.1l3.7 -0.9l4 -0.5l4 -0.3l5 0l5 0.4l6 0.8l5 1l3 0.9l2.6 1.2l1 0.7l1.2 0.9l1.3 1.7l0.5 1l0.2 1.3l0 1.4l-0.3 1l-0.8 1.3l-0.7 0.9l-1 0.9l-1.4 1l-1.3 0.7l-1.7 0.7l-4 1.2l-5.6 1.2l-6 0.8zM244.7 591.1l-2 0.2l-1.7 -0.1l-2 -0.5l-1.4 -0.7l-1 -1l-0.4 -0.7l-0.3 -0.6l0 -0.7l0 -0.7l0.3 -0.6l0.4 -0.7l1 -1l1.2 -0.7l1.5 -0.4l1.7 -0.2l1.7 0.1l1.6 0.3l1.7 0.6l1.6 1l1 1l0.4 0.6l0.1 0.7l-0.3 1l-0.8 1l-1.3 0.9l-1.7 0.8l-1.3 0.4zM286.3 598.0l-5 0.1l-4.6 -0.3l-4.7 -0.6l-4.3 -1.1l-3.4 -1.2l-3 -1.5l-2.6 -1.7l-4 -3.2l-1 -0.5l-1 0.2l-3.8 2.1l-1.5 0.7l-1.4 0.5l-1.7 0.3l-1.3 0.2l-1.7 0l-1.3 -0.2l-1.3 -0.4l-1 -0.5l-0.9 -0.6l-0.8 -0.6l-0.5 -0.7l-0.4 -1l-0.2 -0.7l0.1 -1l0.3 -1l0.4 -0.6l0.7 -0.7l0.9 -0.7l2 -0.9l1.4 -0.3l1.3 -0.1l2.3 0.2l2.4 0.5l2.2 1l3.8 2.1l1 0.2l0.6 -0.3l0.7 -0.4l3.3 -2.6l2.4 -1.7l2.4 -1.3l2.6 -1.1l3.3 -1.1l3.7 -0.8l4 -0.5l4.3 -0.3l5 0l5 0.4l6.3 0.9l5 1l3.4 1.1l2.6 1.4l1 0.7l1 0.9l1.3 1.7l0.5 1l0.2 1.3l0 1.4l-0.5 1.3l-0.7 1.3l-0.9 1l-1.2 1.1l-1.7 1l-1.6 0.8l-1.7 0.7l-4.7 1.3l-7 1.2l-6 0.6zM285.0 598.7l-4 0l-4.3 -0.3l-4.4 -0.5l-3.6 -0.8l-3 -0.9l-2.7 -1.1l-2.7 -1.3l-4.6 -2.7l-1 -0.4l-1 -0.2l-1 0l-1 0.1l-4.7 1.5l-2.7 0.5l-2.6 0.1l-2.4 -0.3l-1.3 -0.4l-1.3 -0.7l-1 -0.6l-0.7 -0.8l-0.6 -0.9l-0.4 -1l-0.2 -1l0.2 -1l0.3 -1l0.5 -0.7l1.2 -1.2l1.7 -0.9l2 -0.7l2.3 -0.3l2.7 0.2l2.3 0.5l4.7 1.5l1 0.1l1 0l1 -0.2l1 -0.4l4.4 -2.6l2.2 -1.1l2.4 -1l2.3 -0.8l3.3 -0.9l3.7 -0.6l3.7 -0.4l3.6 -0.2l5 0l5.7 0.5l6.7 1l4.6 1l3 1.1l2.8 1.4l2.1 1.7l0.8 1l0.6 1l0.5 1.3l0.2 1.4l-0.1 1.3l-0.5 1.3l-0.8 1.4l-1.2 1.3l-1.4 1l-1.6 1l-1.7 0.8l-2 0.8l-2.3 0.7l-3 0.7l-7 1.1l-3.4 0.4l-3.3 0.2zM287.3 599.3l-4.3 0.2l-4.3 -0.1l-4.7 -0.5l-4 -0.6l-3.3 -0.9l-3 -0.9l-2.8 -1.2l-5.2 -2.5l-1.4 -0.4l-1 -0.2l-1 0l-1.3 0.1l-4.7 1l-2.3 0.3l-2.7 0.1l-2.3 -0.4l-1.7 -0.5l-1.3 -0.7l-1.2 -0.8l-1 -1l-0.7 -1l-0.4 -1l-0.2 -1l0.1 -1.3l0.4 -1l0.3 -0.7l0.7 -0.9l0.8 -0.7l1.9 -1.2l2.3 -0.8l2.3 -0.4l2.4 0l2.6 0.4l5 1l1.4 0.1l1 -0.1l1 -0.2l1.3 -0.5l4.7 -2.2l2.3 -1l4.3 -1.4l3.4 -0.8l3 -0.5l3.3 -0.4l4 -0.2l5.3 0l5.4 0.4l6.3 0.9l5 1.1l3.7 1.2l3 1.5l1.3 0.9l1 0.8l0.9 1l0.7 1l0.6 1.4l0.3 1.3l0 1.7l-0.3 1.3l-0.7 1.3l-1 1.4l-1.5 1.3l-1.7 1.2l-1.6 0.9l-2 0.8l-2.7 0.9l-2.7 0.6l-6.3 1.2l-6.7 0.7zM288.0 600.3l-4.7 0.2l-4.3 0l-4.3 -0.4l-4.4 -0.6l-3.3 -0.7l-3 -0.9l-3 -1l-5.3 -2.2l-1.4 -0.4l-1.3 -0.3l-2.3 0l-5 0.7l-2.4 0.2l-2.6 -0.1l-2.4 -0.5l-1.6 -0.5l-1.7 -0.8l-1.3 -0.9l-1.2 -1.1l-0.9 -1.3l-0.5 -1.4l-0.2 -1.3l0.2 -1.3l0.3 -1l0.6 -1l0.8 -1l0.9 -0.8l1 -0.7l1.3 -0.7l2.7 -0.9l2.3 -0.4l2.3 -0.1l2.4 0.2l5 0.7l1.3 0l1.3 -0.1l2.4 -0.6l7.3 -2.9l4.7 -1.3l3 -0.6l3.6 -0.6l3.7 -0.3l3.3 -0.2l6 0l5 0.3l5.4 0.9l6 1.3l4 1.4l3 1.4l1.4 1l1.2 1l1 1l0.7 1l0.7 1.3l0.5 1.7l0.1 1.6l-0.2 1.4l-0.7 1.6l-1 1.4l-1.4 1.5l-1.7 1.2l-2 1.2l-2 0.9l-2.6 0.9l-2.4 0.7l-3.3 0.7l-3.7 0.7l-4 0.5l-3.3 0.3zM286.3 602.0l-4.3 0.1l-4 -0.1l-4.3 -0.4l-3.7 -0.5l-3 -0.6l-3 -0.7l-3.3 -1l-5.7 -2l-2.7 -0.6l-2.3 -0.1l-5.3 0.4l-2.7 0l-2.7 -0.3l-2.6 -0.6l-2 -0.8l-1.7 -0.9l-1.6 -1.2l-1.2 -1.4l-0.8 -1.3l-0.6 -1.7l-0.1 -1.6l0.3 -1.7l0.6 -1.3l0.6 -1l0.9 -1l1.1 -1l1.1 -0.8l1.4 -0.7l1.6 -0.7l1.7 -0.4l2 -0.4l2.7 -0.2l7 0.4l2.6 -0.1l3 -0.7l8 -2.7l5.7 -1.3l3.7 -0.6l3.6 -0.4l11 -0.7l4 0.1l3.4 0.4l7.6 1.9l5.4 1.6l3.3 1.5l2.7 1.5l2.3 1.9l1.6 2l0.8 1.7l0.5 1.7l0 2l-0.3 1.6l-0.8 1.7l-1.2 1.7l-1.6 1.5l-2 1.5l-2 1.1l-2.7 1.2l-2.6 0.9l-3.4 0.9l-3.6 0.8l-4 0.6l-4.4 0.5l-4 0.3zM288.0 549.8l-0.3 0l-0.7 0l-0.3 -0.2l-0.5 -0.6l0 -0.7l0 -0.3l0.2 -0.3l0.6 -0.5l0.3 0l0.7 0l0.6 0.5l0.2 0.3l0 0.3l0 0.7l-0.5 0.6l-0.3 0.2zM323.3 592.5l-1.1 1.5l-1.8 1.7l-1.7 1.3l-2 1.3l-2.4 1.2l-2.3 1l-2.7 1l-3 0.9l-3.3 0.8l-3.3 0.7l-4 0.6l-3.7 0.4l-3.7 0.3l-4 0.1l-7.3 -0.1l-5.7 -0.5l-6 -0.9l-4.3 -1l-7.7 -2.1l-2.3 -0.5l-2.7 -0.3l-5.6 -0.3l-2.7 -0.2l-3 -0.5l-2.7 -0.7l-2.3 -1l-1.7 -0.9l-1.6 -1.2l-1.5 -1.4l-1.3 -1.7l-0.8 -1.7l-0.5 -1.6l-0.2 -1.7l0.2 -1.7l0.5 -1.6l0.8 -1.7l1.3 -1.7l1.5 -1.4l1.6 -1.2l2.4 -1.2l2 -0.8l2.3 -0.6l3 -0.5l2.7 -0.2l6 -0.3l3 -0.4l9.3 -2.5l4.3 -1l4.4 -0.7l8 -1l3 -0.5l2.6 -0.7l5.4 -1.8l1.6 -0.4l2 -0.3l1.7 0l1.3 0.2l1.7 0.3l1.3 0.5l2 1.1l3.3 2.4l1.7 1l2.1 1l5.3 2.2l2.6 1.3l2.4 1.3l2.3 1.7l2 1.9l1.3 1.6" fill="none" stroke="#4646ee" stroke-width="0.9"/>
<ellipse cx="287.5" cy="548.8" rx="5.2" ry="5.6" transform="rotate(0 287.5 548.8)" fill="none" stroke="#4646ee" stroke-width="0.8"/>
<line x1="247.50" y1="502.50" x2="247.50" y2="617.50" stroke="#333" stroke-width="1.0"/>
<line x1="207.50" y1="573.50" x2="323.50" y2="573.50" stroke="#333" stroke-width="1.0"/>
<rect x="207.50" y="502.50" width="116.00" height="115.00" fill="none" stroke="#333" stroke-width="1.0"/>
<line x1="211.90" y1="617.50" x2="211.90" y2="621.10" stroke="#333" stroke-width="0.8"/><line x1="251.10" y1="617.50" x2="251.10" y2="621.10" stroke="#333" stroke-width="0.8"/><line x1="283.20" y1="617.50" x2="283.20" y2="621.10" stroke="#333" stroke-width="0.8"/><line x1="313.80" y1="617.50" x2="313.80" y2="621.10" stroke="#333" stroke-width="0.8"/><line x1="260.76" y1="617.50" x2="260.76" y2="619.50" stroke="#444" stroke-width="0.7"/><line x1="266.42" y1="617.50" x2="266.42" y2="619.50" stroke="#444" stroke-width="0.7"/><line x1="270.43" y1="617.50" x2="270.43" y2="619.50" stroke="#444" stroke-width="0.7"/><line x1="273.54" y1="617.50" x2="273.54" y2="619.50" stroke="#444" stroke-width="0.7"/><line x1="276.08" y1="617.50" x2="276.08" y2="619.50" stroke="#444" stroke-width="0.7"/><line x1="278.23" y1="617.50" x2="278.23" y2="619.50" stroke="#444" stroke-width="0.7"/><line x1="280.09" y1="617.50" x2="280.09" y2="619.50" stroke="#444" stroke-width="0.7"/><line x1="281.73" y1="617.50" x2="281.73" y2="619.50" stroke="#444" stroke-width="0.7"/><line x1="292.41" y1="617.50" x2="292.41" y2="619.50" stroke="#444" stroke-width="0.7"/><line x1="297.80" y1="617.50" x2="297.80" y2="619.50" stroke="#444" stroke-width="0.7"/><line x1="301.62" y1="617.50" x2="301.62" y2="619.50" stroke="#444" stroke-width="0.7"/><line x1="304.59" y1="617.50" x2="304.59" y2="619.50" stroke="#444" stroke-width="0.7"/><line x1="307.01" y1="617.50" x2="307.01" y2="619.50" stroke="#444" stroke-width="0.7"/><line x1="309.06" y1="617.50" x2="309.06" y2="619.50" stroke="#444" stroke-width="0.7"/><line x1="310.83" y1="617.50" x2="310.83" y2="619.50" stroke="#444" stroke-width="0.7"/><line x1="312.40" y1="617.50" x2="312.40" y2="619.50" stroke="#444" stroke-width="0.7"/><line x1="219.74" y1="617.50" x2="219.74" y2="619.50" stroke="#444" stroke-width="0.7"/><line x1="227.58" y1="617.50" x2="227.58" y2="619.50" stroke="#444" stroke-width="0.7"/><line x1="233.46" y1="617.50" x2="233.46" y2="619.50" stroke="#444" stroke-width="0.7"/><line x1="239.34" y1="617.50" x2="239.34" y2="619.50" stroke="#444" stroke-width="0.7"/><line x1="243.26" y1="617.50" x2="243.26" y2="619.50" stroke="#444" stroke-width="0.7"/><line x1="247.18" y1="617.50" x2="247.18" y2="619.50" stroke="#444" stroke-width="0.7"/><line x1="203.90" y1="609.50" x2="207.50" y2="609.50" stroke="#333" stroke-width="0.8"/><line x1="203.90" y1="572.50" x2="207.50" y2="572.50" stroke="#333" stroke-width="0.8"/><line x1="203.90" y1="540.50" x2="207.50" y2="540.50" stroke="#333" stroke-width="0.8"/><line x1="203.90" y1="512.50" x2="207.50" y2="512.50" stroke="#333" stroke-width="0.8"/><line x1="205.50" y1="562.87" x2="207.50" y2="562.87" stroke="#444" stroke-width="0.7"/><line x1="205.50" y1="557.23" x2="207.50" y2="557.23" stroke="#444" stroke-width="0.7"/><line x1="205.50" y1="553.23" x2="207.50" y2="553.23" stroke="#444" stroke-width="0.7"/><line x1="205.50" y1="550.13" x2="207.50" y2="550.13" stroke="#444" stroke-width="0.7"/><line x1="205.50" y1="547.60" x2="207.50" y2="547.60" stroke="#444" stroke-width="0.7"/><line x1="205.50" y1="545.46" x2="207.50" y2="545.46" stroke="#444" stroke-width="0.7"/><line x1="205.50" y1="543.60" x2="207.50" y2="543.60" stroke="#444" stroke-width="0.7"/><line x1="205.50" y1="541.96" x2="207.50" y2="541.96" stroke="#444" stroke-width="0.7"/><line x1="205.50" y1="532.07" x2="207.50" y2="532.07" stroke="#444" stroke-width="0.7"/><line x1="205.50" y1="527.14" x2="207.50" y2="527.14" stroke="#444" stroke-width="0.7"/><line x1="205.50" y1="523.64" x2="207.50" y2="523.64" stroke="#444" stroke-width="0.7"/><line x1="205.50" y1="520.93" x2="207.50" y2="520.93" stroke="#444" stroke-width="0.7"/><line x1="205.50" y1="518.71" x2="207.50" y2="518.71" stroke="#444" stroke-width="0.7"/><line x1="205.50" y1="516.84" x2="207.50" y2="516.84" stroke="#444" stroke-width="0.7"/><line x1="205.50" y1="515.21" x2="207.50" y2="515.21" stroke="#444" stroke-width="0.7"/><line x1="205.50" y1="513.78" x2="207.50" y2="513.78" stroke="#444" stroke-width="0.7"/><line x1="205.50" y1="602.10" x2="207.50" y2="602.10" stroke="#444" stroke-width="0.7"/><line x1="205.50" y1="594.70" x2="207.50" y2="594.70" stroke="#444" stroke-width="0.7"/><line x1="205.50" y1="589.15" x2="207.50" y2="589.15" stroke="#444" stroke-width="0.7"/><line x1="205.50" y1="583.60" x2="207.50" y2="583.60" stroke="#444" stroke-width="0.7"/><line x1="205.50" y1="579.90" x2="207.50" y2="579.90" stroke="#444" stroke-width="0.7"/><line x1="205.50" y1="576.20" x2="207.50" y2="576.20" stroke="#444" stroke-width="0.7"/><rect x="230.00" y="617.80" width="3.50" height="2.60" fill="#111"/><rect x="205.10" y="594.50" width="2.40" height="3.20" fill="#111"/>
<text x="210.10" y="510.80" font-size="8.5" text-anchor="start" fill="#222">0.38</text>
<text x="321.10" y="510.80" font-size="8.5" text-anchor="end" fill="#222">7.05</text>
<text x="210.10" y="612.60" font-size="8.5" text-anchor="start" fill="#222">11.4</text>
<text x="321.10" y="612.60" font-size="8.5" text-anchor="end" fill="#222">81.1</text>
<text x="144.80" y="249.10" font-size="11" text-anchor="middle" fill="#111">-TNF</text>
<text x="270.20" y="249.10" font-size="10.8" text-anchor="middle" fill="#111">+TNF</text>
<text x="56.90" y="287.80" font-size="10.8" text-anchor="end" fill="#111">Anti-NK1.1</text>
<text x="57.20" y="409.00" font-size="10.8" text-anchor="end" fill="#111">IL-12</text>
<text x="57.20" y="524.10" font-size="10.8" text-anchor="end" fill="#111">IL-12 +</text>
<text x="57.20" y="537.30" font-size="10.8" text-anchor="end" fill="#111">IL-18</text>
<line x1="68.00" y1="268.00" x2="68.00" y2="555.20" stroke="#333" stroke-width="1.3"/>
<path d="M68,259.6 L72.1,269.2 L68,267.2 L63.9,269.2Z" fill="#111"/>
<text x="71.60" y="591.00" font-size="10.9" text-anchor="middle" fill="#111" transform="rotate(-90 71.60 591.00)">CD107a PE</text>
<text x="82.10" y="642.70" font-size="10.8" text-anchor="start" fill="#111">IFN-γ APC</text>
<line x1="141.30" y1="639.40" x2="315.00" y2="639.40" stroke="#333" stroke-width="1.3"/>
<path d="M323.3,639.4 L313.3,635.2 L315.3,639.4 L313.3,643.6Z" fill="#111"/>
<rect x="422.20" y="386.00" width="12.60" height="13.10" fill="#d3d3d3"/>
<rect x="441.60" y="379.00" width="12.60" height="20.10" fill="#8c8cfb"/>
<rect x="473.20" y="332.10" width="12.60" height="67.00" fill="#d3d3d3"/>
<rect x="492.60" y="319.80" width="12.60" height="79.30" fill="#8c8cfb"/>
<rect x="524.20" y="385.00" width="12.60" height="14.10" fill="#d3d3d3"/>
<rect x="543.60" y="379.00" width="12.60" height="20.10" fill="#8c8cfb"/>
<rect x="575.20" y="372.10" width="12.60" height="27.00" fill="#d3d3d3"/>
<rect x="594.60" y="370.70" width="12.60" height="28.40" fill="#8c8cfb"/>
<line x1="428.50" y1="375.20" x2="447.90" y2="362.30" stroke="#111" stroke-width="1.0"/>
<line x1="428.50" y1="384.30" x2="447.90" y2="375.90" stroke="#111" stroke-width="1.0"/>
<line x1="428.50" y1="386.30" x2="447.90" y2="378.80" stroke="#111" stroke-width="1.0"/>
<line x1="428.50" y1="388.40" x2="447.90" y2="381.80" stroke="#111" stroke-width="1.0"/>
<line x1="428.50" y1="390.20" x2="447.90" y2="385.00" stroke="#111" stroke-width="1.0"/>
<line x1="428.50" y1="391.90" x2="447.90" y2="388.40" stroke="#111" stroke-width="1.0"/>
<line x1="479.50" y1="315.50" x2="498.90" y2="295.30" stroke="#111" stroke-width="1.0"/>
<line x1="479.50" y1="323.60" x2="498.90" y2="305.30" stroke="#111" stroke-width="1.0"/>
<line x1="479.50" y1="329.80" x2="498.90" y2="311.70" stroke="#111" stroke-width="1.0"/>
<line x1="479.50" y1="330.50" x2="498.90" y2="313.80" stroke="#111" stroke-width="1.0"/>
<line x1="479.50" y1="336.00" x2="498.90" y2="324.90" stroke="#111" stroke-width="1.0"/>
<line x1="479.50" y1="336.50" x2="498.90" y2="328.30" stroke="#111" stroke-width="1.0"/>
<line x1="479.50" y1="337.00" x2="498.90" y2="331.70" stroke="#111" stroke-width="1.0"/>
<line x1="479.50" y1="340.90" x2="498.90" y2="339.40" stroke="#111" stroke-width="1.0"/>
<line x1="530.50" y1="372.40" x2="549.90" y2="362.30" stroke="#111" stroke-width="1.0"/>
<line x1="530.50" y1="382.90" x2="549.90" y2="376.30" stroke="#111" stroke-width="1.0"/>
<line x1="530.50" y1="385.00" x2="549.90" y2="378.00" stroke="#111" stroke-width="1.0"/>
<line x1="530.50" y1="387.10" x2="549.90" y2="380.80" stroke="#111" stroke-width="1.0"/>
<line x1="530.50" y1="388.50" x2="549.90" y2="383.50" stroke="#111" stroke-width="1.0"/>
<line x1="530.50" y1="389.80" x2="549.90" y2="386.00" stroke="#111" stroke-width="1.0"/>
<line x1="581.50" y1="349.80" x2="600.90" y2="343.80" stroke="#111" stroke-width="1.0"/>
<line x1="581.50" y1="364.50" x2="600.90" y2="364.50" stroke="#111" stroke-width="1.0"/>
<line x1="581.50" y1="367.50" x2="600.90" y2="368.00" stroke="#111" stroke-width="1.0"/>
<line x1="581.50" y1="375.40" x2="600.90" y2="374.40" stroke="#111" stroke-width="1.0"/>
<line x1="581.50" y1="377.50" x2="600.90" y2="376.00" stroke="#111" stroke-width="1.0"/>
<line x1="581.50" y1="381.40" x2="600.90" y2="378.20" stroke="#111" stroke-width="1.0"/>
<line x1="581.50" y1="386.50" x2="600.90" y2="382.30" stroke="#111" stroke-width="1.0"/>
<circle cx="428.50" cy="375.20" r="2.8" fill="#828282" stroke="#111" stroke-width="1.05"/>
<circle cx="428.50" cy="384.30" r="2.8" fill="#828282" stroke="#111" stroke-width="1.05"/>
<circle cx="428.50" cy="386.30" r="2.8" fill="#828282" stroke="#111" stroke-width="1.05"/>
<circle cx="428.50" cy="388.40" r="2.8" fill="#828282" stroke="#111" stroke-width="1.05"/>
<circle cx="428.50" cy="390.20" r="2.8" fill="#828282" stroke="#111" stroke-width="1.05"/>
<circle cx="428.50" cy="391.90" r="2.8" fill="#828282" stroke="#111" stroke-width="1.05"/>
<circle cx="447.90" cy="362.30" r="2.8" fill="#5454f4" stroke="#111" stroke-width="1.05"/>
<circle cx="447.90" cy="375.90" r="2.8" fill="#5454f4" stroke="#111" stroke-width="1.05"/>
<circle cx="447.90" cy="378.80" r="2.8" fill="#5454f4" stroke="#111" stroke-width="1.05"/>
<circle cx="447.90" cy="381.80" r="2.8" fill="#5454f4" stroke="#111" stroke-width="1.05"/>
<circle cx="447.90" cy="385.00" r="2.8" fill="#5454f4" stroke="#111" stroke-width="1.05"/>
<circle cx="447.90" cy="388.40" r="2.8" fill="#5454f4" stroke="#111" stroke-width="1.05"/>
<circle cx="479.50" cy="315.50" r="2.8" fill="#828282" stroke="#111" stroke-width="1.05"/>
<circle cx="479.50" cy="323.60" r="2.8" fill="#828282" stroke="#111" stroke-width="1.05"/>
<circle cx="479.50" cy="329.80" r="2.8" fill="#828282" stroke="#111" stroke-width="1.05"/>
<circle cx="479.50" cy="330.50" r="2.8" fill="#828282" stroke="#111" stroke-width="1.05"/>
<circle cx="479.50" cy="336.00" r="2.8" fill="#828282" stroke="#111" stroke-width="1.05"/>
<circle cx="479.50" cy="336.50" r="2.8" fill="#828282" stroke="#111" stroke-width="1.05"/>
<circle cx="479.50" cy="337.00" r="2.8" fill="#828282" stroke="#111" stroke-width="1.05"/>
<circle cx="479.50" cy="340.90" r="2.8" fill="#828282" stroke="#111" stroke-width="1.05"/>
<circle cx="498.90" cy="295.30" r="2.8" fill="#5454f4" stroke="#111" stroke-width="1.05"/>
<circle cx="498.90" cy="305.30" r="2.8" fill="#5454f4" stroke="#111" stroke-width="1.05"/>
<circle cx="498.90" cy="311.70" r="2.8" fill="#5454f4" stroke="#111" stroke-width="1.05"/>
<circle cx="498.90" cy="313.80" r="2.8" fill="#5454f4" stroke="#111" stroke-width="1.05"/>
<circle cx="498.90" cy="324.90" r="2.8" fill="#5454f4" stroke="#111" stroke-width="1.05"/>
<circle cx="498.90" cy="328.30" r="2.8" fill="#5454f4" stroke="#111" stroke-width="1.05"/>
<circle cx="498.90" cy="331.70" r="2.8" fill="#5454f4" stroke="#111" stroke-width="1.05"/>
<circle cx="498.90" cy="339.40" r="2.8" fill="#5454f4" stroke="#111" stroke-width="1.05"/>
<circle cx="530.50" cy="372.40" r="2.8" fill="#828282" stroke="#111" stroke-width="1.05"/>
<circle cx="530.50" cy="382.90" r="2.8" fill="#828282" stroke="#111" stroke-width="1.05"/>
<circle cx="530.50" cy="385.00" r="2.8" fill="#828282" stroke="#111" stroke-width="1.05"/>
<circle cx="530.50" cy="387.10" r="2.8" fill="#828282" stroke="#111" stroke-width="1.05"/>
<circle cx="530.50" cy="388.50" r="2.8" fill="#828282" stroke="#111" stroke-width="1.05"/>
<circle cx="530.50" cy="389.80" r="2.8" fill="#828282" stroke="#111" stroke-width="1.05"/>
<circle cx="549.90" cy="362.30" r="2.8" fill="#5454f4" stroke="#111" stroke-width="1.05"/>
<circle cx="549.90" cy="376.30" r="2.8" fill="#5454f4" stroke="#111" stroke-width="1.05"/>
<circle cx="549.90" cy="378.00" r="2.8" fill="#5454f4" stroke="#111" stroke-width="1.05"/>
<circle cx="549.90" cy="380.80" r="2.8" fill="#5454f4" stroke="#111" stroke-width="1.05"/>
<circle cx="549.90" cy="383.50" r="2.8" fill="#5454f4" stroke="#111" stroke-width="1.05"/>
<circle cx="549.90" cy="386.00" r="2.8" fill="#5454f4" stroke="#111" stroke-width="1.05"/>
<circle cx="581.50" cy="349.80" r="2.8" fill="#828282" stroke="#111" stroke-width="1.05"/>
<circle cx="581.50" cy="364.50" r="2.8" fill="#828282" stroke="#111" stroke-width="1.05"/>
<circle cx="581.50" cy="367.50" r="2.8" fill="#828282" stroke="#111" stroke-width="1.05"/>
<circle cx="581.50" cy="375.40" r="2.8" fill="#828282" stroke="#111" stroke-width="1.05"/>
<circle cx="581.50" cy="377.50" r="2.8" fill="#828282" stroke="#111" stroke-width="1.05"/>
<circle cx="581.50" cy="381.40" r="2.8" fill="#828282" stroke="#111" stroke-width="1.05"/>
<circle cx="581.50" cy="386.50" r="2.8" fill="#828282" stroke="#111" stroke-width="1.05"/>
<circle cx="600.90" cy="343.80" r="2.8" fill="#5454f4" stroke="#111" stroke-width="1.05"/>
<circle cx="600.90" cy="364.50" r="2.8" fill="#5454f4" stroke="#111" stroke-width="1.05"/>
<circle cx="600.90" cy="368.00" r="2.8" fill="#5454f4" stroke="#111" stroke-width="1.05"/>
<circle cx="600.90" cy="374.40" r="2.8" fill="#5454f4" stroke="#111" stroke-width="1.05"/>
<circle cx="600.90" cy="376.00" r="2.8" fill="#5454f4" stroke="#111" stroke-width="1.05"/>
<circle cx="600.90" cy="378.20" r="2.8" fill="#5454f4" stroke="#111" stroke-width="1.05"/>
<circle cx="600.90" cy="382.30" r="2.8" fill="#5454f4" stroke="#111" stroke-width="1.05"/>
<line x1="416.00" y1="279.70" x2="416.00" y2="399.10" stroke="#333" stroke-width="1.8"/>
<line x1="407.90" y1="399.10" x2="614.30" y2="399.10" stroke="#111" stroke-width="1.3"/>
<line x1="408.10" y1="399.10" x2="416.00" y2="399.10" stroke="#333" stroke-width="1.3"/>
<text x="404.90" y="403.20" font-size="10.2" text-anchor="end" fill="#222">0</text>
<line x1="408.10" y1="369.40" x2="416.00" y2="369.40" stroke="#333" stroke-width="1.3"/>
<text x="404.90" y="373.50" font-size="10.2" text-anchor="end" fill="#222">20</text>
<line x1="408.10" y1="339.70" x2="416.00" y2="339.70" stroke="#333" stroke-width="1.3"/>
<text x="404.90" y="343.80" font-size="10.2" text-anchor="end" fill="#222">40</text>
<line x1="408.10" y1="310.00" x2="416.00" y2="310.00" stroke="#333" stroke-width="1.3"/>
<text x="404.90" y="314.10" font-size="10.2" text-anchor="end" fill="#222">60</text>
<line x1="408.10" y1="280.30" x2="416.00" y2="280.30" stroke="#333" stroke-width="1.3"/>
<text x="404.90" y="284.40" font-size="10.2" text-anchor="end" fill="#222">80</text>
<line x1="438.20" y1="399.10" x2="438.20" y2="407.10" stroke="#333" stroke-width="1.2"/>
<text x="431.60" y="418.60" font-size="10.4" text-anchor="start" fill="#111" textLength="13.2" lengthAdjust="spacingAndGlyphs">Un</text>
<line x1="489.20" y1="399.10" x2="489.20" y2="407.10" stroke="#333" stroke-width="1.2"/>
<text x="463.65" y="418.60" font-size="10.4" text-anchor="start" fill="#111" textLength="51.1" lengthAdjust="spacingAndGlyphs">anti-NK1.1</text>
<line x1="540.20" y1="399.10" x2="540.20" y2="407.10" stroke="#333" stroke-width="1.2"/>
<text x="528.15" y="418.60" font-size="10.4" text-anchor="start" fill="#111" textLength="24.1" lengthAdjust="spacingAndGlyphs">IL-12</text>
<line x1="591.20" y1="399.10" x2="591.20" y2="407.10" stroke="#333" stroke-width="1.2"/>
<text x="571.45" y="418.60" font-size="10.4" text-anchor="start" fill="#111" textLength="39.5" lengthAdjust="spacingAndGlyphs">IL-12/18</text>
<text x="420.25" y="271.80" font-size="10.0" text-anchor="start" fill="#222" textLength="34.1" lengthAdjust="spacingAndGlyphs">&lt;0.0001</text>
<line x1="421.50" y1="275.50" x2="453.10" y2="275.50" stroke="#222" stroke-width="1.0"/>
<text x="472.05" y="271.80" font-size="10.0" text-anchor="start" fill="#222" textLength="34.1" lengthAdjust="spacingAndGlyphs">0.00047</text>
<line x1="473.30" y1="275.50" x2="504.90" y2="275.50" stroke="#222" stroke-width="1.0"/>
<text x="521.65" y="271.80" font-size="10.0" text-anchor="start" fill="#222" textLength="34.1" lengthAdjust="spacingAndGlyphs">&lt;0.0001</text>
<line x1="522.90" y1="275.50" x2="554.50" y2="275.50" stroke="#222" stroke-width="1.0"/>
<text x="576.35" y="271.80" font-size="10.0" text-anchor="start" fill="#222" textLength="29.7" lengthAdjust="spacingAndGlyphs">0.0223</text>
<line x1="575.40" y1="275.50" x2="607.00" y2="275.50" stroke="#222" stroke-width="1.0"/>
<line x1="624.20" y1="286.40" x2="645.30" y2="286.40" stroke="#111" stroke-width="1.2"/>
<circle cx="634.70" cy="286.40" r="2.8" fill="#828282" stroke="#111" stroke-width="1.1"/>
<text x="658.60" y="290.60" font-size="10.6" text-anchor="start" fill="#111">TNF-</text>
<line x1="624.20" y1="308.80" x2="645.30" y2="308.80" stroke="#111" stroke-width="1.2"/>
<circle cx="634.70" cy="308.80" r="2.8" fill="#5454f4" stroke="#111" stroke-width="1.1"/>
<text x="658.60" y="312.70" font-size="10.6" text-anchor="start" fill="#111">TNF+</text>
<text x="384.60" y="341.50" font-size="11" text-anchor="middle" fill="#111" transform="rotate(-90 384.60 341.50)">NK cells CD107a<tspan font-size="6.5" dy="-4">+</tspan><tspan dy="4"> (%)</tspan></text>
<rect x="422.20" y="595.40" width="12.60" height="8.70" fill="#d3d3d3"/>
<rect x="441.60" y="590.20" width="12.60" height="13.90" fill="#8c8cfb"/>
<rect x="473.20" y="569.90" width="12.60" height="34.20" fill="#d3d3d3"/>
<rect x="492.60" y="559.70" width="12.60" height="44.40" fill="#8c8cfb"/>
<rect x="524.20" y="574.90" width="12.60" height="29.20" fill="#d3d3d3"/>
<rect x="543.60" y="547.10" width="12.60" height="57.00" fill="#8c8cfb"/>
<rect x="575.20" y="504.90" width="12.60" height="99.20" fill="#d3d3d3"/>
<rect x="594.60" y="495.20" width="12.60" height="108.90" fill="#8c8cfb"/>
<line x1="428.50" y1="590.50" x2="447.90" y2="585.50" stroke="#111" stroke-width="1.0"/>
<line x1="428.50" y1="591.50" x2="447.90" y2="587.00" stroke="#111" stroke-width="1.0"/>
<line x1="428.50" y1="593.10" x2="447.90" y2="589.60" stroke="#111" stroke-width="1.0"/>
<line x1="428.50" y1="595.00" x2="447.90" y2="591.50" stroke="#111" stroke-width="1.0"/>
<line x1="428.50" y1="597.00" x2="447.90" y2="593.00" stroke="#111" stroke-width="1.0"/>
<line x1="428.50" y1="598.40" x2="447.90" y2="593.70" stroke="#111" stroke-width="1.0"/>
<line x1="479.50" y1="561.50" x2="498.90" y2="544.50" stroke="#111" stroke-width="1.0"/>
<line x1="479.50" y1="562.50" x2="498.90" y2="548.10" stroke="#111" stroke-width="1.0"/>
<line x1="479.50" y1="564.00" x2="498.90" y2="552.80" stroke="#111" stroke-width="1.0"/>
<line x1="479.50" y1="566.60" x2="498.90" y2="560.50" stroke="#111" stroke-width="1.0"/>
<line x1="479.50" y1="568.00" x2="498.90" y2="563.00" stroke="#111" stroke-width="1.0"/>
<line x1="479.50" y1="571.40" x2="498.90" y2="565.50" stroke="#111" stroke-width="1.0"/>
<line x1="479.50" y1="574.00" x2="498.90" y2="567.00" stroke="#111" stroke-width="1.0"/>
<line x1="479.50" y1="576.50" x2="498.90" y2="572.80" stroke="#111" stroke-width="1.0"/>
<line x1="530.50" y1="564.60" x2="549.90" y2="539.00" stroke="#111" stroke-width="1.0"/>
<line x1="530.50" y1="566.50" x2="549.90" y2="541.00" stroke="#111" stroke-width="1.0"/>
<line x1="530.50" y1="568.60" x2="549.90" y2="543.50" stroke="#111" stroke-width="1.0"/>
<line x1="530.50" y1="572.70" x2="549.90" y2="552.00" stroke="#111" stroke-width="1.0"/>
<line x1="530.50" y1="575.00" x2="549.90" y2="553.00" stroke="#111" stroke-width="1.0"/>
<line x1="530.50" y1="580.30" x2="549.90" y2="554.30" stroke="#111" stroke-width="1.0"/>
<line x1="581.50" y1="497.90" x2="600.90" y2="490.20" stroke="#111" stroke-width="1.0"/>
<line x1="581.50" y1="500.50" x2="600.90" y2="492.50" stroke="#111" stroke-width="1.0"/>
<line x1="581.50" y1="503.20" x2="600.90" y2="495.20" stroke="#111" stroke-width="1.0"/>
<line x1="581.50" y1="506.00" x2="600.90" y2="497.00" stroke="#111" stroke-width="1.0"/>
<line x1="581.50" y1="509.40" x2="600.90" y2="499.40" stroke="#111" stroke-width="1.0"/>
<line x1="581.50" y1="512.00" x2="600.90" y2="499.40" stroke="#111" stroke-width="1.0"/>
<circle cx="428.50" cy="590.50" r="2.8" fill="#828282" stroke="#111" stroke-width="1.05"/>
<circle cx="428.50" cy="591.50" r="2.8" fill="#828282" stroke="#111" stroke-width="1.05"/>
<circle cx="428.50" cy="593.10" r="2.8" fill="#828282" stroke="#111" stroke-width="1.05"/>
<circle cx="428.50" cy="595.00" r="2.8" fill="#828282" stroke="#111" stroke-width="1.05"/>
<circle cx="428.50" cy="597.00" r="2.8" fill="#828282" stroke="#111" stroke-width="1.05"/>
<circle cx="428.50" cy="598.40" r="2.8" fill="#828282" stroke="#111" stroke-width="1.05"/>
<circle cx="447.90" cy="585.50" r="2.8" fill="#5454f4" stroke="#111" stroke-width="1.05"/>
<circle cx="447.90" cy="587.00" r="2.8" fill="#5454f4" stroke="#111" stroke-width="1.05"/>
<circle cx="447.90" cy="589.60" r="2.8" fill="#5454f4" stroke="#111" stroke-width="1.05"/>
<circle cx="447.90" cy="591.50" r="2.8" fill="#5454f4" stroke="#111" stroke-width="1.05"/>
<circle cx="447.90" cy="593.00" r="2.8" fill="#5454f4" stroke="#111" stroke-width="1.05"/>
<circle cx="447.90" cy="593.70" r="2.8" fill="#5454f4" stroke="#111" stroke-width="1.05"/>
<circle cx="479.50" cy="561.50" r="2.8" fill="#828282" stroke="#111" stroke-width="1.05"/>
<circle cx="479.50" cy="562.50" r="2.8" fill="#828282" stroke="#111" stroke-width="1.05"/>
<circle cx="479.50" cy="564.00" r="2.8" fill="#828282" stroke="#111" stroke-width="1.05"/>
<circle cx="479.50" cy="566.60" r="2.8" fill="#828282" stroke="#111" stroke-width="1.05"/>
<circle cx="479.50" cy="568.00" r="2.8" fill="#828282" stroke="#111" stroke-width="1.05"/>
<circle cx="479.50" cy="571.40" r="2.8" fill="#828282" stroke="#111" stroke-width="1.05"/>
<circle cx="479.50" cy="574.00" r="2.8" fill="#828282" stroke="#111" stroke-width="1.05"/>
<circle cx="479.50" cy="576.50" r="2.8" fill="#828282" stroke="#111" stroke-width="1.05"/>
<circle cx="498.90" cy="544.50" r="2.8" fill="#5454f4" stroke="#111" stroke-width="1.05"/>
<circle cx="498.90" cy="548.10" r="2.8" fill="#5454f4" stroke="#111" stroke-width="1.05"/>
<circle cx="498.90" cy="552.80" r="2.8" fill="#5454f4" stroke="#111" stroke-width="1.05"/>
<circle cx="498.90" cy="560.50" r="2.8" fill="#5454f4" stroke="#111" stroke-width="1.05"/>
<circle cx="498.90" cy="563.00" r="2.8" fill="#5454f4" stroke="#111" stroke-width="1.05"/>
<circle cx="498.90" cy="565.50" r="2.8" fill="#5454f4" stroke="#111" stroke-width="1.05"/>
<circle cx="498.90" cy="567.00" r="2.8" fill="#5454f4" stroke="#111" stroke-width="1.05"/>
<circle cx="498.90" cy="572.80" r="2.8" fill="#5454f4" stroke="#111" stroke-width="1.05"/>
<circle cx="530.50" cy="564.60" r="2.8" fill="#828282" stroke="#111" stroke-width="1.05"/>
<circle cx="530.50" cy="566.50" r="2.8" fill="#828282" stroke="#111" stroke-width="1.05"/>
<circle cx="530.50" cy="568.60" r="2.8" fill="#828282" stroke="#111" stroke-width="1.05"/>
<circle cx="530.50" cy="572.70" r="2.8" fill="#828282" stroke="#111" stroke-width="1.05"/>
<circle cx="530.50" cy="575.00" r="2.8" fill="#828282" stroke="#111" stroke-width="1.05"/>
<circle cx="530.50" cy="580.30" r="2.8" fill="#828282" stroke="#111" stroke-width="1.05"/>
<circle cx="549.90" cy="539.00" r="2.8" fill="#5454f4" stroke="#111" stroke-width="1.05"/>
<circle cx="549.90" cy="541.00" r="2.8" fill="#5454f4" stroke="#111" stroke-width="1.05"/>
<circle cx="549.90" cy="543.50" r="2.8" fill="#5454f4" stroke="#111" stroke-width="1.05"/>
<circle cx="549.90" cy="552.00" r="2.8" fill="#5454f4" stroke="#111" stroke-width="1.05"/>
<circle cx="549.90" cy="553.00" r="2.8" fill="#5454f4" stroke="#111" stroke-width="1.05"/>
<circle cx="549.90" cy="554.30" r="2.8" fill="#5454f4" stroke="#111" stroke-width="1.05"/>
<circle cx="581.50" cy="497.90" r="2.8" fill="#828282" stroke="#111" stroke-width="1.05"/>
<circle cx="581.50" cy="500.50" r="2.8" fill="#828282" stroke="#111" stroke-width="1.05"/>
<circle cx="581.50" cy="503.20" r="2.8" fill="#828282" stroke="#111" stroke-width="1.05"/>
<circle cx="581.50" cy="506.00" r="2.8" fill="#828282" stroke="#111" stroke-width="1.05"/>
<circle cx="581.50" cy="509.40" r="2.8" fill="#828282" stroke="#111" stroke-width="1.05"/>
<circle cx="581.50" cy="512.00" r="2.8" fill="#828282" stroke="#111" stroke-width="1.05"/>
<circle cx="600.90" cy="490.20" r="2.8" fill="#5454f4" stroke="#111" stroke-width="1.05"/>
<circle cx="600.90" cy="492.50" r="2.8" fill="#5454f4" stroke="#111" stroke-width="1.05"/>
<circle cx="600.90" cy="495.20" r="2.8" fill="#5454f4" stroke="#111" stroke-width="1.05"/>
<circle cx="600.90" cy="497.00" r="2.8" fill="#5454f4" stroke="#111" stroke-width="1.05"/>
<circle cx="600.90" cy="499.40" r="2.8" fill="#5454f4" stroke="#111" stroke-width="1.05"/>
<circle cx="600.90" cy="499.40" r="2.8" fill="#5454f4" stroke="#111" stroke-width="1.05"/>
<line x1="416.00" y1="484.70" x2="416.00" y2="604.10" stroke="#333" stroke-width="1.8"/>
<line x1="407.90" y1="604.10" x2="614.30" y2="604.10" stroke="#111" stroke-width="1.3"/>
<line x1="408.10" y1="604.10" x2="416.00" y2="604.10" stroke="#333" stroke-width="1.3"/>
<text x="404.90" y="608.20" font-size="10.2" text-anchor="end" fill="#222">0</text>
<line x1="408.10" y1="544.70" x2="416.00" y2="544.70" stroke="#333" stroke-width="1.3"/>
<text x="404.90" y="548.80" font-size="10.2" text-anchor="end" fill="#222">50</text>
<line x1="408.10" y1="485.30" x2="416.00" y2="485.30" stroke="#333" stroke-width="1.3"/>
<text x="404.90" y="489.40" font-size="10.2" text-anchor="end" fill="#222">100</text>
<line x1="438.20" y1="604.10" x2="438.20" y2="612.10" stroke="#333" stroke-width="1.2"/>
<text x="431.60" y="623.60" font-size="10.4" text-anchor="start" fill="#111" textLength="13.2" lengthAdjust="spacingAndGlyphs">Un</text>
<line x1="489.20" y1="604.10" x2="489.20" y2="612.10" stroke="#333" stroke-width="1.2"/>
<text x="463.65" y="623.60" font-size="10.4" text-anchor="start" fill="#111" textLength="51.1" lengthAdjust="spacingAndGlyphs">anti-NK1.1</text>
<line x1="540.20" y1="604.10" x2="540.20" y2="612.10" stroke="#333" stroke-width="1.2"/>
<text x="528.15" y="623.60" font-size="10.4" text-anchor="start" fill="#111" textLength="24.1" lengthAdjust="spacingAndGlyphs">IL-12</text>
<line x1="591.20" y1="604.10" x2="591.20" y2="612.10" stroke="#333" stroke-width="1.2"/>
<text x="571.45" y="623.60" font-size="10.4" text-anchor="start" fill="#111" textLength="39.5" lengthAdjust="spacingAndGlyphs">IL-12/18</text>
<text x="420.25" y="477.90" font-size="10.0" text-anchor="start" fill="#222" textLength="34.1" lengthAdjust="spacingAndGlyphs">&lt;0.0001</text>
<line x1="421.50" y1="481.50" x2="453.10" y2="481.50" stroke="#222" stroke-width="1.0"/>
<text x="472.05" y="477.90" font-size="10.0" text-anchor="start" fill="#222" textLength="34.1" lengthAdjust="spacingAndGlyphs">0.00013</text>
<line x1="473.30" y1="481.50" x2="504.90" y2="481.50" stroke="#222" stroke-width="1.0"/>
<text x="521.65" y="477.90" font-size="10.0" text-anchor="start" fill="#222" textLength="34.1" lengthAdjust="spacingAndGlyphs">&lt;0.0001</text>
<line x1="522.90" y1="481.50" x2="554.50" y2="481.50" stroke="#222" stroke-width="1.0"/>
<text x="574.15" y="477.90" font-size="10.0" text-anchor="start" fill="#222" textLength="34.1" lengthAdjust="spacingAndGlyphs">&lt;0.0001</text>
<line x1="575.40" y1="481.50" x2="607.00" y2="481.50" stroke="#222" stroke-width="1.0"/>
<line x1="624.20" y1="479.50" x2="645.30" y2="479.50" stroke="#111" stroke-width="1.2"/>
<circle cx="634.70" cy="479.50" r="2.8" fill="#828282" stroke="#111" stroke-width="1.1"/>
<text x="658.60" y="483.70" font-size="10.6" text-anchor="start" fill="#111">TNF-</text>
<line x1="624.20" y1="501.90" x2="645.30" y2="501.90" stroke="#111" stroke-width="1.2"/>
<circle cx="634.70" cy="501.90" r="2.8" fill="#5454f4" stroke="#111" stroke-width="1.1"/>
<text x="658.60" y="505.60" font-size="10.6" text-anchor="start" fill="#111">TNF+</text>
<text x="379.60" y="544.40" font-size="11" text-anchor="middle" fill="#111" transform="rotate(-90 379.60 544.40)">NK cells IFN-γ<tspan font-size="6.5" dy="-4">+</tspan><tspan dy="4"> (%)</tspan></text>
</svg></body></html>
